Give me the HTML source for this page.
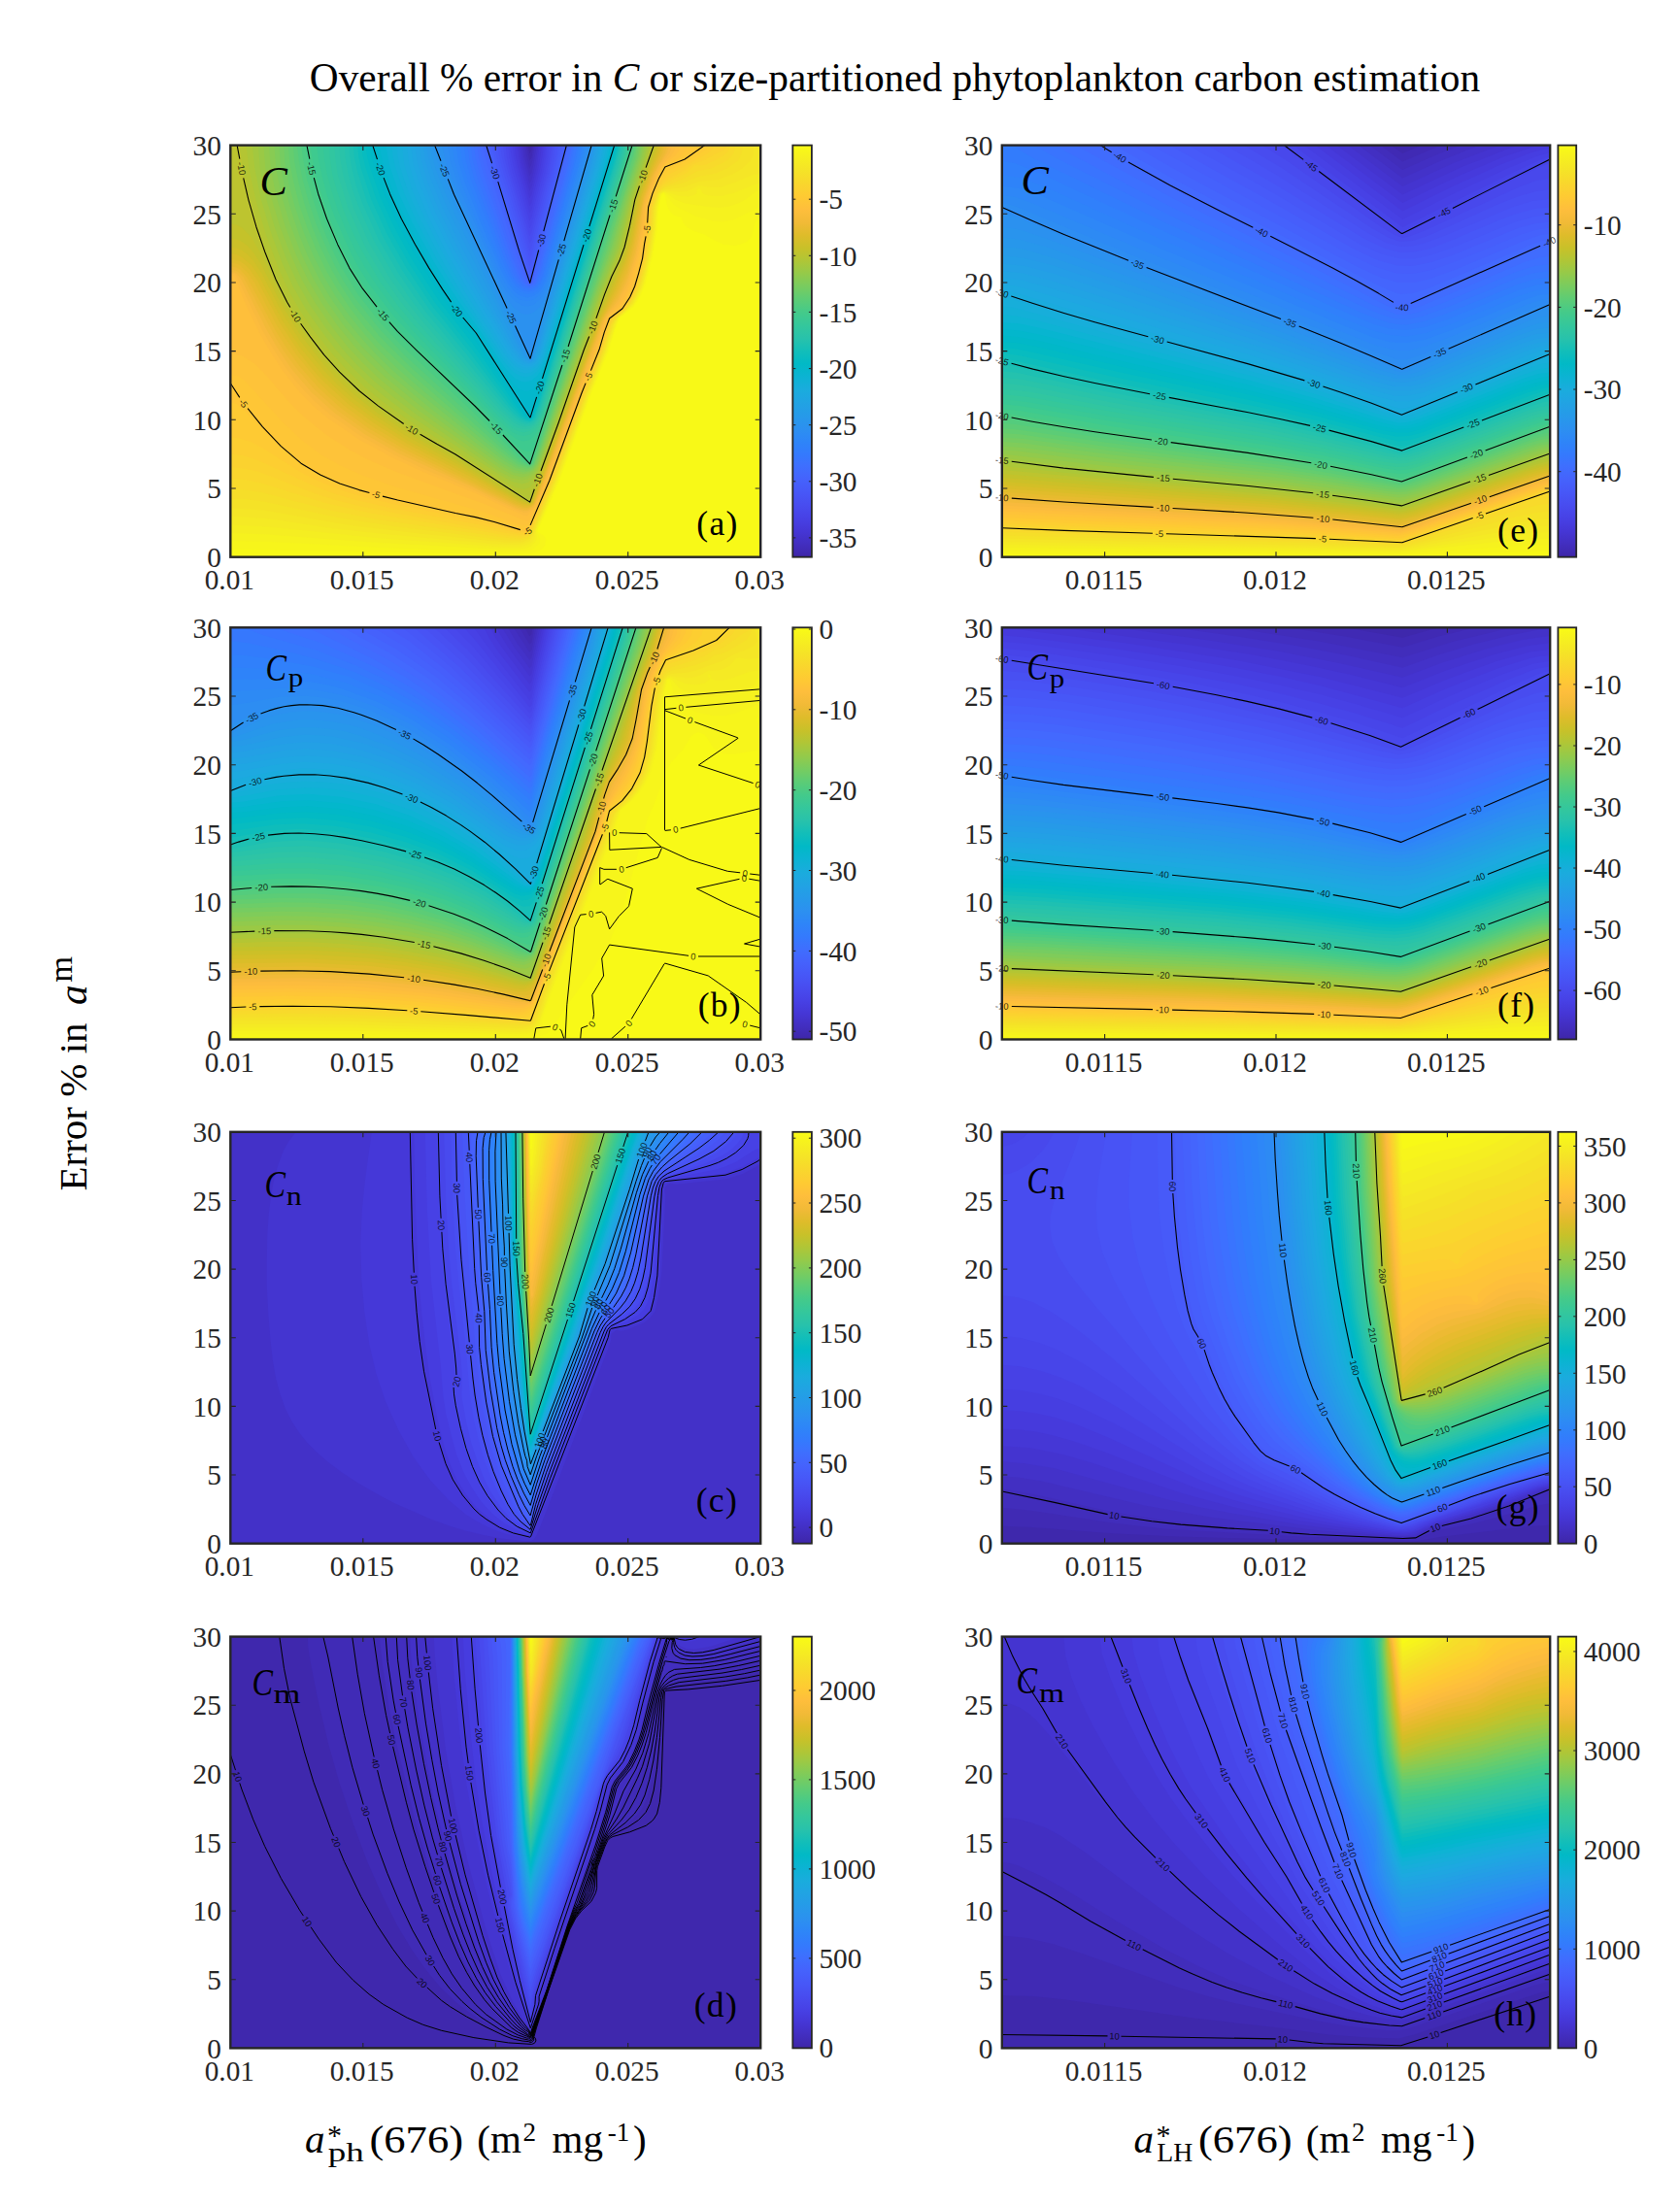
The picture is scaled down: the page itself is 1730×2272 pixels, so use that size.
<!DOCTYPE html>
<html><head><meta charset="utf-8"><title>Overall % error in C</title><style>html,body{margin:0;padding:0;background:#fff}svg{display:block}</style></head><body><svg width="1730" height="2272" viewBox="0 0 1730 2272"><defs><linearGradient id="pg" x1="0" y1="0" x2="0" y2="1"><stop offset="0%" stop-color="#f9fb15"/><stop offset="3.1%" stop-color="#f6ef20"/><stop offset="6.2%" stop-color="#f5e327"/><stop offset="9.4%" stop-color="#f9d62d"/><stop offset="12.5%" stop-color="#feca33"/><stop offset="15.6%" stop-color="#febe3c"/><stop offset="18.8%" stop-color="#f1ba37"/><stop offset="21.9%" stop-color="#debc2a"/><stop offset="25%" stop-color="#c8c129"/><stop offset="28.1%" stop-color="#afc637"/><stop offset="31.2%" stop-color="#94ca4a"/><stop offset="34.4%" stop-color="#77cc60"/><stop offset="37.5%" stop-color="#5ccc76"/><stop offset="40.6%" stop-color="#44ca8a"/><stop offset="43.8%" stop-color="#34c79c"/><stop offset="46.9%" stop-color="#28c2ab"/><stop offset="50%" stop-color="#12beb9"/><stop offset="53.1%" stop-color="#01b9c6"/><stop offset="56.2%" stop-color="#0cb3d3"/><stop offset="59.4%" stop-color="#1aacdd"/><stop offset="62.5%" stop-color="#21a3e3"/><stop offset="65.6%" stop-color="#269ae9"/><stop offset="68.8%" stop-color="#2c90f0"/><stop offset="71.9%" stop-color="#2e85f8"/><stop offset="75%" stop-color="#347afd"/><stop offset="78.1%" stop-color="#3f6efe"/><stop offset="81.2%" stop-color="#4562fc"/><stop offset="84.4%" stop-color="#4757f7"/><stop offset="87.5%" stop-color="#484cef"/><stop offset="90.6%" stop-color="#4741e5"/><stop offset="93.8%" stop-color="#4536d5"/><stop offset="96.9%" stop-color="#422ebf"/><stop offset="100%" stop-color="#3e26a8"/></linearGradient></defs>
<g transform="translate(237.3,149.6) scale(0.5)">
<rect width="1092" height="848" fill="#3e28ac"/>
<path fill="#402ab4" d="M1088 848l-1088 0 0 -848 613 0 3 17 4 -7 1 -10 471 0 0 848 -4 0z"/>
<path fill="#412dbb" d="M1088 848l-1088 0 0 -848 609 0 7 32 4 -6 4 -26 468 0 0 848 -4 0z"/>
<path fill="#422fc2" d="M1088 848l-1088 0 0 -848 606 0 3 20 7 28 5 -12 6 -36 465 0 0 848 -4 0z"/>
<path fill="#4332c9" d="M1088 848l-1088 0 0 -848 602 0 3 24 11 39 4 -6 4 -17 7 -40 461 0 0 848 -4 0z"/>
<path fill="#4434d0" d="M1088 848l-1088 0 0 -848 598 0 4 28 14 51 4 -7 8 -32 6 -40 458 0 0 848 -4 0z"/>
<path fill="#4537d6" d="M1088 848l-1088 0 0 -848 594 0 5 36 17 58 4 -6 11 -44 6 -44 455 0 0 848 -4 0z"/>
<path fill="#463adc" d="M1088 848l-1088 0 0 -848 590 0 6 40 20 69 4 -6 14 -55 5 -28 2 -20 451 0 0 848 -4 0z"/>
<path fill="#463ee1" d="M1088 848l-1088 0 0 -848 586 0 1 20 5 24 24 81 4 -6 18 -71 5 -28 2 -20 447 0 0 848 -4 0z"/>
<path fill="#4741e5" d="M1088 848l-1088 0 0 -848 581 0 2 20 5 24 28 96 4 -6 21 -82 5 -28 3 -24 443 0 0 848 -4 0z"/>
<path fill="#4745e9" d="M1088 848l-1088 0 0 -848 576 0 2 20 6 28 32 108 4 -7 25 -97 5 -28 2 -24 440 0 0 848 -4 0z"/>
<path fill="#4848ec" d="M1088 848l-1088 0 0 -848 572 0 2 24 6 28 36 119 4 -6 28 -109 6 -32 2 -24 436 0 0 848 -4 0z"/>
<path fill="#484cef" d="M1088 848l-1088 0 0 -848 567 0 2 24 6 28 41 135 4 -7 32 -124 6 -32 3 -24 431 0 0 848 -4 0z"/>
<path fill="#4850f2" d="M1088 848l-1088 0 0 -848 562 0 2 24 7 28 45 150 4 -6 36 -140 6 -32 3 -24 427 0 0 848 -4 0z"/>
<path fill="#4853f5" d="M1088 848l-1088 0 0 -848 556 0 2 20 8 32 50 166 4 -7 40 -155 7 -32 2 -24 423 0 0 848 -4 0z"/>
<path fill="#4757f7" d="M1088 848l-1088 0 0 -848 551 0 2 20 8 32 55 181 4 -7 44 -170 8 -36 2 -20 418 0 0 848 -4 0z"/>
<path fill="#475af9" d="M1088 848l-1088 0 0 -848 544 0 3 20 8 28 61 201 4 -8 48 -185 11 -56 413 0 0 848 -4 0z"/>
<path fill="#465efb" d="M1088 848l-1088 0 0 -848 538 0 9 40 69 225 4 -9 53 -204 11 -52 408 0 0 848 -4 0z"/>
<path fill="#4561fc" d="M1088 848l-1088 0 0 -848 529 0 87 278 4 -10 70 -268 402 0 0 848 -4 0z"/>
<path fill="#4465fd" d="M1088 848l-1088 0 0 -848 523 0 69 220 24 65 3 -1 2 -4 73 -280 398 0 0 848 -4 0z"/>
<path fill="#4369fe" d="M1088 848l-1088 0 0 -848 519 0 11 44 57 176 18 48 8 16 3 2 6 -2 1 -4 74 -280 395 0 0 848 -4 0z"/>
<path fill="#406cfe" d="M1088 848l-1088 0 0 -848 513 0 4 20 8 32 56 168 22 52 7 12 6 4 4 -1 3 -3 10 -28 58 -216 9 -40 392 0 0 848 -4 0z"/>
<path fill="#3d70ff" d="M1088 848l-1088 0 0 -848 508 0 3 24 10 36 56 164 21 48 8 12 10 6 4 -1 6 -5 10 -28 59 -216 8 -40 389 0 0 848 -4 0z"/>
<path fill="#3974fe" d="M1088 848l-1088 0 0 -848 501 0 4 28 10 36 60 168 20 44 11 12 10 4 8 -3 5 -5 9 -24 59 -216 9 -44 386 0 0 848 -4 0z"/>
<path fill="#3678fd" d="M1088 848l-1088 0 0 -848 495 0 3 28 11 40 62 168 12 28 10 16 11 11 12 4 8 -3 5 -4 5 -8 7 -20 60 -216 8 -44 383 0 0 848 -4 0z"/>
<path fill="#327cfc" d="M1088 848l-1088 0 0 -848 488 0 4 32 11 40 64 168 13 28 10 16 14 12 12 2 8 -2 8 -7 6 -9 6 -16 61 -220 6 -28 2 -16 379 0 0 848 -4 0z"/>
<path fill="#3080fb" d="M1088 848l-1088 0 0 -848 481 0 4 32 12 44 64 164 13 28 13 20 13 11 12 3 12 -2 8 -6 7 -10 7 -16 61 -220 7 -28 3 -20 375 0 0 848 -4 0z"/>
<path fill="#2e83f9" d="M1088 848l-1088 0 0 -848 473 0 4 32 13 44 27 72 42 100 14 28 11 16 12 10 16 5 12 -2 8 -5 9 -12 7 -16 63 -224 7 -28 2 -20 372 0 0 848 -4 0z"/>
<path fill="#2e87f7" d="M1088 848l-1088 0 0 -848 465 0 4 32 15 48 30 76 43 100 14 28 13 16 12 10 16 4 12 -3 12 -9 8 -12 6 -14 65 -228 7 -28 2 -20 368 0 0 848 -4 0z"/>
<path fill="#2d8af4" d="M1088 848l-1088 0 0 -848 456 0 5 32 17 52 32 80 45 100 15 28 14 17 12 9 16 3 12 -3 12 -9 8 -11 8 -17 66 -233 8 -32 2 -16 364 0 0 848 -4 0z"/>
<path fill="#2d8df2" d="M1088 848l-1088 0 0 -848 447 0 7 36 19 56 81 184 16 28 14 16 16 10 12 2 12 -3 12 -10 8 -11 9 -20 69 -240 11 -48 359 0 0 848 -4 0z"/>
<path fill="#2b91ef" d="M1088 848l-1088 0 0 -848 436 0 7 32 25 68 88 191 16 29 12 15 16 12 12 2 12 -4 12 -11 8 -13 9 -21 73 -252 12 -48 354 0 0 848 -4 0z"/>
<path fill="#2994ed" d="M1088 848l-1088 0 0 -848 421 0 39 100 133 284 23 53 4 -7 124 -430 348 0 0 848 -4 0z"/>
<path fill="#2797eb" d="M1088 848l-1088 0 0 -848 416 0 12 39 33 81 132 280 23 41 4 -1 5 -16 121 -424 346 0 0 848 -4 0z"/>
<path fill="#269ae8" d="M1088 848l-1088 0 0 -848 410 0 4 20 10 32 19 48 20 44 127 260 16 28 6 8 4 3 6 -3 9 -28 109 -376 9 -36 343 0 0 848 -4 0z"/>
<path fill="#249de7" d="M1088 848l-1088 0 0 -848 403 0 4 24 13 40 19 48 24 52 124 244 18 28 11 8 4 0 4 -4 10 -28 108 -372 9 -40 341 0 0 848 -4 0z"/>
<path fill="#23a0e5" d="M1088 848l-1088 0 0 -848 396 0 5 32 13 40 19 48 30 64 47 92 73 136 17 24 8 7 8 3 4 0 6 -6 11 -28 108 -372 9 -40 338 0 0 848 -4 0z"/>
<path fill="#21a3e3" d="M1088 848l-1088 0 0 -848 389 0 4 32 13 44 23 56 33 68 44 84 74 132 18 24 10 7 8 2 8 -4 5 -5 9 -24 110 -372 7 -28 2 -16 335 0 0 848 -4 0z"/>
<path fill="#1fa6e2" d="M1088 848l-1088 0 0 -848 380 0 5 36 15 48 25 60 36 72 42 76 74 128 20 24 11 6 8 1 8 -3 5 -4 5 -8 7 -20 110 -372 7 -28 2 -16 332 0 0 848 -4 0z"/>
<path fill="#1da9e0" d="M1088 848l-1088 0 0 -848 372 0 5 40 14 44 23 56 36 72 44 80 77 128 11 16 10 10 10 6 10 3 8 -1 8 -6 6 -8 8 -20 111 -372 8 -28 2 -20 329 0 0 848 -4 0z"/>
<path fill="#1aabdd" d="M1088 848l-1088 0 0 -848 363 0 5 40 15 48 25 60 39 76 44 76 79 128 10 13 12 11 12 6 8 1 12 -3 8 -7 5 -9 7 -16 113 -376 7 -28 3 -20 325 0 0 848 -4 0z"/>
<path fill="#17aeda" d="M1088 848l-1088 0 0 -848 353 0 5 40 16 52 27 60 37 72 46 80 82 128 10 12 12 12 12 6 8 2 12 -2 12 -8 6 -10 7 -16 115 -380 7 -28 3 -20 322 0 0 848 -4 0z"/>
<path fill="#13b0d7" d="M1088 848l-1088 0 0 -848 343 0 1 20 5 24 17 52 27 60 40 76 45 76 86 130 12 15 12 10 8 4 12 3 12 -2 12 -9 8 -11 7 -16 115 -380 9 -32 3 -20 318 0 0 848 -4 0z"/>
<path fill="#0eb3d4" d="M1088 848l-1088 0 0 -848 332 0 2 20 5 24 19 56 27 60 43 80 47 76 42 60 47 71 12 14 12 10 8 4 12 3 12 -3 12 -9 8 -11 8 -18 118 -385 9 -32 3 -20 314 0 0 848 -4 0z"/>
<path fill="#07b5d0" d="M1088 848l-1088 0 0 -848 320 0 7 40 20 60 28 60 46 84 48 76 44 60 51 77 12 14 12 11 12 5 8 1 12 -3 12 -10 8 -12 10 -23 119 -388 14 -52 309 0 0 848 -4 0z"/>
<path fill="#03b7cc" d="M1088 848l-1088 0 0 -848 306 0 10 44 22 60 25 52 51 92 51 80 45 56 62 95 20 21 12 6 8 1 12 -5 8 -10 16 -37 140 -455 304 0 0 848 -4 0z"/>
<path fill="#01b8c8" d="M1088 848l-1088 0 0 -848 291 0 17 52 20 52 24 52 31 56 51 84 30 44 41 48 111 173 4 -1 1 -8 171 -552 300 0 0 848 -4 0z"/>
<path fill="#02bac4" d="M1088 848l-1088 0 0 -848 285 0 11 44 22 60 25 56 38 68 59 92 20 27 40 49 91 136 18 24 7 6 5 -2 173 -560 298 0 0 848 -4 0z"/>
<path fill="#07bcc0" d="M1088 848l-1088 0 0 -848 278 0 3 20 6 24 22 64 28 60 37 68 55 84 71 90 85 122 19 24 12 8 4 -1 3 -3 8 -24 165 -536 296 0 0 848 -4 0z"/>
<path fill="#0ebdbb" d="M1088 848l-1088 0 0 -848 270 0 2 20 7 28 21 62 30 66 38 68 53 80 75 94 83 114 20 24 9 7 8 3 4 -1 4 -5 9 -24 157 -504 8 -32 294 0 0 848 -4 0z"/>
<path fill="#16bfb7" d="M1088 848l-1088 0 0 -848 262 0 2 24 5 24 21 64 31 68 41 72 54 80 76 94 83 110 23 24 10 6 8 2 4 -1 6 -7 9 -24 156 -500 9 -36 292 0 0 848 -4 0z"/>
<path fill="#1ec0b2" d="M1088 848l-1088 0 0 -848 253 0 2 24 6 28 20 64 33 72 41 72 56 80 77 93 81 103 14 16 13 11 12 6 8 1 8 -4 4 -5 9 -25 155 -496 10 -40 290 0 0 848 -4 0z"/>
<path fill="#24c2ae" d="M1088 848l-1088 0 0 -848 244 0 2 24 5 28 8 32 13 36 32 72 42 72 30 44 30 40 159 192 25 24 10 6 12 3 8 -2 8 -6 9 -21 158 -504 9 -40 288 0 0 848 -4 0z"/>
<path fill="#29c3a9" d="M1088 848l-1088 0 0 -848 235 0 2 28 5 28 8 32 13 36 32 72 42 72 30 44 31 40 160 188 26 26 12 7 12 3 8 0 8 -4 7 -8 7 -16 160 -508 6 -24 3 -16 285 0 0 848 -4 0z"/>
<path fill="#2ec4a5" d="M1088 848l-1088 0 0 -848 224 0 2 28 6 32 9 32 12 36 32 72 42 72 31 44 35 44 161 184 30 28 12 6 12 2 12 -2 8 -6 5 -8 7 -16 159 -504 8 -28 3 -16 282 0 0 848 -4 0z"/>
<path fill="#31c6a0" d="M1088 848l-1088 0 0 -848 214 0 2 28 5 32 21 68 33 76 20 36 23 36 31 44 35 44 166 184 30 28 12 7 12 2 12 -1 8 -5 10 -11 7 -16 161 -508 8 -28 2 -16 280 0 0 848 -4 0z"/>
<path fill="#35c79a" d="M1088 848l-1088 0 0 -848 203 0 2 28 5 32 10 36 14 40 16 40 20 40 40 68 33 44 36 44 171 184 30 27 12 6 12 3 12 -3 12 -8 8 -12 7 -17 160 -504 9 -32 3 -16 277 0 0 848 -4 0z"/>
<path fill="#39c895" d="M1088 848l-1088 0 0 -848 191 0 2 28 6 32 10 36 13 40 16 40 19 40 18 32 23 36 35 48 37 44 178 186 32 29 12 6 12 2 12 -3 12 -9 8 -12 8 -19 162 -508 12 -48 274 0 0 848 -4 0z"/>
<path fill="#3eca8f" d="M1088 848l-1088 0 0 -848 178 0 3 28 8 36 9 36 15 44 36 80 15 28 23 36 49 64 56 60 172 174 20 16 8 5 12 3 12 -3 8 -6 8 -11 12 -27 164 -515 14 -48 270 0 0 848 -4 0z"/>
<path fill="#44cb89" d="M1088 848l-1088 0 0 -848 164 0 8 44 8 32 25 76 22 52 20 40 32 52 44 56 44 48 141 137 72 74 20 16 12 4 12 -2 1 -9 3 -3 12 -35 186 -582 266 0 0 848 -4 0zM620 640l-1 0 1 0z"/>
<path fill="#4ccb83" d="M1088 848l-1088 0 0 -848 153 0 8 44 8 32 24 76 24 56 20 40 33 52 40 52 34 38 160 153 93 97 19 17 4 -3 209 -654 263 0 0 848 -4 0z"/>
<path fill="#54cc7d" d="M1088 848l-1088 0 0 -848 146 0 4 32 8 40 12 40 16 48 20 48 20 40 37 60 44 56 45 48 148 138 91 90 14 12 11 7 5 -3 148 -456 62 -200 261 0 0 848 -4 0z"/>
<path fill="#5ccc76" d="M1088 848l-1088 0 0 -848 137 0 4 32 8 40 12 44 15 45 20 47 19 40 18 32 24 36 51 64 54 56 138 125 80 75 19 16 17 8 6 -4 13 -36 138 -420 55 -177 5 -23 259 0 0 848 -4 0z"/>
<path fill="#64cd6f" d="M1088 848l-1088 0 0 -848 129 0 3 36 8 40 12 44 16 48 18 44 22 44 21 36 24 36 56 68 65 64 202 180 22 16 18 6 8 -6 6 -16 141 -424 59 -192 6 -24 256 0 0 848 -4 0z"/>
<path fill="#6dcd68" d="M1088 848l-1088 0 0 -848 119 0 3 36 8 40 12 48 17 48 18 44 21 44 24 40 26 38 28 36 30 34 71 68 191 164 24 17 20 7 8 -2 6 -6 9 -24 144 -428 55 -180 4 -24 254 0 0 848 -4 0z"/>
<path fill="#76cc61" d="M1088 848l-1088 0 0 -848 110 0 2 36 8 44 13 48 18 52 20 48 22 44 24 40 27 38 31 38 32 36 37 36 41 36 183 151 24 15 20 5 8 -3 5 -4 12 -28 113 -336 32 -92 29 -100 26 -80 4 -24 251 0 0 848 -4 0z"/>
<path fill="#7fcc5a" d="M1088 848l-1088 0 0 -848 100 0 3 40 8 44 13 48 17 52 20 48 22 44 24 40 29 41 32 39 32 35 36 35 44 38 180 144 28 17 20 5 8 -1 8 -5 6 -8 7 -20 115 -337 33 -91 29 -104 26 -80 4 -24 248 0 0 848 -4 0z"/>
<path fill="#88cb53" d="M1088 848l-1088 0 0 -848 90 0 4 48 11 56 18 60 23 60 23 48 28 48 34 48 37 44 60 60 81 68 151 115 24 14 20 5 12 -2 8 -5 8 -11 6 -16 116 -340 34 -92 29 -104 26 -80 4 -24 245 0 0 848 -4 0z"/>
<path fill="#91ca4c" d="M1088 848l-1088 0 0 -848 79 0 4 48 11 56 19 64 23 60 24 50 27 46 33 47 37 45 30 32 34 32 84 68 152 112 27 15 20 3 12 -3 8 -5 8 -10 8 -20 117 -340 35 -92 27 -100 27 -84 4 -24 242 0 0 848 -4 0z"/>
<path fill="#9ac945" d="M1088 848l-1088 0 0 -848 68 0 4 48 11 56 19 64 23 60 23 51 26 45 33 48 35 44 30 32 33 32 79 64 169 120 27 15 20 5 12 -2 12 -8 8 -10 9 -20 119 -342 35 -90 27 -104 27 -84 5 -24 238 0 0 848 -4 0z"/>
<path fill="#a3c83f" d="M1088 848l-1088 0 0 -848 57 0 4 48 12 60 19 64 24 64 22 48 25 44 33 48 35 44 29 32 36 34 36 30 47 36 175 120 26 14 20 4 12 -2 12 -9 8 -10 9 -21 121 -344 37 -92 26 -104 28 -84 5 -24 234 0 0 848 -4 0z"/>
<path fill="#acc738" d="M1088 848l-1088 0 0 -848 45 0 5 48 13 64 19 64 25 68 22 48 25 44 31 44 34 44 30 32 35 34 36 30 48 36 188 124 24 13 20 5 12 -3 12 -9 8 -12 10 -22 122 -345 38 -95 25 -100 29 -88 6 -24 230 0 0 848 -4 0z"/>
<path fill="#b4c533" d="M1088 848l-1088 0 0 -848 32 0 7 52 14 64 20 68 27 72 22 48 23 40 28 40 35 44 29 32 37 36 39 32 50 36 197 126 28 15 16 4 12 -4 8 -9 12 -23 8 -21 123 -344 39 -96 24 -100 36 -112 226 0 0 848 -4 0z"/>
<path fill="#bdc42f" d="M1088 848l-1088 0 0 -848 18 0 9 56 20 80 26 84 22 56 24 48 21 34 56 74 32 36 38 36 46 36 63 44 89 52 136 87 16 11 60 -164 52 -150 44 -118 13 -34 16 -32 11 -28 20 -96 39 -112 221 0 0 848 -4 0z"/>
<path fill="#c4c22a" d="M1088 848l-1088 0 0 -686 12 2 12 6 20 21 20 35 44 94 27 44 53 72 32 35 30 29 50 41 68 47 96 55 152 94 4 -5 110 -312 43 -112 15 -37 16 -32 8 -23 12 -48 11 -56 40 -112 217 0 0 848 -4 0z"/>
<path fill="#ccc028" d="M1088 848l-1088 0 0 -656 12 2 12 5 12 9 12 14 16 25 44 87 32 51 52 67 26 28 34 32 48 38 63 42 101 57 131 79 21 10 3 -2 2 -4 115 -320 28 -73 47 -111 12 -44 15 -72 39 -112 215 0 0 848 -4 0z"/>
<path fill="#d3bf27" d="M1088 848l-1088 0 0 -638 12 2 12 5 12 9 12 13 16 25 44 84 36 56 48 60 27 28 29 26 49 38 63 42 104 57 128 75 24 9 4 -2 3 -5 137 -377 52 -119 10 -36 18 -88 16 -47 21 -53 3 -12 212 0 0 848 -4 0z"/>
<path fill="#dabd28" d="M1088 848l-1088 0 0 -625 12 2 12 6 20 17 16 24 46 88 37 56 49 60 52 49 52 39 68 44 124 66 103 58 13 6 12 2 6 -4 5 -12 133 -364 28 -60 25 -60 12 -40 18 -88 17 -50 19 -46 4 -16 209 0 0 848 -4 0z"/>
<path fill="#e1bc2b" d="M1088 848l-1088 0 0 -614 20 5 12 9 8 8 16 24 47 88 37 57 24 31 24 27 53 49 55 41 68 42 136 71 88 48 16 7 12 1 8 -6 5 -12 133 -364 30 -60 23 -56 13 -43 18 -93 17 -48 20 -44 3 -16 206 0 0 848 -4 0z"/>
<path fill="#e7bb2e" d="M1088 848l-1088 0 0 -606 12 2 8 4 16 15 14 21 46 88 40 60 46 56 26 26 28 24 57 42 71 42 224 116 16 6 12 0 8 -6 6 -14 134 -364 30 -56 22 -52 13 -44 20 -100 17 -48 20 -44 4 -16 202 0 0 848 -4 0z"/>
<path fill="#edba33" d="M1088 848l-1088 0 0 -599 12 3 8 4 14 16 60 112 23 36 26 36 39 44 46 42 58 42 68 40 232 116 14 6 12 1 8 -3 4 -4 6 -12 134 -364 8 -16 24 -40 20 -45 15 -51 20 -104 19 -52 20 -40 4 -16 198 0 0 848 -4 0z"/>
<path fill="#f2ba38" d="M1088 848l-1088 0 0 -593 15 5 12 12 59 112 22 37 25 35 41 48 46 42 59 42 73 42 236 114 12 5 12 1 12 -8 6 -10 136 -368 8 -16 24 -36 18 -39 17 -53 8 -44 7 -48 5 -20 18 -48 24 -44 4 -16 193 0 0 848 -4 0z"/>
<path fill="#f8ba3d" d="M1088 848l-1088 0 0 -588 12 4 10 12 54 107 25 41 24 36 41 48 49 44 61 43 73 41 151 69 88 43 16 5 8 0 12 -8 11 -21 135 -364 6 -11 22 -29 19 -40 18 -56 10 -52 5 -44 7 -24 18 -48 8 -16 16 -24 5 -16 188 0 0 848 -4 0z"/>
<path fill="#fcbc3d" d="M1088 848l-1088 0 0 -583 8 0 3 3 54 112 27 46 20 30 21 28 21 24 20 20 30 26 59 42 77 43 56 27 100 42 92 43 16 6 8 0 8 -5 8 -9 10 -23 112 -296 22 -64 4 -8 24 -28 18 -36 19 -60 10 -52 6 -48 6 -24 21 -52 7 -12 18 -24 5 -16 182 0 0 848 -4 0z"/>
<path fill="#febf3b" d="M1088 848l-1088 0 0 -577 4 -4 4 3 18 46 32 68 28 48 24 36 35 44 23 23 32 27 64 44 68 37 60 28 112 46 100 46 8 1 17 -20 21 -48 69 -188 34 -88 21 -60 6 -10 22 -22 12 -20 8 -20 19 -64 9 -48 7 -56 15 -44 15 -32 22 -24 5 -8 3 -12 175 0 0 848 -4 0z"/>
<path fill="#fec339" d="M1088 848l-1088 0 0 -419 24 5 24 15 20 19 55 64 29 28 44 36 50 32 46 24 57 24 171 62 80 33 12 3 4 -2 2 -4 14 -26 23 -54 66 -180 33 -84 23 -68 27 -23 12 -21 11 -24 17 -60 9 -56 5 -48 16 -48 15 -32 28 -24 6 -8 3 -12 166 0 0 848 -4 0z"/>
<path fill="#fec636" d="M1088 848l-1088 0 0 -376 16 4 16 12 73 80 43 41 36 27 42 24 50 22 64 22 176 50 80 28 8 1 8 -1 4 -3 4 -6 36 -83 67 -182 33 -84 23 -68 26 -20 16 -24 11 -24 15 -60 9 -52 3 -48 21 -60 12 -24 28 -16 10 -8 8 -12 2 -8 152 0 0 848 -4 0z"/>
<path fill="#feca33" d="M1088 848l-1088 0 0 -319 12 4 12 9 76 78 43 36 41 24 35 16 47 16 45 12 205 46 92 26 4 0 46 -108 65 -176 37 -91 10 -37 10 -25 28 -23 15 -24 11 -24 15 -56 9 -56 3 -48 10 -32 22 -48 3 -3 40 -15 44 -30 112 0 0 848 -4 0z"/>
<path fill="#fdce31" d="M1088 848l-1088 0 0 -247 20 3 24 8 24 13 84 53 36 17 44 17 44 13 63 15 173 35 88 22 12 1 4 -6 44 -104 65 -176 35 -88 20 -60 4 -8 21 -16 7 -8 12 -17 12 -27 16 -62 8 -50 3 -48 8 -28 14 -28 15 -19 36 -17 32 -19 12 -8 6 -9 106 0 0 848 -4 0z"/>
<path fill="#fbd22f" d="M1088 848l-1088 0 0 -212 24 3 28 8 120 55 40 15 40 12 84 20 172 32 80 17 16 2 8 -1 6 -7 42 -100 66 -180 36 -88 20 -60 5 -8 21 -17 9 -11 8 -12 12 -28 16 -60 8 -52 4 -48 8 -28 7 -13 12 -16 12 -11 74 -40 11 -8 7 -12 96 0 0 848 -4 0z"/>
<path fill="#fad62d" d="M1088 848l-1088 0 0 -185 28 3 28 6 128 49 40 12 45 11 80 16 231 41 20 2 12 -2 7 -9 43 -100 66 -180 36 -88 18 -56 7 -12 20 -16 9 -12 8 -12 11 -24 18 -64 8 -52 3 -48 8 -24 6 -13 8 -10 12 -10 36 -20 16 -12 24 -8 28 -16 12 -4 5 -7 -1 -4 72 0 0 848 -4 0z"/>
<path fill="#f8da2b" d="M1088 848l-1088 0 0 -161 28 2 32 6 136 42 92 21 288 47 24 1 12 -2 8 -9 43 -103 67 -180 35 -88 19 -56 7 -12 19 -16 10 -12 8 -12 11 -24 17 -64 9 -52 3 -48 6 -20 6 -13 8 -10 8 -6 45 -23 15 -15 12 1 12 -2 32 -16 12 -10 5 -14 63 0 0 848 -4 0z"/>
<path fill="#f6de29" d="M1088 848l-1088 0 0 -140 32 2 32 5 144 38 100 19 264 37 24 1 16 -3 9 -11 45 -108 66 -176 35 -88 18 -56 8 -12 18 -16 10 -12 10 -16 10 -20 16 -60 9 -56 4 -48 10 -30 12 -12 44 -18 24 -14 29 -6 27 -12 11 -8 7 -8 4 -8 2 -12 52 0 0 848 -4 0z"/>
<path fill="#f5e227" d="M1088 848l-1088 0 0 -120 32 1 36 5 152 33 109 17 243 30 24 0 16 -4 9 -10 47 -112 65 -176 35 -88 19 -56 7 -12 18 -16 11 -12 10 -16 9 -20 17 -60 9 -56 4 -48 9 -28 7 -9 8 -4 36 -9 32 -13 36 -7 24 -11 22 -15 7 -16 3 -16 36 0 0 848 -4 0z"/>
<path fill="#f5e626" d="M1088 848l-1088 0 0 -101 68 5 172 30 140 17 196 20 24 -1 16 -7 6 -7 48 -116 63 -172 37 -92 19 -56 7 -12 22 -20 9 -12 10 -16 8 -20 16 -56 9 -60 3 -44 9 -28 6 -6 8 -3 36 -4 32 -12 40 -4 28 -10 22 -13 17 -16 6 -12 0 -20 15 0 0 848 -4 0z"/>
<path fill="#f5ea24" d="M1088 848l-1088 0 0 -84 76 5 140 21 80 9 252 23 44 1 12 -2 12 -5 8 -10 5 -18 42 -100 67 -180 34 -84 18 -56 7 -12 29 -28 10 -16 11 -24 16 -60 9 -56 3 -44 9 -28 8 -6 32 2 16 -1 24 -12 28 4 20 -1 24 -8 40 -17 16 -3 0 790 -4 0z"/>
<path fill="#f5ee21" d="M1088 848l-1088 0 0 -66 76 4 224 23 248 18 44 1 12 -2 12 -4 7 -6 4 -8 2 -16 44 -104 67 -180 33 -84 19 -56 6 -12 23 -20 7 -8 10 -16 11 -24 16 -60 9 -56 3 -44 8 -28 7 -4 4 0 28 9 20 1 9 -2 7 -4 1 -8 3 -3 4 1 4 9 8 4 16 2 16 0 24 -6 40 -17 16 -4 0 770 -4 0z"/>
<path fill="#f6f21e" d="M1088 848l-1088 0 0 -49 76 3 228 17 248 13 44 0 12 -1 12 -5 9 -10 2 -8 -2 -12 1 -4 45 -104 66 -180 34 -84 19 -56 5 -12 29 -26 12 -18 10 -24 16 -60 9 -56 3 -44 9 -28 5 -3 4 1 20 14 20 8 48 7 24 2 20 -3 20 -7 16 -9 17 -14 11 -3 0 755 -4 0z"/>
<path fill="#f7f51b" d="M1088 848l-1088 0 0 -33 80 2 228 12 256 9 44 -2 12 -3 9 -5 7 -8 2 -8 -7 -16 1 -4 45 -104 66 -180 34 -84 18 -56 6 -12 28 -24 13 -20 10 -24 17 -64 8 -52 3 -44 6 -24 2 -4 4 -2 3 2 17 22 12 8 36 17 36 10 20 1 20 -4 44 -22 12 -3 0 719 -4 0z"/>
<path fill="#f8f917" d="M1088 848l-1088 0 0 -16 576 11 44 -2 12 -4 9 -5 7 -8 2 -12 -5 -8 -13 -8 47 -108 65 -178 35 -86 13 -44 10 -24 29 -24 13 -20 10 -24 16 -60 2 -17 7 -35 3 -48 6 -24 4 -5 3 5 4 20 5 11 8 9 16 5 4 11 8 9 12 7 24 8 24 14 16 7 24 2 12 -3 12 -5 10 -11 6 -28 4 -5 8 -4 0 697 -4 0z"/>
</g>
<clipPath id="cla"><rect x="237.3" y="149.6" width="545.9" height="424.1"/></clipPath>
<g clip-path="url(#cla)"><path d="M237 394.3 246.8 409.4M255.1 420.7 270.2 439.4 289.4 459.7 310 477.2 329.8 489 349.8 498 369.8 504.6 380.4 507.5M394 511.1 409.5 515 469 528.5 489.6 532.6 509 537.5 535.8 545.6M546.1 540.9 565.8 495 599 404.8 603.1 394.6M608.4 381.6 617 360.3 622.3 342.1 627.6 328 641 317.7 648.7 306 653.6 295 657.6 281.6 661.6 266.1 663.6 251.2 665.1 243.3M666.7 229.5 667.6 213.5 672 199.1 678.6 183.4 684.8 172 705.2 164 726.5 149M244 149 246.8 163.7M250.7 183.4 255.9 205.8 263.9 233.7 272.7 259.2 284.1 288 295.7 311.3 298.8 316.5M309.6 333.3 319.6 347.1 333.6 365.3 349.6 383.2 369.9 402.5 389.5 418.1 415.7 436.5M432.6 447.2 449.8 457.3 469.1 468 545.7 517.1 550.3 503.8M557 485 575.2 435.2 601.2 360.5 606.7 346.5M613.9 327.9 622.5 303.4 629.9 284.8 637.9 268.6 643.1 254.5 648.5 232.2 653.8 205.7 658.5 191.5M665.1 172.6 673.5 149M315.8 149 318.8 163.7M323.3 183.2 327.7 199.7 336.5 225.2 347.8 251.9 359.9 276.1 373.3 297.2 388.1 316.2M400.8 331.6 409.4 341.4 429.3 361.2 489.4 418.5 504.1 433.5M517.9 448 545.7 477.8 578.9 376M585.1 357 628.1 221.5M634.2 202.4 651.2 149M383.6 149 388.5 164.2M395.1 183.1 401.6 199.9 413.3 225.3 427.5 251.7 441.6 275.9 455.6 297.9 464.6 311.1M476.7 327 490.3 343 545.7 429.8 546.1 429.9 552.6 408.9M558.5 389.8 601 252.2M606.9 233.1 632.9 149M447.4 149 454 165.8M461.3 184.4 467.5 200.3 522.1 317.4M530.5 335.6 546 369.3 575.3 267.4M580.8 248.2 609.3 149M500.5 149 506.6 168.1M512.8 187.2 534.8 259.1 545.7 291.4 554.7 257.5M559.8 238.1 583.5 149" fill="none" stroke="#000" stroke-width="1.1" stroke-linejoin="round"/><g font-family="Liberation Sans, Arial, sans-serif" font-size="9.5" text-anchor="middle" fill="#000" fill-opacity="0.82"><text transform="translate(250.7,415.2) rotate(53)" y="3.4">-5</text><text transform="translate(387.2,509.3) rotate(15)" y="3.4">-5</text><text transform="translate(666.3,236.4) rotate(-83.7)" y="3.4">-5</text><text transform="translate(605.7,388.1) rotate(-68)" y="3.4">-5</text><text transform="translate(543.2,547.3) rotate(-32.8)" y="3.4">-5</text><text transform="translate(248.7,173.6) rotate(79.2)" y="3.4">-10</text><text transform="translate(304,325) rotate(58.6)" y="3.4">-10</text><text transform="translate(424,442.1) rotate(31.5)" y="3.4">-10</text><text transform="translate(661.7,182) rotate(-70.9)" y="3.4">-10</text><text transform="translate(610.3,337.2) rotate(-68.6)" y="3.4">-10</text><text transform="translate(553.6,494.4) rotate(-70.3)" y="3.4">-10</text><text transform="translate(320.7,173.5) rotate(77.1)" y="3.4">-15</text><text transform="translate(394.3,324) rotate(51.2)" y="3.4">-15</text><text transform="translate(511.1,440.7) rotate(46.4)" y="3.4">-15</text><text transform="translate(631.2,212) rotate(-72.4)" y="3.4">-15</text><text transform="translate(582,366.5) rotate(-72)" y="3.4">-15</text><text transform="translate(391.6,173.8) rotate(70.7)" y="3.4">-20</text><text transform="translate(470.2,319.4) rotate(52.8)" y="3.4">-20</text><text transform="translate(604,242.6) rotate(-72.8)" y="3.4">-20</text><text transform="translate(555.6,399.3) rotate(-72.8)" y="3.4">-20</text><text transform="translate(457.6,175.1) rotate(68.6)" y="3.4">-25</text><text transform="translate(526.3,326.5) rotate(65.3)" y="3.4">-25</text><text transform="translate(578.1,257.8) rotate(-74)" y="3.4">-25</text><text transform="translate(509.7,177.6) rotate(72.2)" y="3.4">-30</text><text transform="translate(557.3,247.8) rotate(-75.1)" y="3.4">-30</text></g></g>
<path d="M373.8 573.7v-5.5 M373.8 149.6v5.5 M510.3 573.7v-5.5 M510.3 149.6v5.5 M646.7 573.7v-5.5 M646.7 149.6v5.5 M237.3 503h5.5 M783.2 503h-5.5 M237.3 432.3h5.5 M783.2 432.3h-5.5 M237.3 361.6h5.5 M783.2 361.6h-5.5 M237.3 291h5.5 M783.2 291h-5.5 M237.3 220.3h5.5 M783.2 220.3h-5.5" stroke="#262626" stroke-width="1.1" fill="none"/>
<rect x="237.3" y="149.6" width="545.9" height="424.1" fill="none" stroke="#262626" stroke-width="2.4"/>
<g font-family="Liberation Serif, Times New Roman, serif" font-size="29.3" fill="#262626"><text x="236.3" y="606.9" text-anchor="middle">0.01</text><text x="372.8" y="606.9" text-anchor="middle">0.015</text><text x="509.3" y="606.9" text-anchor="middle">0.02</text><text x="645.7" y="606.9" text-anchor="middle">0.025</text><text x="782.2" y="606.9" text-anchor="middle">0.03</text><text x="227.8" y="583.9" text-anchor="end">0</text><text x="227.8" y="513.2" text-anchor="end">5</text><text x="227.8" y="442.5" text-anchor="end">10</text><text x="227.8" y="371.8" text-anchor="end">15</text><text x="227.8" y="301.2" text-anchor="end">20</text><text x="227.8" y="230.5" text-anchor="end">25</text><text x="227.8" y="159.8" text-anchor="end">30</text></g>
<rect x="816.3" y="149.6" width="19.6" height="424.1" fill="url(#pg)" stroke="#262626" stroke-width="1.8"/>
<path d="M816.3 205.2h3 M835.9 205.2h-3 M816.3 263.3h3 M835.9 263.3h-3 M816.3 321.4h3 M835.9 321.4h-3 M816.3 379.6h3 M835.9 379.6h-3 M816.3 437.7h3 M835.9 437.7h-3 M816.3 495.8h3 M835.9 495.8h-3 M816.3 553.9h3 M835.9 553.9h-3" stroke="#262626" stroke-width="1" fill="none"/>
<g font-family="Liberation Serif, Times New Roman, serif" font-size="29.3" fill="#262626"><text x="843.4" y="215.4">-5</text><text x="843.4" y="273.5">-10</text><text x="843.4" y="331.6">-15</text><text x="843.4" y="389.8">-20</text><text x="843.4" y="447.9">-25</text><text x="843.4" y="506">-30</text><text x="843.4" y="564.1">-35</text></g>
<g transform="translate(237.3,646.3) scale(0.5)">
<rect width="1092" height="848" fill="#3e28ac"/>
<path fill="#402ab4" d="M1088 848l-1088 0 0 -848 606 0 10 18 4 -4 2 -14 470 0 0 848 -4 0z"/>
<path fill="#412dbb" d="M1088 848l-1088 0 0 -848 595 0 21 35 4 -4 6 -31 466 0 0 848 -4 0z"/>
<path fill="#422fc2" d="M1088 848l-1088 0 0 -848 583 0 33 51 4 -4 10 -47 462 0 0 848 -4 0z"/>
<path fill="#4332c9" d="M1088 848l-1088 0 0 -848 571 0 19 32 26 35 4 -4 14 -63 458 0 0 848 -4 0z"/>
<path fill="#4434d0" d="M1088 848l-1088 0 0 -848 559 0 25 40 32 44 4 -4 18 -80 454 0 0 848 -4 0z"/>
<path fill="#4537d6" d="M1088 848l-1088 0 0 -848 547 0 24 40 45 60 4 -4 22 -96 450 0 0 848 -4 0z"/>
<path fill="#463adc" d="M1088 848l-1088 0 0 -848 535 0 10 20 16 24 55 73 4 -5 26 -112 446 0 0 848 -4 0z"/>
<path fill="#463ee1" d="M1088 848l-1088 0 0 -848 522 0 10 20 15 24 69 89 4 -5 30 -128 442 0 0 848 -4 0z"/>
<path fill="#4741e5" d="M1088 848l-1088 0 0 -848 501 0 44 60 71 90 4 -5 34 -145 438 0 0 848 -4 0z"/>
<path fill="#4745e9" d="M1088 848l-1088 0 0 -848 481 0 23 26 112 138 4 -3 38 -161 434 0 0 848 -4 0z"/>
<path fill="#4848ec" d="M1088 848l-1088 0 0 -848 460 0 36 36 120 140 4 -3 2 -9 40 -164 430 0 0 848 -4 0z"/>
<path fill="#484cef" d="M1088 848l-1088 0 0 -848 440 0 48 46 128 142 4 -3 6 -21 40 -164 426 0 0 848 -4 0z"/>
<path fill="#4850f2" d="M1088 848l-1088 0 0 -848 419 0 61 56 136 144 4 -3 8 -29 43 -168 421 0 0 848 -4 0z"/>
<path fill="#4853f5" d="M1088 848l-1088 0 0 -848 399 0 77 69 140 143 4 -4 10 -36 45 -172 417 0 0 848 -4 0z"/>
<path fill="#4757f7" d="M1088 848l-1088 0 0 -848 378 0 94 82 144 142 4 -4 14 -48 45 -172 413 0 0 848 -4 0z"/>
<path fill="#475af9" d="M1088 848l-1088 0 0 -848 354 0 62 49 44 38 156 149 4 -4 16 -56 47 -176 409 0 0 848 -4 0z"/>
<path fill="#465efb" d="M1088 848l-1088 0 0 -848 323 0 45 28 76 60 52 47 120 113 4 -4 19 -64 48 -180 405 0 0 848 -4 0z"/>
<path fill="#4561fc" d="M1088 848l-1088 0 0 -848 293 0 63 37 72 53 64 55 124 115 4 -4 21 -72 50 -184 401 0 0 848 -4 0z"/>
<path fill="#4465fd" d="M1088 848l-1088 0 0 -848 262 0 82 46 76 53 68 57 128 116 4 -4 22 -76 53 -192 397 0 0 848 -4 0z"/>
<path fill="#4369fe" d="M1088 848l-1088 0 0 -848 231 0 101 55 76 50 80 64 128 115 4 -4 25 -84 54 -196 393 0 0 848 -4 0z"/>
<path fill="#406cfe" d="M1088 848l-1088 0 0 -848 200 0 128 68 76 49 84 65 128 114 4 -4 26 -88 57 -204 389 0 0 848 -4 0z"/>
<path fill="#3d70ff" d="M1088 848l-1088 0 0 -848 153 0 27 10 108 52 72 40 72 49 76 61 108 96 4 -4 27 -92 60 -212 385 0 0 848 -4 0z"/>
<path fill="#3974fe" d="M1088 848l-1088 0 0 -848 90 0 94 31 76 33 52 25 68 40 68 47 76 62 92 81 4 -3 91 -316 381 0 0 848 -4 0z"/>
<path fill="#3678fd" d="M1088 848l-1088 0 0 -848 26 0 42 16 112 32 80 31 68 33 64 38 64 45 76 62 84 74 4 -3 95 -328 377 0 0 848 -4 0z"/>
<path fill="#327cfc" d="M1088 848l-1088 0 0 -821 40 6 92 20 48 13 76 26 68 31 64 37 68 48 80 64 80 71 4 -3 99 -340 373 0 0 848 -4 0z"/>
<path fill="#3080fb" d="M1088 848l-1088 0 0 -792 32 2 48 6 92 17 72 21 68 29 68 37 72 49 84 67 80 71 4 -3 103 -352 369 0 0 848 -4 0z"/>
<path fill="#2e83f9" d="M1088 848l-1088 0 0 -766 92 4 76 10 72 19 68 27 72 39 72 48 84 66 80 72 4 -4 107 -363 365 0 0 848 -4 0z"/>
<path fill="#2e87f7" d="M1088 848l-1088 0 0 -741 100 -1 64 6 36 6 32 9 68 25 36 17 40 22 76 50 88 69 76 69 4 -4 111 -375 361 0 0 848 -4 0z"/>
<path fill="#2d8af4" d="M1088 848l-1088 0 0 -716 104 -7 60 2 32 5 32 7 32 10 36 13 36 17 40 21 76 49 88 69 48 42 32 31 4 -4 115 -387 357 0 0 848 -4 0z"/>
<path fill="#2d8df2" d="M1088 848l-1088 0 0 -688 24 -3 76 -14 56 -2 32 3 32 6 32 9 36 12 40 18 40 21 40 24 40 27 48 35 52 43 48 43 20 22 4 -5 119 -399 353 0 0 848 -4 0z"/>
<path fill="#2b91ef" d="M1088 848l-1088 0 0 -649 76 -32 24 -6 28 -4 32 -2 36 3 40 8 32 10 40 16 40 19 44 24 39 25 45 32 48 38 56 49 36 34 5 -9 122 -404 349 0 0 848 -4 0z"/>
<path fill="#2994ed" d="M1088 848l-1088 0 0 -630 72 -31 28 -8 28 -5 32 -2 36 3 32 5 36 10 36 13 40 18 40 21 40 24 64 45 114 93 15 12 7 2 126 -418 346 0 0 848 -4 0z"/>
<path fill="#2797eb" d="M1088 848l-1088 0 0 -622 16 -3 72 -25 52 -8 32 0 32 3 32 6 32 8 68 27 72 38 76 51 109 85 19 11 8 1 3 -4 11 -32 105 -348 9 -36 344 0 0 848 -4 0z"/>
<path fill="#269ae8" d="M1088 848l-1088 0 0 -613 24 -3 72 -20 48 -6 28 0 32 3 32 5 32 9 64 23 64 32 76 48 112 85 20 10 8 2 8 -1 6 -6 11 -32 105 -348 9 -36 341 0 0 848 -4 0z"/>
<path fill="#249de7" d="M1088 848l-1088 0 0 -602 28 -3 76 -17 48 -5 28 1 32 3 60 13 60 22 64 31 72 45 108 79 24 11 16 1 8 -4 4 -4 9 -23 109 -360 8 -36 338 0 0 848 -4 0z"/>
<path fill="#23a0e5" d="M1088 848l-1088 0 0 -591 28 -2 80 -15 44 -4 28 1 32 3 60 13 56 19 60 27 72 43 112 80 24 10 12 1 8 -2 8 -3 7 -8 10 -24 108 -360 9 -36 334 0 0 848 -4 0z"/>
<path fill="#21a3e3" d="M1088 848l-1088 0 0 -578 32 -3 80 -14 44 -3 56 4 60 12 56 19 60 27 72 41 108 76 24 10 20 0 8 -3 9 -8 7 -10 5 -14 111 -364 9 -40 331 0 0 848 -4 0z"/>
<path fill="#1fa6e2" d="M1088 848l-1088 0 0 -565 28 -2 80 -14 48 -3 60 4 60 12 56 19 60 27 72 41 100 70 24 11 20 0 12 -5 8 -6 8 -11 8 -18 111 -368 10 -40 327 0 0 848 -4 0z"/>
<path fill="#1da9e0" d="M1088 848l-1088 0 0 -550 24 -3 80 -14 48 -4 60 4 64 12 60 20 60 26 68 39 104 73 20 8 12 1 8 -1 12 -6 8 -7 10 -14 8 -20 113 -372 10 -40 323 0 0 848 -4 0z"/>
<path fill="#1aabdd" d="M1088 848l-1088 0 0 -534 92 -18 56 -6 64 3 68 14 64 21 60 26 36 20 36 23 96 69 24 10 16 -1 8 -4 9 -11 7 -12 11 -28 126 -420 319 0 0 848 -4 0z"/>
<path fill="#17aeda" d="M1088 848l-1088 0 0 -512 32 -12 32 -10 44 -8 36 -3 32 0 44 4 36 6 48 13 43 14 33 14 44 22 36 21 46 31 38 30 40 36 32 32 4 -3 158 -523 314 0 0 848 -4 0z"/>
<path fill="#13b0d7" d="M1088 848l-1088 0 0 -505 84 -20 32 -4 36 -2 36 1 40 4 40 8 40 10 40 14 36 15 36 17 36 20 60 41 36 28 61 53 7 2 161 -530 311 0 0 848 -4 0z"/>
<path fill="#0eb3d4" d="M1088 848l-1088 0 0 -496 96 -18 60 -4 36 1 36 4 36 7 40 10 72 26 72 35 68 44 85 67 11 7 8 0 3 -3 8 -24 152 -504 309 0 0 848 -4 0z"/>
<path fill="#07b5d0" d="M1088 848l-1088 0 0 -487 24 -2 76 -13 60 -3 68 6 72 15 68 23 68 31 68 41 92 68 12 6 12 0 5 -5 8 -24 145 -476 7 -28 307 0 0 848 -4 0z"/>
<path fill="#03b7cc" d="M1088 848l-1088 0 0 -477 24 -1 80 -12 56 -2 68 6 68 14 68 21 64 28 36 19 36 22 88 63 17 7 7 1 8 -1 7 -8 9 -24 144 -472 8 -32 304 0 0 848 -4 0z"/>
<path fill="#01b8c8" d="M1088 848l-1088 0 0 -466 28 -2 80 -10 52 -2 68 6 68 14 68 21 64 27 68 37 88 60 16 7 16 1 11 -9 7 -16 149 -484 8 -32 301 0 0 848 -4 0z"/>
<path fill="#02bac4" d="M1088 848l-1088 0 0 -454 104 -12 52 -2 64 5 72 14 68 20 64 25 36 18 36 20 88 58 16 6 16 -1 12 -9 9 -20 149 -484 8 -32 298 0 0 848 -4 0z"/>
<path fill="#07bcc0" d="M1088 848l-1088 0 0 -442 100 -12 52 -2 64 5 72 13 72 21 64 24 36 17 36 19 88 57 16 5 16 -2 12 -10 11 -25 150 -484 8 -32 295 0 0 848 -4 0z"/>
<path fill="#0ebdbb" d="M1088 848l-1088 0 0 -429 92 -13 56 -2 68 5 72 13 76 21 68 25 68 34 84 54 16 6 12 -1 8 -5 8 -8 11 -24 153 -492 9 -32 291 0 0 848 -4 0z"/>
<path fill="#16bfb7" d="M1088 848l-1088 0 0 -415 80 -14 60 -4 68 4 80 15 80 21 72 26 68 34 84 55 12 5 12 -1 9 -10 15 -35 165 -529 287 0 0 848 -4 0z"/>
<path fill="#1ec0b2" d="M1088 848l-1088 0 0 -399 32 -9 32 -8 32 -4 48 -2 44 3 36 4 48 9 60 14 80 24 32 12 43 20 35 20 30 20 36 27 27 25 3 0 191 -604 283 0 0 848 -4 0z"/>
<path fill="#24c2ae" d="M1088 848l-1088 0 0 -392 80 -14 68 -4 40 3 40 4 92 18 80 23 72 29 56 31 84 58 8 2 191 -606 281 0 0 848 -4 0z"/>
<path fill="#29c3a9" d="M1088 848l-1088 0 0 -384 92 -12 64 -2 76 7 84 16 76 21 68 26 64 33 76 49 12 5 8 0 3 -3 4 -12 186 -592 279 0 0 848 -4 0z"/>
<path fill="#2ec4a5" d="M1088 848l-1088 0 0 -375 96 -10 60 -1 72 6 84 15 72 19 64 23 64 30 82 49 14 6 12 -1 5 -5 4 -12 179 -564 7 -28 277 0 0 848 -4 0z"/>
<path fill="#31c6a0" d="M1088 848l-1088 0 0 -366 100 -8 56 -1 72 6 76 13 68 17 60 19 68 30 89 50 19 6 12 -2 7 -8 4 -12 178 -560 9 -32 274 0 0 848 -4 0z"/>
<path fill="#35c79a" d="M1088 848l-1088 0 0 -356 104 -7 56 0 68 5 72 11 76 19 68 23 56 24 75 41 17 8 16 2 12 -3 8 -9 5 -14 179 -560 8 -32 272 0 0 848 -4 0z"/>
<path fill="#39c895" d="M1088 848l-1088 0 0 -346 104 -6 56 0 68 5 72 11 64 14 56 17 72 29 92 47 16 5 16 -3 12 -11 7 -18 180 -560 8 -32 269 0 0 848 -4 0z"/>
<path fill="#3eca8f" d="M1088 848l-1088 0 0 -336 100 -5 60 0 68 4 72 11 72 16 68 22 56 23 92 45 16 2 12 -3 12 -12 8 -19 182 -564 8 -32 266 0 0 848 -4 0z"/>
<path fill="#44cb89" d="M1088 848l-1088 0 0 -325 100 -6 64 0 72 6 72 11 60 13 60 18 68 27 88 42 16 5 12 -1 12 -10 12 -24 185 -572 8 -32 263 0 0 848 -4 0z"/>
<path fill="#4ccb83" d="M1088 848l-1088 0 0 -314 96 -6 72 0 80 6 72 12 72 17 64 21 60 25 80 40 20 5 4 3 -1 -5 5 -7 16 -47 193 -598 259 0 0 848 -4 0z"/>
<path fill="#54cc7d" d="M1088 848l-1088 0 0 -304 96 -6 76 0 80 7 80 13 72 17 68 23 64 28 78 42 6 1 217 -669 255 0 0 848 -4 0z"/>
<path fill="#5ccc76" d="M1088 848l-1088 0 0 -296 96 -4 76 0 76 6 76 11 68 16 64 20 64 25 87 42 9 3 4 -1 219 -670 253 0 0 848 -4 0z"/>
<path fill="#64cd6f" d="M1088 848l-1088 0 0 -287 100 -4 72 1 72 5 72 10 64 14 64 18 68 25 84 38 16 4 8 0 3 -4 7 -20 201 -612 10 -36 251 0 0 848 -4 0z"/>
<path fill="#6dcd68" d="M1088 848l-1088 0 0 -278 104 -4 68 1 72 5 68 10 60 12 56 14 72 25 92 39 16 3 12 -2 5 -5 7 -20 202 -612 10 -36 248 0 0 848 -4 0z"/>
<path fill="#76cc61" d="M1088 848l-1088 0 0 -270 104 -2 64 0 68 5 68 8 72 14 68 19 56 19 92 36 16 2 12 -3 6 -8 8 -20 203 -612 10 -36 245 0 0 848 -4 0z"/>
<path fill="#7fcc5a" d="M1088 848l-1088 0 0 -261 104 -2 64 1 68 4 68 8 68 13 68 17 56 19 92 34 16 3 12 -3 10 -9 7 -16 208 -620 9 -36 242 0 0 848 -4 0z"/>
<path fill="#88cb53" d="M1088 848l-1088 0 0 -251 100 -3 64 1 68 4 68 8 68 12 68 16 60 19 92 33 16 2 12 -4 10 -9 7 -16 211 -624 9 -36 239 0 0 848 -4 0z"/>
<path fill="#91ca4c" d="M1088 848l-1088 0 0 -242 96 -3 64 1 68 4 68 7 72 12 68 16 60 18 92 32 16 2 12 -4 12 -14 7 -17 212 -624 10 -36 235 0 0 848 -4 0z"/>
<path fill="#9ac945" d="M1088 848l-1088 0 0 -233 96 -2 68 0 72 4 68 8 72 12 68 16 60 18 88 30 16 2 8 -3 12 -17 9 -23 224 -660 231 0 0 848 -4 0z"/>
<path fill="#a3c83f" d="M1088 848l-1088 0 0 -223 84 -3 76 0 76 4 80 9 64 11 68 16 76 22 86 32 10 -2 246 -714 226 0 0 848 -4 0z"/>
<path fill="#acc738" d="M1088 848l-1088 0 0 -215 96 -3 76 1 80 5 72 9 72 12 64 15 76 23 80 29 4 -2 249 -722 223 0 0 848 -4 0z"/>
<path fill="#b4c533" d="M1088 848l-1088 0 0 -207 96 -2 72 1 76 4 72 8 68 11 64 13 68 19 84 27 16 4 4 -1 104 -297 35 -104 36 -96 76 -228 221 0 0 848 -4 0z"/>
<path fill="#bdc42f" d="M1088 848l-1088 0 0 -198 96 -3 68 1 72 4 72 7 60 9 60 11 72 18 96 29 16 2 8 -1 7 -15 100 -284 36 -108 34 -88 34 -108 30 -84 12 -40 219 0 0 848 -4 0z"/>
<path fill="#c4c22a" d="M1088 848l-1088 0 0 -190 164 -1 68 3 68 6 72 10 68 13 60 15 92 25 16 2 12 -3 4 -4 5 -12 100 -280 36 -112 36 -88 32 -108 30 -84 12 -40 217 0 0 848 -4 0z"/>
<path fill="#ccc028" d="M1088 848l-1088 0 0 -182 160 -1 68 3 64 5 72 10 68 12 60 13 100 26 16 1 12 -4 6 -7 5 -12 101 -280 36 -112 37 -88 31 -108 29 -80 12 -44 215 0 0 848 -4 0z"/>
<path fill="#d3bf27" d="M1088 848l-1088 0 0 -173 156 -2 128 8 72 8 72 12 64 14 96 23 20 1 12 -5 5 -6 6 -12 104 -284 35 -112 28 -60 11 -28 29 -108 28 -76 14 -48 212 0 0 848 -4 0z"/>
<path fill="#dabd28" d="M1088 848l-1088 0 0 -165 156 -1 128 7 72 8 72 11 64 13 96 23 16 1 12 -4 8 -7 9 -18 108 -292 30 -100 31 -64 10 -24 8 -28 19 -80 29 -76 14 -52 210 0 0 848 -4 0z"/>
<path fill="#e1bc2b" d="M1088 848l-1088 0 0 -156 152 -2 132 7 72 8 72 11 164 34 16 0 8 -3 8 -9 8 -15 109 -291 25 -88 8 -24 32 -60 12 -28 23 -104 13 -36 15 -36 16 -56 207 0 0 848 -4 0z"/>
<path fill="#e7bb2e" d="M1088 848l-1088 0 0 -147 152 -3 68 3 72 5 124 15 76 13 100 22 16 2 8 -2 7 -8 9 -20 115 -304 21 -79 7 -21 36 -64 11 -28 22 -104 13 -36 15 -36 17 -56 203 0 0 848 -4 0z"/>
<path fill="#edba33" d="M1088 848l-1088 0 0 -139 80 -3 80 1 80 3 76 6 68 7 80 13 84 16 68 16 4 -4 4 -10 128 -335 17 -71 11 -30 33 -54 14 -36 19 -100 13 -36 16 -36 18 -56 199 0 0 848 -4 0z"/>
<path fill="#f2ba38" d="M1088 848l-1088 0 0 -131 156 -3 68 2 76 6 140 16 68 12 100 20 12 -1 132 -345 25 -88 9 -20 31 -52 11 -28 5 -20 16 -88 13 -36 15 -32 20 -60 195 0 0 848 -4 0z"/>
<path fill="#f8ba3d" d="M1088 848l-1088 0 0 -124 148 -2 136 6 72 6 76 9 164 28 12 1 12 -1 134 -347 22 -75 11 -25 25 -41 13 -27 10 -32 17 -96 12 -36 32 -72 6 -20 190 0 0 848 -4 0z"/>
<path fill="#fcbc3d" d="M1088 848l-1088 0 0 -117 144 -2 128 5 148 14 168 26 20 1 12 -3 6 -12 128 -332 18 -61 19 -39 25 -43 11 -25 11 -36 14 -84 5 -20 13 -36 32 -64 5 -20 185 0 0 848 -4 0z"/>
<path fill="#febf3b" d="M1088 848l-1088 0 0 -110 140 -1 116 3 152 14 180 25 20 -1 12 -4 8 -14 127 -332 17 -56 44 -78 14 -30 10 -36 15 -88 7 -28 19 -44 26 -44 4 -12 2 -12 179 0 0 848 -4 0z"/>
<path fill="#fec339" d="M1088 848l-1088 0 0 -102 132 -2 108 3 156 12 188 24 20 0 16 -7 6 -8 3 -8 128 -332 15 -52 42 -68 17 -36 12 -40 15 -92 8 -32 19 -44 29 -40 5 -12 2 -12 171 0 0 848 -4 0z"/>
<path fill="#fec636" d="M1088 848l-1088 0 0 -95 128 -2 112 3 156 12 184 21 20 1 16 -6 8 -8 7 -14 128 -332 15 -52 40 -60 20 -40 12 -44 17 -104 10 -32 15 -32 31 -36 7 -12 3 -16 163 0 0 848 -4 0z"/>
<path fill="#feca33" d="M1088 848l-1088 0 0 -87 124 -2 104 2 156 10 200 22 20 -1 12 -6 8 -8 8 -18 128 -332 16 -52 37 -48 14 -24 8 -20 13 -48 18 -108 10 -32 12 -28 8 -10 22 -18 11 -12 8 -16 3 -12 152 0 0 848 -4 0z"/>
<path fill="#fdce31" d="M1088 848l-1088 0 0 -80 124 -2 116 3 152 10 188 18 20 1 12 -4 12 -12 10 -22 131 -340 13 -44 23 -24 15 -20 21 -40 9 -28 6 -28 16 -108 10 -32 13 -28 5 -6 27 -18 15 -12 11 -16 4 -16 139 0 0 848 -4 0z"/>
<path fill="#fbd22f" d="M1088 848l-1088 0 0 -72 116 -2 116 2 136 7 220 20 20 0 8 -3 8 -12 7 -16 131 -340 17 -56 25 -20 24 -32 12 -24 11 -40 20 -132 12 -40 10 -20 3 -3 42 -21 18 -12 14 -16 5 -16 117 0 0 848 -4 0z"/>
<path fill="#fad62d" d="M1088 848l-1088 0 0 -64 112 -3 128 2 172 10 204 18 4 -2 32 -89 117 -300 11 -40 3 -4 25 -20 19 -24 17 -32 12 -48 17 -120 6 -24 17 -40 60 -20 44 -19 32 -29 60 0 0 848 -4 0z"/>
<path fill="#f8da2b" d="M1088 848l-1088 0 0 -58 120 -2 124 2 164 9 184 13 24 2 4 -2 32 -88 119 -304 13 -40 26 -24 18 -21 18 -35 11 -40 19 -128 4 -20 9 -20 7 -10 8 -7 56 -19 51 -24 21 -17 6 -7 4 -8 50 0 0 848 -4 0z"/>
<path fill="#f6de29" d="M1088 848l-1088 0 0 -51 120 -2 112 2 140 6 216 13 20 1 12 -2 6 -11 32 -88 114 -292 13 -40 6 -8 21 -20 17 -20 20 -36 11 -40 18 -128 5 -20 6 -12 7 -10 12 -8 52 -16 20 -9 16 -11 12 -2 12 -6 36 -26 12 -6 1 -6 23 0 0 848 -4 0z"/>
<path fill="#f5e227" d="M1088 848l-1088 0 0 -44 116 -2 104 1 144 5 224 12 20 0 12 -2 5 -6 4 -8 32 -88 114 -292 14 -40 8 -12 18 -16 17 -20 19 -36 11 -36 17 -120 5 -24 6 -16 6 -8 12 -7 52 -12 24 -10 12 -10 16 -3 12 -5 28 -16 12 -9 8 -11 3 -13 17 0 0 848 -4 0zM996 55l0 -3 0 3z"/>
<path fill="#f5e626" d="M1088 848l-1088 0 0 -38 132 -1 120 2 340 14 20 -2 12 -5 6 -10 34 -92 112 -288 15 -44 9 -12 17 -16 17 -20 12 -20 9 -20 12 -48 15 -108 10 -34 8 -8 8 -3 32 -2 20 -5 52 -19 28 -15 32 -13 8 -5 5 -8 -4 -20 1 -8 10 0 0 848 -4 0z"/>
<path fill="#f5ea24" d="M1092 11l-5 -3 5 -6 0 9zM1088 848l-1088 0 0 -31 252 1 336 11 24 -2 12 -4 8 -11 33 -92 114 -292 15 -44 8 -12 22 -20 13 -16 10 -16 11 -24 10 -36 16 -112 10 -40 6 -7 4 -1 36 4 12 -1 12 -3 20 -11 20 -1 12 -3 12 -6 13 -15 7 -2 16 3 28 -2 0 785 -4 0z"/>
<path fill="#f5ee21" d="M1088 848l-1088 0 0 -24 252 0 336 9 24 -1 12 -4 4 -4 6 -8 32 -92 114 -292 17 -48 7 -12 19 -16 16 -20 10 -16 12 -24 12 -48 13 -100 10 -40 4 -4 8 -1 28 13 24 2 16 -3 10 -7 2 -4 8 5 20 0 16 -4 36 -14 24 -4 0 761 -4 0zM988 104l-4 -1 0 -7 4 1 1 3 -1 4z"/>
<path fill="#f6f21e" d="M1088 848l-1088 0 0 -17 252 0 336 6 24 -1 16 -5 9 -11 1 -12 28 -76 117 -300 19 -56 23 -20 14 -16 13 -20 11 -24 13 -48 13 -100 9 -40 6 -3 5 3 15 17 20 11 20 6 28 1 32 -3 32 -10 20 -10 4 -4 3 -8 5 -4 4 1 0 743 -4 0z"/>
<path fill="#f7f51b" d="M1088 848l-1088 0 0 -10 252 0 340 3 28 -1 18 -8 5 -8 0 -8 -2 -4 3 -12 28 -76 114 -292 18 -56 25 -20 13 -16 9 -12 16 -32 12 -48 9 -76 7 -44 5 -19 4 -2 3 5 5 24 8 14 8 5 8 1 8 11 20 9 32 6 24 0 20 -5 36 -15 16 -3 0 689 -4 0z"/>
<path fill="#f8f917" d="M1092 202l-7 -6 -1 -8 2 -4 6 -4 0 22zM1088 848l-1088 0 0 -4 596 2 36 -2 21 -8 12 -12 19 -32 63 -88 35 -60 14 -32 12 -32 51 -184 21 -50 15 -46 13 -22 24 -26 17 -28 7 -5 8 -3 12 5 6 7 12 20 10 7 8 4 12 2 16 0 52 -10 0 597 -4 0zM816 373l1 -1 -1 1z"/>
</g>
<clipPath id="clb"><rect x="237.3" y="646.3" width="545.9" height="424.2"/></clipPath>
<g clip-path="url(#clb)"><path d="M237.3 752.8 250.6 744M268.5 735 276.9 731.9 284.6 729.6 292.4 727.8 300.3 726.6 308.3 725.9 316.3 725.7 332.2 726.6 348 729.3 364.4 733.7 372 736.2 387.9 742.3 407.9 751.5M425.5 760.9 435.9 767 451 776.7 475.5 794 491.3 806.3 506.7 819.1 537.4 846.2M548.7 846.9 586.5 721.4M592.3 702.3 609.3 645.8M237.3 814.5 253.1 808.2M272.4 802.7 284.2 800.4 292.1 799.2 308 797.9 324.1 797.8 340 799 356.9 801.4 379.4 806.4 395.7 811.2 414.5 818M432.9 826 443.6 831.3 459.4 840.1 474.6 849.6 483.7 855.9 499 867.2 514.4 880 530.8 894.8 546.4 910.3 547 908.4M552.8 889.2 595.9 746.4M601.7 727.3 626.3 645.8M237.3 870 245.8 867.1 256.4 864M276 860.1 292.9 858.4 307.9 858 323.9 858.7 339.8 860.2 355.7 862.6 372.4 865.7 395.8 871 418.1 876.9M437.1 882.9 451.2 888.1 467.8 895.1 483 902.7 498.7 911.6 510.4 919.3 522.6 928 535 938.1 546.2 948.1 552.3 929.3M558.3 910.2 602.4 769.9M608.4 750.8 641.4 645.8M237.3 916.5 259.2 914.5M279.2 913.3 300.2 912.9 316.3 913.1 333.3 913.8 356.2 915.7 372.1 917.6 387.9 920.1 403.7 923.1 422.2 927.4M441.5 932.7 467.1 941.3 483 947.5 498.5 954.4 522.7 966.6 546 980.2 546.6 980 556.1 950.5M562.3 931.5 607.5 792.4M613.7 773.4 655.1 645.8M237.3 960.3 262.3 959.1M282.3 958.6 317.4 958.8 340.4 959.8 356.4 960.9 372.3 962.4 395.2 965.2 426.8 970.5M446.4 974.7 474.5 981.9 498.4 989.2 522 997.5 546.2 1007.2 559 970.6M565.6 951.6 613.5 812.5M620 793.5 670.8 645.8M237.3 1001.3 248.3 1000.8M268.3 1000.1 301.3 999.7 340.3 1000.6 380.3 1003.1 416.1 1006.7M436 1009.2 466.6 1013.9 491.2 1018.3 517.7 1023.9 545.9 1030.6 546.6 1030.2 558.7 998.5M565.9 979.8 613 856.4 616.8 841.9M621.6 822.5 622.7 818.6 627.4 805.4 635.6 792.9 644.6 777.3 651.2 760.5 655.1 740.9 660.5 710.3 666.9 692.4 669.4 687M676.9 668.5 683.9 645.5M237.3 1037.7 253.3 1037M267.3 1036.6 301.3 1036.2 340.4 1036.8 379.4 1038.4 419.3 1040.7M433.3 1041.7 482.2 1045.6 546 1051.3 546.6 1050.7 560.5 1013.2M565.5 1000.1 620.4 859.3M624.8 846 627.5 835.3 640.7 824.6 650.7 812.1 659 796.1 663.7 779.8 666.3 764 670.9 727.2 674.4 708.5M678.5 695.1 680.2 690.5 685.5 679.8 713.9 670.1 737.7 659.5 752 645.5" fill="none" stroke="#000" stroke-width="1.1" stroke-linejoin="round"/><g font-family="Liberation Sans, Arial, sans-serif" font-size="9.5" text-anchor="middle" fill="#000" fill-opacity="0.82"><text transform="translate(259.4,739.2) rotate(-27.1)" y="3.4">-35</text><text transform="translate(416.7,756.1) rotate(27.9)" y="3.4">-35</text><text transform="translate(544.8,852.9) rotate(33.5)" y="3.4">-35</text><text transform="translate(589.4,711.9) rotate(-73.2)" y="3.4">-35</text><text transform="translate(262.7,805.2) rotate(-15.9)" y="3.4">-30</text><text transform="translate(423.8,821.8) rotate(23.5)" y="3.4">-30</text><text transform="translate(549.9,898.8) rotate(-73.2)" y="3.4">-30</text><text transform="translate(598.8,736.9) rotate(-73.2)" y="3.4">-30</text><text transform="translate(266.1,861.8) rotate(-11.6)" y="3.4">-25</text><text transform="translate(427.6,879.8) rotate(17.4)" y="3.4">-25</text><text transform="translate(555.3,919.8) rotate(-72.6)" y="3.4">-25</text><text transform="translate(605.4,760.3) rotate(-72.6)" y="3.4">-25</text><text transform="translate(269.2,913.8) rotate(-3.3)" y="3.4">-20</text><text transform="translate(431.9,929.9) rotate(15.4)" y="3.4">-20</text><text transform="translate(559.2,941) rotate(-72)" y="3.4">-20</text><text transform="translate(610.6,782.9) rotate(-72)" y="3.4">-20</text><text transform="translate(272.3,958.8) rotate(-1.5)" y="3.4">-15</text><text transform="translate(436.6,972.5) rotate(12)" y="3.4">-15</text><text transform="translate(562.3,961.1) rotate(-71)" y="3.4">-15</text><text transform="translate(616.7,803) rotate(-71)" y="3.4">-15</text><text transform="translate(258.3,1000.4) rotate(-2.1)" y="3.4">-10</text><text transform="translate(426,1007.9) rotate(7.2)" y="3.4">-10</text><text transform="translate(562.3,989.1) rotate(-69.1)" y="3.4">-10</text><text transform="translate(619.2,832.2) rotate(-76.1)" y="3.4">-10</text><text transform="translate(673.6,677.9) rotate(-65.3)" y="3.4">-10</text><text transform="translate(260.3,1036.8) rotate(-1.7)" y="3.4">-5</text><text transform="translate(426.3,1041.2) rotate(4)" y="3.4">-5</text><text transform="translate(563,1006.6) rotate(-69.1)" y="3.4">-5</text><text transform="translate(622.7,852.7) rotate(-72.6)" y="3.4">-5</text><text transform="translate(676,701.7) rotate(-73.1)" y="3.4">-5</text></g><path d="M783.2 709.8 684.5 717.8 684.5 854.8 684.9 855.4 690.9 854.8M700.7 853.1 783.2 832.5M684.5 730.7 696.4 729.3M706.4 728.3 783.2 721.4M684.5 731.7 706 740M715.4 743.6 759.7 759.8 760 760.3 719.4 788 775.6 806.6M637.7 857.7 665.8 858.6 681.1 872.4 627.8 875.3 627.6 857.4M681.5 872.4 709.8 885.4 749.3 897.3 762.2 898.8M772.2 900 783.2 901.3M681.5 873.4 677.2 883.4 644.7 893.7M634.9 895.3 621.9 895.3 617.7 893.6 617.7 910.7 618 911 625.2 905.6 626.1 905.4 651.3 915.2 647.7 932.6 647.3 933.5 637.4 943.5 627.6 956.9 623.7 943.4 623.1 942.6 619.5 939.2 613.6 940.3M603.7 941.6 597.7 942.2 591.8 954.9 583.8 1034.8 582.1 1069.8M783.2 907.3 771.3 905.2M761.5 905.3 717.4 915.2 749.8 931.4 783.2 945.2M783.2 967.1 766.5 972 783.2 975.1M783.2 985 719 985M709.1 984.3 627.6 973.1 619.7 987 621.6 1005 609.8 1024.7 611.6 1044.7 610.7 1049.6M605.3 1056.4 598.7 1058.8 597.7 1069.8M629.6 1069.8 643.9 1057.1M650.2 1049.5 684.1 992.6 684.8 992.1 729.2 1004.9 768.7 1032.5 783.2 1044.9M772.2 1056.1 783.2 1058.8M549.8 1069.8 551.8 1058.9 566.9 1057.2M576.3 1060.1 577.9 1061.2 580.8 1069.8" fill="none" stroke="#000" stroke-width="1" stroke-linejoin="round"/><g font-family="Liberation Sans, Arial, sans-serif" font-size="9.5" text-anchor="middle" fill="#000" fill-opacity="0.82"><text transform="translate(695.8,854.3) rotate(-10.2)" y="3.4">0</text><text transform="translate(701.4,728.8) rotate(-5.9)" y="3.4">0</text><text transform="translate(710.7,741.8) rotate(20.6)" y="3.4">0</text><text transform="translate(780.3,808.2) rotate(18.3)" y="3.4">0</text><text transform="translate(632.7,857.5) rotate(1.5)" y="3.4">0</text><text transform="translate(767.2,899.4) rotate(6.7)" y="3.4">0</text><text transform="translate(639.9,895.2) rotate(-9.8)" y="3.4">0</text><text transform="translate(608.7,941.2) rotate(-7.7)" y="3.4">0</text><text transform="translate(766.4,904.3) rotate(-0.8)" y="3.4">0</text><text transform="translate(714,985) rotate(4.4)" y="3.4">0</text><text transform="translate(609.7,1054.5) rotate(-53.3)" y="3.4">0</text><text transform="translate(647.6,1053.8) rotate(-50.6)" y="3.4">0</text><text transform="translate(767.2,1054.9) rotate(14)" y="3.4">0</text><text transform="translate(571.7,1057.8) rotate(22.1)" y="3.4">0</text></g></g>
<path d="M373.8 1070.5v-5.5 M373.8 646.3v5.5 M510.3 1070.5v-5.5 M510.3 646.3v5.5 M646.7 1070.5v-5.5 M646.7 646.3v5.5 M237.3 999.8h5.5 M783.2 999.8h-5.5 M237.3 929.1h5.5 M783.2 929.1h-5.5 M237.3 858.4h5.5 M783.2 858.4h-5.5 M237.3 787.7h5.5 M783.2 787.7h-5.5 M237.3 717h5.5 M783.2 717h-5.5" stroke="#262626" stroke-width="1.1" fill="none"/>
<rect x="237.3" y="646.3" width="545.9" height="424.2" fill="none" stroke="#262626" stroke-width="2.4"/>
<g font-family="Liberation Serif, Times New Roman, serif" font-size="29.3" fill="#262626"><text x="236.3" y="1103.7" text-anchor="middle">0.01</text><text x="372.8" y="1103.7" text-anchor="middle">0.015</text><text x="509.3" y="1103.7" text-anchor="middle">0.02</text><text x="645.7" y="1103.7" text-anchor="middle">0.025</text><text x="782.2" y="1103.7" text-anchor="middle">0.03</text><text x="227.8" y="1080.7" text-anchor="end">0</text><text x="227.8" y="1010" text-anchor="end">5</text><text x="227.8" y="939.3" text-anchor="end">10</text><text x="227.8" y="868.6" text-anchor="end">15</text><text x="227.8" y="797.9" text-anchor="end">20</text><text x="227.8" y="727.2" text-anchor="end">25</text><text x="227.8" y="656.5" text-anchor="end">30</text></g>
<rect x="816.3" y="646.3" width="19.6" height="424.2" fill="url(#pg)" stroke="#262626" stroke-width="1.8"/>
<path d="M816.3 648h3 M835.9 648h-3 M816.3 730.8h3 M835.9 730.8h-3 M816.3 813.7h3 M835.9 813.7h-3 M816.3 896.5h3 M835.9 896.5h-3 M816.3 979.4h3 M835.9 979.4h-3 M816.3 1062.2h3 M835.9 1062.2h-3" stroke="#262626" stroke-width="1" fill="none"/>
<g font-family="Liberation Serif, Times New Roman, serif" font-size="29.3" fill="#262626"><text x="843.4" y="658.2">0</text><text x="843.4" y="741">-10</text><text x="843.4" y="823.9">-20</text><text x="843.4" y="906.7">-30</text><text x="843.4" y="989.6">-40</text><text x="843.4" y="1072.4">-50</text></g>
<g transform="translate(237.3,1165.8) scale(0.5)">
<rect width="1092" height="848" fill="#3f28ad"/>
<path fill="#402bb6" d="M1089 848l-1089 0 0 -848 1092 0 0 848 -3 0z"/>
<path fill="#422ebf" d="M1089 848l-1089 0 0 -848 1092 0 0 848 -3 0z"/>
<path fill="#4331c8" d="M1089 848l-1089 0 0 -848 1092 0 0 848 -3 0zM1080 81l0 1 0 -1zM1048 96l-1 0 1 0zM1039 99l-1 0 1 0zM1016 105l-2 0 2 0zM989 108l-6 0 6 0zM958 111l-5 0 5 0zM928 114l-2 0 2 0zM900 198l0 -8 0 8zM897 258l0 -9 0 9zM891 324l0 -1 0 2 0 -1zM844 404l-1 0 1 0z"/>
<path fill="#4435d0" d="M621 842l-3 1 -12 0 -51 -6 -36 -7 -33 -8 -34 -10 -41 -15 -75 -33 -39 -21 -36 -21 -32 -21 -28 -21 -24 -21 -18 -18 -17 -21 -14 -21 -14 -27 -11 -30 -9 -33 -7 -39 -5 -45 -4 -51 -3 -56 0 -57 1 -48 3 -45 5 -39 6 -33 9 -30 10 -27 12 -21 14 -18 957 0 0 67 -36 19 -33 11 -105 11 -12 -2 -5 2 -6 6 -1 3 2 15 -8 159 -6 45 -8 35 -10 12 -12 10 -36 15 -12 2 -9 -2 -10 8 -1 3 0 9 -4 12 -125 330 -24 60 -6 9 -4 3z"/>
<path fill="#4538d8" d="M618 838l-48 -9 -23 -8 -21 -9 -22 -12 -19 -12 -36 -30 -36 -39 -18 -24 -19 -27 -30 -54 -27 -60 -19 -57 -14 -60 -10 -66 -6 -68 -2 -72 3 -69 6 -60 14 -102 801 0 0 63 -36 17 -36 12 -114 11 -8 2 -4 3 -3 9 -8 180 -8 48 -6 23 -5 8 -15 13 -30 12 -27 5 -6 2 -2 2 -7 24 -104 270 -31 78 -10 24 -2 3 0 3 -3 3 -1 6 -5 9 -1 6 -2 2z"/>
<path fill="#463cdf" d="M618 833l-33 -8 -29 -13 -26 -18 -23 -20 -20 -25 -21 -33 -13 -30 -13 -39 -12 -48 -17 -90 -8 -57 -9 -78 -7 -77 -3 -72 -4 -105 -2 -120 714 0 0 51 -36 20 -36 14 -126 16 -3 4 -4 12 -10 180 -7 45 -8 26 -13 14 -6 3 -27 12 -33 7 -2 3 -5 18 -158 408z"/>
<path fill="#4741e5" d="M618 831l-30 -12 -24 -13 -26 -21 -22 -24 -18 -27 -18 -33 -14 -36 -11 -39 -11 -45 -6 -39 -5 -60 -20 -179 -8 -144 -4 -159 685 0 6 5 0 28 -12 4 -39 25 -21 9 -18 6 -90 18 -18 4 -4 3 -4 12 -2 18 -12 162 -6 33 -7 24 -7 14 -12 12 -24 14 -33 12 -4 4 -6 18 -106 273 -49 133z"/>
<path fill="#4745e9" d="M618 827l-3 -2 -15 -6 -12 -6 -21 -16 -21 -21 -20 -27 -16 -27 -15 -33 -13 -36 -11 -42 -10 -45 -4 -27 0 -15 4 -9 1 -6 -2 -36 -20 -155 -6 -66 -6 -102 -4 -150 646 0 -2 15 -7 12 -16 15 -19 13 -33 14 -87 24 -12 4 -6 5 -4 12 -3 18 -14 159 -5 27 -7 24 -9 17 -12 14 -21 13 -30 14 -6 7 -118 306 -41 114z"/>
<path fill="#484aee" d="M618 824l-26 -15 -18 -15 -17 -21 -20 -30 -15 -30 -13 -33 -13 -39 -10 -42 -10 -54 1 -39 -2 -33 -19 -158 -6 -66 -6 -105 -4 -144 618 0 -5 12 -9 12 -12 12 -18 12 -36 17 -78 27 -9 5 -5 5 -5 12 -3 21 -16 153 -6 27 -6 21 -9 17 -13 15 -15 12 -30 18 -8 9 -113 291 -44 126z"/>
<path fill="#484ef1" d="M618 821l-22 -15 -15 -15 -13 -18 -17 -30 -15 -33 -13 -33 -12 -42 -10 -42 -8 -51 -8 -93 -14 -128 -7 -72 -7 -111 -3 -138 592 0 -8 12 -9 10 -25 20 -32 17 -72 30 -9 5 -7 8 -5 12 -4 21 -18 147 -5 26 -7 22 -8 18 -11 14 -17 15 -29 20 -8 10 -113 294 -23 64 -18 56z"/>
<path fill="#4853f4" d="M618 818l-21 -18 -12 -15 -13 -21 -15 -33 -14 -36 -13 -39 -9 -33 -8 -42 -13 -87 -20 -212 -9 -141 -4 -141 566 0 -16 19 -22 17 -31 18 -64 31 -12 8 -7 9 -5 12 -4 21 -19 144 -5 24 -7 21 -10 21 -11 14 -15 15 -25 20 -7 7 -4 9 -112 289 -23 65 -16 54z"/>
<path fill="#4757f7" d="M618 815l-17 -18 -13 -18 -12 -24 -19 -45 -11 -30 -12 -39 -15 -75 -14 -105 -6 -90 -7 -77 -10 -174 -5 -120 544 0 -15 15 -19 15 -27 18 -63 35 -12 10 -6 9 -5 12 -4 18 -20 132 -6 30 -7 24 -8 18 -11 17 -13 15 -28 25 -6 8 -5 9 -112 291 -22 63 -14 51z"/>
<path fill="#475bfa" d="M618 812l-16 -21 -10 -18 -33 -78 -17 -57 -16 -75 -15 -117 -1 -81 -8 -68 -14 -297 520 0 -20 18 -19 15 -75 48 -10 9 -8 12 -5 12 -4 18 -21 131 -6 28 -8 24 -7 18 -11 18 -13 14 -27 28 -6 8 -6 12 -111 289 -22 65 -11 45z"/>
<path fill="#4660fb" d="M618 805l-13 -20 -10 -18 -34 -81 -18 -63 -14 -78 -12 -102 -2 -72 -7 -74 -9 -180 -3 -69 0 -48 499 0 -39 33 -62 43 -12 12 -9 14 -5 12 -4 18 -22 126 -6 27 -7 24 -8 18 -10 18 -11 14 -29 34 -12 20 -108 282 -22 66 -11 44z"/>
<path fill="#4464fd" d="M618 797l-12 -19 -10 -20 -20 -45 -11 -30 -18 -63 -14 -78 -11 -93 -2 -81 -7 -68 -3 -48 -8 -198 0 -33 2 -21 477 0 -29 27 -61 47 -12 13 -9 15 -9 30 -23 123 -6 27 -8 24 -7 18 -10 18 -10 14 -27 33 -13 24 -106 276 -21 62 -12 46z"/>
<path fill="#4269fe" d="M618 788l-12 -20 -12 -24 -16 -37 -11 -33 -17 -66 -14 -81 -9 -81 -3 -78 -6 -68 -3 -54 -8 -192 1 -33 3 -21 458 0 -25 24 -56 48 -12 14 -9 16 -9 30 -24 121 -14 50 -7 18 -10 18 -37 50 -12 24 -104 270 -19 57 -13 48z"/>
<path fill="#3f6efe" d="M618 780l-14 -25 -14 -30 -12 -30 -10 -30 -16 -69 -13 -84 -8 -72 -2 -69 -7 -86 -8 -171 -1 -78 1 -21 3 -15 441 0 -20 21 -50 45 -14 18 -9 15 -11 33 -24 120 -14 48 -16 36 -35 50 -14 27 -102 267 -18 54 -13 46z"/>
<path fill="#3b73fe" d="M618 771l-14 -25 -14 -30 -10 -27 -9 -30 -16 -72 -13 -90 -6 -54 -3 -78 -6 -77 -8 -186 -1 -69 2 -21 4 -12 424 0 -63 64 -13 17 -10 18 -11 33 -25 117 -14 48 -16 36 -34 53 -12 24 -102 267 -17 48 -13 46z"/>
<path fill="#3678fe" d="M618 763l-14 -26 -12 -27 -18 -57 -16 -72 -12 -90 -5 -51 -9 -155 -8 -186 -1 -66 2 -18 4 -15 410 0 -57 61 -14 20 -9 18 -11 33 -26 114 -14 48 -16 36 -32 53 -12 24 -102 267 -15 45 -13 44z"/>
<path fill="#327cfc" d="M618 755l-12 -24 -11 -24 -18 -60 -15 -72 -12 -90 -4 -48 -9 -152 -8 -186 -1 -63 2 -21 4 -15 396 0 -51 58 -12 18 -10 20 -12 36 -28 114 -13 45 -16 36 -29 52 -13 28 -101 264 -27 84z"/>
<path fill="#2f81fa" d="M618 746l-12 -24 -9 -21 -17 -60 -14 -72 -12 -90 -4 -48 -8 -146 -8 -186 0 -63 1 -21 3 -15 384 0 -31 35 -15 20 -12 19 -11 22 -10 33 -29 114 -14 45 -15 36 -29 54 -11 23 -102 267 -25 78z"/>
<path fill="#2e85f8" d="M618 738l-18 -40 -17 -63 -14 -72 -11 -87 -4 -48 -7 -143 -8 -183 0 -63 3 -39 372 0 -38 47 -14 22 -11 24 -12 36 -29 112 -14 44 -13 33 -27 52 -12 27 -103 271 -23 70z"/>
<path fill="#2d8af5" d="M618 730l-15 -35 -17 -69 -13 -69 -11 -87 -3 -51 -8 -134 -7 -183 0 -63 2 -39 360 0 -33 43 -13 23 -11 24 -12 36 -32 117 -13 40 -13 32 -26 54 -10 23 -105 276 -20 62z"/>
<path fill="#2c8ef2" d="M618 721l-12 -29 -19 -78 -11 -72 -10 -81 -10 -179 -7 -180 0 -60 1 -42 348 0 -16 21 -12 18 -12 22 -10 23 -13 39 -34 118 -13 41 -12 30 -33 71 -19 54 -89 231 -17 53z"/>
<path fill="#2b92ee" d="M618 713l-8 -21 -20 -90 -11 -66 -9 -81 -9 -173 -7 -180 0 -102 337 0 -12 15 -10 15 -13 24 -10 24 -11 33 -51 168 -40 94 -21 60 -90 235 -15 45z"/>
<path fill="#2896ec" d="M618 705l-6 -16 -1 -12 -3 -9 -4 -15 -10 -51 -10 -66 -9 -84 -6 -99 -4 -116 -3 -42 -3 -99 -1 -96 326 0 -9 9 -8 13 -20 44 -12 36 -54 174 -36 83 -22 67 -93 242 -12 37z"/>
<path fill="#269ae9" d="M618 696l-3 -10 0 -12 -4 -6 -3 -15 -13 -72 -9 -69 -7 -60 -9 -173 0 -36 -3 -48 0 -42 -3 -54 -2 -99 312 0 -10 15 -17 39 -71 222 -32 77 -22 69 -97 252 -7 22z"/>
<path fill="#249de6" d="M618 688l-19 -107 -10 -72 -6 -60 -9 -170 -8 -279 298 0 -3 5 -15 40 -22 72 -51 156 -33 78 -20 69 -102 268z"/>
<path fill="#22a1e4" d="M618 680l-17 -99 -15 -129 -9 -170 -9 -282 291 0 -17 45 -22 72 -51 156 -32 78 -20 70 -99 259z"/>
<path fill="#20a5e2" d="M618 676l-10 -56 -9 -60 -8 -78 -6 -72 -7 -131 -8 -279 286 0 -17 45 -22 72 -50 153 -32 81 -21 68 -96 257z"/>
<path fill="#1da8e0" d="M618 672l-9 -52 -8 -60 -9 -78 -6 -72 -7 -131 -7 -279 280 0 -16 45 -22 72 -50 150 -32 84 -22 71 -92 250z"/>
<path fill="#1aacdd" d="M618 667l-8 -47 -11 -84 -8 -84 -7 -99 -4 -77 -7 -276 276 0 -16 45 -71 219 -32 87 -22 71 -90 245z"/>
<path fill="#16afd9" d="M618 662l-7 -42 -10 -84 -8 -84 -8 -101 -4 -81 -6 -270 271 0 -17 45 -69 216 -33 90 -22 71 -74 207 -13 33z"/>
<path fill="#10b2d5" d="M618 657l-6 -34 -14 -132 -16 -206 -6 -285 266 0 -16 45 -69 216 -31 87 -24 74 -72 204 -12 31z"/>
<path fill="#08b4d0" d="M618 652l-5 -29 -9 -87 -21 -254 -5 -282 261 0 -15 42 -69 216 -32 90 -24 74 -71 204 -10 26z"/>
<path fill="#03b7cb" d="M618 647l-4 -24 -9 -87 -21 -257 -4 -279 256 0 -140 422 -68 201 -10 24z"/>
<path fill="#01b9c6" d="M618 643l-3 -20 -1 -15 -7 -72 -22 -257 -4 -279 251 0 -138 422 -68 201 -8 20z"/>
<path fill="#05bbc1" d="M618 638l-3 -15 0 -21 -3 -24 -26 -302 -3 -276 246 0 -139 425 -66 198 -6 15z"/>
<path fill="#0cbdbc" d="M618 633l-31 -360 -3 -273 242 0 -203 623 -5 10z"/>
<path fill="#17bfb6" d="M618 628l-15 -201 -15 -160 -2 -267 236 0 -198 611 -3 12 -3 5z"/>
<path fill="#20c1b1" d="M618 623l-15 -209 -14 -147 -2 -267 232 0 -201 623z"/>
<path fill="#28c2ab" d="M621 609l-3 2 -12 -174 -15 -164 -2 -273 226 0 -194 609z"/>
<path fill="#2dc4a5" d="M618 602l-12 -171 -14 -164 -2 -267 221 0 -190 600 -3 2z"/>
<path fill="#32c69f" d="M618 593l-8 -123 -17 -203 -2 -267 216 0 -186 590 -3 3z"/>
<path fill="#36c898" d="M618 584l-7 -111 -17 -209 -2 -264 211 0 -182 580 -3 4z"/>
<path fill="#3cc991" d="M618 575l-6 -102 -16 -209 -3 -264 207 0 -179 571 -3 4z"/>
<path fill="#44ca8a" d="M618 565l-5 -92 -12 -143 -4 -66 -3 -264 202 0 -175 561 -3 4z"/>
<path fill="#4dcb82" d="M618 555l-4 -82 -11 -140 -5 -72 -3 -261 197 0 -171 552 -3 3z"/>
<path fill="#57cc7a" d="M618 546l-3 -46 0 -27 -11 -137 -4 -75 -4 -261 192 0 -167 542 -3 4z"/>
<path fill="#61cd72" d="M618 536l-3 -70 -10 -130 -4 -75 -4 -261 187 0 -162 530 -4 6z"/>
<path fill="#6bcd69" d="M618 527l-3 -71 -9 -120 -4 -78 -3 -258 181 0 -150 488 -9 33 -3 6z"/>
<path fill="#77cc60" d="M618 517l-3 -71 -8 -113 -3 -75 -3 -120 -1 -138 177 0 -151 491 -5 22 -3 4z"/>
<path fill="#83cc57" d="M618 508l-3 -72 -7 -106 -3 -72 -3 -120 -1 -138 172 0 -149 488 -3 15 -3 5z"/>
<path fill="#8ecb4f" d="M618 492l-11 -210 -4 -144 -1 -138 166 0 -145 485 -2 6 -3 1z"/>
<path fill="#99c946" d="M621 485l-3 -5 -10 -186 -4 -156 -2 -138 159 0 -130 443 -10 42z"/>
<path fill="#a4c83e" d="M621 473l-3 -3 -8 -152 -5 -180 -2 -138 152 0 -125 437 -9 36z"/>
<path fill="#afc637" d="M621 459l-3 -1 -7 -143 -6 -177 -1 -138 144 0 -127 459z"/>
<path fill="#bac430" d="M621 445l-3 1 -7 -134 -5 -174 -2 -138 138 0 -121 445z"/>
<path fill="#c4c22b" d="M621 432l-3 2 -8 -170 -5 -264 131 0 -115 432z"/>
<path fill="#cdc028" d="M621 420l-3 2 -7 -155 -6 -267 124 0 -108 420z"/>
<path fill="#d6be28" d="M621 405l-3 2 -6 -140 -6 -267 117 0 -83 333 -19 72z"/>
<path fill="#debc2a" d="M618 392l-6 -134 -5 -258 109 0 -80 336 -15 53 -3 3z"/>
<path fill="#e6bb2d" d="M618 377l-5 -119 -6 -258 103 0 -78 336 -11 37 -3 4z"/>
<path fill="#eeba34" d="M618 361l-8 -229 -2 -132 95 0 -64 282 -11 54 -7 22 -3 3z"/>
<path fill="#f4ba3a" d="M621 344l-3 -3 -1 -2 -7 -231 -1 -108 88 0 -65 297 -7 39 -4 8zM618 346l0 -4 3 3 -3 1z"/>
<path fill="#fabb3d" d="M621 339l-2 -3 -1 -10 -2 -59 -7 -267 81 0 -68 324 1 12 -2 3z"/>
<path fill="#febe3c" d="M621 306l-3 2 -7 -221 -1 -87 75 0 -64 306z"/>
<path fill="#fec338" d="M618 290l-6 -212 -1 -78 69 0 -56 273 -3 13 -3 4z"/>
<path fill="#fec835" d="M618 271l-7 -271 64 0 -54 267 -3 4z"/>
<path fill="#fdcc32" d="M618 246l-6 -246 57 0 -13 72 -20 93 -15 76 -3 5z"/>
<path fill="#fbd12f" d="M618 219l-6 -219 52 0 -15 84 -17 75 -11 56 -3 4z"/>
<path fill="#f9d62d" d="M618 193l-5 -193 46 0 -15 84 -16 69 -7 36 -3 4z"/>
<path fill="#f7dc2a" d="M618 166l-4 -166 40 0 -14 84 -19 79 -3 3z"/>
<path fill="#f6e128" d="M618 143l-4 -143 34 0 -5 42 -7 39 -15 60 -3 2z"/>
<path fill="#f5e626" d="M621 123l-3 2 -3 -125 28 0 -9 66 -13 57z"/>
<path fill="#f5ea23" d="M621 105l-3 2 -2 -107 22 0 -8 63 -9 42z"/>
<path fill="#f6ef20" d="M621 87l-3 3 -2 -90 17 0 -4 45 -8 42z"/>
<path fill="#f7f41c" d="M621 69l-3 3 -1 -72 11 0 -1 18 -6 51z"/>
<path fill="#f8f917" d="M618 37l-1 -37 6 0 0 9 -2 25 -3 3z"/>
</g>
<clipPath id="clc"><rect x="237.3" y="1165.8" width="545.9" height="423.9"/></clipPath>
<g clip-path="url(#clc)"><path d="M783.2 1193.7 780 1196.1 764.1 1204.5 747 1210.2 684.3 1216.7 683.2 1218.3 681.4 1225 676.9 1313.9 673.5 1336.7 670.4 1349.3 670.1 1350.2 661.6 1358.7 645.8 1365 629.2 1368.4 628 1369.8 626.2 1377.6 546.5 1582.7 545.9 1583.2 528.4 1578.9 514.5 1573.2 500.9 1564.8 493.7 1559.4 487.9 1553.9 476.4 1540 466.3 1523.9 459 1507.5 452.1 1485.5M448.7 1472 436.5 1412.2 432.1 1381.5 429.1 1351.7 427 1324.7M426.3 1310.7 424.6 1276.8 422.3 1165.8M771 1165.8 770.7 1169.8 769.9 1172.7 765.8 1179.5 757.7 1187 748.5 1192.9 739.5 1197.3 731 1200.4 687.8 1212.9 683.2 1214.9 681.2 1217 679 1222.6 677.5 1231.5 670.1 1311.2 667.2 1325.9 664 1336.5 659.5 1345.4 654.2 1351.3 643.5 1358.7 629.1 1365.7 625.7 1369.4 566.6 1522.4 546.3 1578.9 532.3 1572.1 521.1 1563.7 512.8 1555 502 1540.6 493.9 1526.8 486.5 1510.4 479.9 1491.5 474.4 1471.3 469.3 1447.8 467.5 1435.9 467.1 1428.9M470 1416 469.7 1409 468.3 1394.1 459.1 1322.6 455.8 1285.8 454.9 1268.8M454.1 1254.8 452.9 1231.8 451.3 1165.8M756 1165.8 747.5 1175.7 734.9 1185.5 720 1193.7 687.3 1208.8 681.5 1212.7 678.4 1216.6 675.8 1223.1 673.8 1232.9 664.4 1305.3 661.9 1317.1 658.8 1327.6 654.2 1337.6 648.4 1345.8 640.5 1353.4 627 1363.7 624.3 1366.7 622 1371.1 565.7 1516.6 554.4 1548.7 546.1 1575.3 536.1 1567.1 529.4 1559.6 523 1549.4 516 1535.1 508 1515.6 502.4 1498.5 496.9 1478.3 492.9 1459.7 489.1 1437 487 1420.1 484.6 1396.2M483.3 1382.3 475 1297.7 470.7 1230.8M470.4 1216.8 469.3 1165.8M740 1165.8 730.3 1174.5 720 1182.4 684 1206 678.2 1211.5 675 1216.6 672.4 1223.1 670.3 1231.8 659.9 1296 657 1309.7 653.5 1321.2 649.7 1330.4 644.2 1339.9 638.6 1347 624 1362.1 621.2 1366.2 618.1 1372.5 562.7 1516.3 551.6 1549.5 546.4 1570.8 546 1571.2 538.1 1559.6 533.9 1551.7 516.2 1509.2 507.5 1479.4 500.7 1444.1 495.4 1405.4 493.6 1387.5 493.3 1364.5M493 1350.5 489.8 1321.7 488.7 1306.7 483.8 1198.8M483.2 1184.8 482.3 1165.8M723 1165.8 710.9 1177.8 689.1 1195.4 681.7 1202 675.2 1209.6 671.2 1216.6 666.5 1231.9 654.9 1291.8 651.7 1305.4 648.1 1316.9 644.4 1326.2 639.7 1335 631.8 1346.5M623.1 1357.6 618.2 1365.1 614.8 1372.3 562.4 1508.6 552.2 1539 546.1 1560.9 539.9 1550.6 534.6 1539.8 526 1519.6 520.3 1503.6 515.8 1488.2 511.7 1470.7 505 1431.2 500.2 1390.5 498.8 1350.5 495.7 1315.6 492.9 1257.7M492.3 1243.7 490.2 1190.7 490.5 1174.7 492 1165.8M710 1165.8 703.3 1173.3 680 1196.6 672.7 1206.2 668 1215 662.5 1232.1 649.6 1289.8 642.6 1313.8 634.5 1332.1 627.6 1343.1M620.1 1355 618 1358.4 611.9 1371 561 1503.7 552.6 1528.3 546.2 1550.4 539.5 1538.1 532.9 1523.5 528 1510.4 522.9 1493.1 518.6 1475.6 515.1 1457.9 508.6 1413.3 506.1 1387.5 504.4 1348.5 502.5 1322.5M501.5 1308.5 497.3 1214.5 497.1 1182.5 498.2 1171.6 500 1165.8M699 1165.8 679.5 1188.6M671.4 1200 669.3 1203.4 664.5 1213.3 658.9 1230.4 644.3 1288.7 637.5 1310.6 630.5 1327.2 623.8 1339.5M617.1 1351.9 609.5 1368.2 558.8 1500.9 546.2 1539.8 540.3 1528.2 535.3 1516.2 527 1487.4 520 1452 514 1407.4 511.9 1383.5 507.7 1308.6 506.6 1282.6M506 1268.6 503.7 1215.6 503.6 1184.6 504.4 1173.6 506 1165.8M689 1165.8 679.6 1177.5 675 1184.1M667.9 1196.1 661.6 1209.7 655.3 1228.7 639.2 1286.5 632.8 1306.6 626.1 1323.3 619.6 1336.8M613.5 1349.4 608.8 1360.5 563.4 1480.2M558.4 1493.3 555.9 1499.8 546.2 1529.3 539.2 1512.8 530.5 1477.8 524.5 1443.3 519.1 1399.6 517.2 1373.7 515.8 1346.7M515 1332.7 510.1 1216.8 509.9 1185.8 511 1165.8M679.9 1165.8 675.2 1171 669.5 1180.4M663.5 1193.1 660.5 1200.5 655 1216.6 628 1303.6 615.2 1334.1M609.7 1347 598.8 1379.2 560.8 1478.3M555.8 1491.4 552.6 1499.8 546.2 1518.8 543.1 1510.3 542.6 1504.3 540.8 1499.6 539 1491.8 533.9 1466.3 528.9 1433.7 524.3 1391.9 521.4 1342.9 519.7 1306.9M519.4 1292.9 519.3 1283.9 518 1262.9 517.6 1240.9 516.3 1213.9 516 1165.8M668 1165.8 664.4 1175.2M657.6 1194 648.4 1224.6 623.1 1301.6 612.1 1328.5M605.1 1347.2 596.7 1376 559.2 1474.1M552.1 1492.8 546.4 1507.8 540 1474.1 536.4 1450.4 532.6 1420.6 529.2 1384.7 525.1 1303.8 524.1 1269.8M523.5 1249.8 520.9 1165.8M646.7 1165.8 641.8 1181M635.7 1200.1 590.6 1340M584.5 1359 546.2 1477.2 538.8 1373.5 533.6 1321.7 531.9 1295.8M531.7 1275.8 531 1165.8M622.5 1165.8 616.1 1186.9M610.3 1206 568.2 1344.9M562.4 1364.1 546.2 1416.9 544.7 1380.9 541.7 1329.9M540.7 1309.9 538.7 1234.9 537.9 1165.8" fill="none" stroke="#000" stroke-width="1" stroke-linejoin="round"/><g font-family="Liberation Sans, Arial, sans-serif" font-size="9.5" text-anchor="middle" fill="#000" fill-opacity="0.82"><text transform="translate(426.6,1317.7) rotate(87.2)" y="3.4">10</text><text transform="translate(450.4,1478.8) rotate(75.8)" y="3.4">10</text><text transform="translate(454.5,1261.8) rotate(86.9)" y="3.4">20</text><text transform="translate(470.3,1423) rotate(-76)" y="3.4">20</text><text transform="translate(470.5,1223.8) rotate(88.8)" y="3.4">30</text><text transform="translate(484,1389.3) rotate(84.4)" y="3.4">30</text><text transform="translate(483.5,1191.8) rotate(87.4)" y="3.4">40</text><text transform="translate(493.2,1357.5) rotate(89.2)" y="3.4">40</text><text transform="translate(627.4,1352) rotate(-52.1)" y="3.4">50</text><text transform="translate(492.6,1250.7) rotate(87.6)" y="3.4">50</text><text transform="translate(623.8,1349) rotate(-57.8)" y="3.4">60</text><text transform="translate(502,1315.5) rotate(85.9)" y="3.4">60</text><text transform="translate(675.2,1194.1) rotate(-54.9)" y="3.4">70</text><text transform="translate(620.5,1345.7) rotate(-61.5)" y="3.4">70</text><text transform="translate(506.3,1275.6) rotate(87.6)" y="3.4">70</text><text transform="translate(671.3,1190) rotate(-60.4)" y="3.4">80</text><text transform="translate(616.5,1343.1) rotate(-64.3)" y="3.4">80</text><text transform="translate(515.4,1339.7) rotate(87)" y="3.4">80</text><text transform="translate(560.9,1486.7) rotate(-69.2)" y="3.4">80</text><text transform="translate(666.4,1186.7) rotate(-63.6)" y="3.4">90</text><text transform="translate(612.5,1340.5) rotate(-67.2)" y="3.4">90</text><text transform="translate(519.5,1299.9) rotate(89.2)" y="3.4">90</text><text transform="translate(558.3,1484.9) rotate(-69.1)" y="3.4">90</text><text transform="translate(660.9,1184.5) rotate(-69.3)" y="3.4">100</text><text transform="translate(608.3,1337.7) rotate(-67.7)" y="3.4">100</text><text transform="translate(523.8,1259.8) rotate(88.3)" y="3.4">100</text><text transform="translate(555.7,1483.5) rotate(-69.1)" y="3.4">100</text><text transform="translate(638.8,1190.5) rotate(-72.1)" y="3.4">150</text><text transform="translate(587.5,1349.5) rotate(-72.1)" y="3.4">150</text><text transform="translate(531.8,1285.8) rotate(89.6)" y="3.4">150</text><text transform="translate(613.2,1196.5) rotate(-73.1)" y="3.4">200</text><text transform="translate(565.3,1354.5) rotate(-73.1)" y="3.4">200</text><text transform="translate(541.1,1319.9) rotate(87.1)" y="3.4">200</text></g></g>
<path d="M373.8 1589.7v-5.5 M373.8 1165.8v5.5 M510.3 1589.7v-5.5 M510.3 1165.8v5.5 M646.7 1589.7v-5.5 M646.7 1165.8v5.5 M237.3 1519h5.5 M783.2 1519h-5.5 M237.3 1448.4h5.5 M783.2 1448.4h-5.5 M237.3 1377.8h5.5 M783.2 1377.8h-5.5 M237.3 1307.1h5.5 M783.2 1307.1h-5.5 M237.3 1236.5h5.5 M783.2 1236.5h-5.5" stroke="#262626" stroke-width="1.1" fill="none"/>
<rect x="237.3" y="1165.8" width="545.9" height="423.9" fill="none" stroke="#262626" stroke-width="2.4"/>
<g font-family="Liberation Serif, Times New Roman, serif" font-size="29.3" fill="#262626"><text x="236.3" y="1622.9" text-anchor="middle">0.01</text><text x="372.8" y="1622.9" text-anchor="middle">0.015</text><text x="509.3" y="1622.9" text-anchor="middle">0.02</text><text x="645.7" y="1622.9" text-anchor="middle">0.025</text><text x="782.2" y="1622.9" text-anchor="middle">0.03</text><text x="227.8" y="1599.9" text-anchor="end">0</text><text x="227.8" y="1529.2" text-anchor="end">5</text><text x="227.8" y="1458.6" text-anchor="end">10</text><text x="227.8" y="1388" text-anchor="end">15</text><text x="227.8" y="1317.3" text-anchor="end">20</text><text x="227.8" y="1246.7" text-anchor="end">25</text><text x="227.8" y="1176" text-anchor="end">30</text></g>
<rect x="816.3" y="1165.8" width="19.6" height="423.9" fill="url(#pg)" stroke="#262626" stroke-width="1.8"/>
<path d="M816.3 1573.1h3 M835.9 1573.1h-3 M816.3 1506.3h3 M835.9 1506.3h-3 M816.3 1439.5h3 M835.9 1439.5h-3 M816.3 1372.7h3 M835.9 1372.7h-3 M816.3 1305.9h3 M835.9 1305.9h-3 M816.3 1239h3 M835.9 1239h-3 M816.3 1172.2h3 M835.9 1172.2h-3" stroke="#262626" stroke-width="1" fill="none"/>
<g font-family="Liberation Serif, Times New Roman, serif" font-size="29.3" fill="#262626"><text x="843.4" y="1583.3">0</text><text x="843.4" y="1516.5">50</text><text x="843.4" y="1449.7">100</text><text x="843.4" y="1382.9">150</text><text x="843.4" y="1316.1">200</text><text x="843.4" y="1249.2">250</text><text x="843.4" y="1182.4">300</text></g>
<g transform="translate(237.3,1685.6) scale(0.5)">
<rect width="1092" height="848" fill="#3f28ad"/>
<path fill="#402bb6" d="M621 834l-3 0 -3 -2 -12 -1 -18 -5 -24 -10 -49 -28 -26 -18 -23 -18 -31 -30 -32 -39 -27 -39 -29 -48 -30 -60 -32 -72 -29 -78 -28 -83 -23 -81 -22 -93 -16 -81 -4 -27 -1 -21 933 0 0 73 -72 13 -99 12 -21 6 -6 3 -3 4 -3 18 -7 78 -7 54 -8 44 -9 30 -10 21 -13 15 -17 15 -34 22 -6 6 -5 8 -18 48 -2 12 -4 33 -3 12 -9 18 -18 21 -7 10 -12 23 -54 156 -21 66 -1 9 -2 4z"/>
<path fill="#422ebf" d="M618 826l-3 -3 -21 -10 -14 -10 -38 -39 -17 -21 -18 -27 -20 -36 -18 -39 -16 -39 -26 -72 -24 -75 -21 -69 -16 -66 -25 -104 -14 -69 -14 -90 -6 -57 785 0 0 45 -48 11 -42 8 -84 9 -15 7 -9 10 -6 8 -7 19 -18 90 -14 48 -10 24 -20 38 -19 42 -26 47 -6 13 -14 39 -4 9 -17 60 -12 27 -10 14 -14 31 -76 224 -3 3zM912 3l-3 0 3 0z"/>
<path fill="#4331c8" d="M618 822l-3 -4 0 -5 -5 -1 -13 -12 -24 -30 -20 -30 -17 -30 -16 -36 -15 -39 -36 -111 -20 -69 -17 -66 -15 -63 -13 -68 -15 -81 -10 -72 -7 -60 -2 -45 722 0 0 16 -87 23 -24 5 -21 2 -24 -2 -15 -6 -6 -5 -4 -9 0 -12 2 -9 -5 0 -6 6 -13 42 -35 135 -9 30 -9 24 -12 24 -8 11 -18 22 -7 14 -15 57 -27 87 -5 9 -1 9 -28 78 -7 13 -13 32 -47 144 -30 82zM901 3l-1 -1 -1 1 1 3 1 -3z"/>
<path fill="#4435d0" d="M618 814l-5 -8 0 -3 -11 -15 -19 -33 -14 -30 -13 -30 -30 -93 -37 -138 -25 -114 -20 -113 -17 -135 -6 -63 -2 -39 632 0 -61 20 -21 4 -15 2 -15 -1 -12 -5 -6 -5 -7 -12 -2 -1 -9 2 -3 -3 -3 2 -6 15 -9 28 -25 92 -13 54 -6 21 -10 24 -11 24 -28 35 -6 13 -14 53 -18 60 -44 126 -56 179 -33 87z"/>
<path fill="#4538d8" d="M618 809l-2 -9 -29 -75 -23 -75 -35 -132 -24 -111 -19 -104 -13 -96 -13 -132 -4 -75 444 0 -6 5 -3 0 -1 -2 -3 0 0 6 -11 33 -24 90 -13 57 -12 36 -16 33 -25 31 -9 18 -13 52 -12 39 -77 228 -38 120 1 3 -2 9 -18 51zM954 9l-12 2 -9 -1 -9 -2 -12 -7 -9 1 -3 -2 83 0 -29 9z"/>
<path fill="#463cdf" d="M618 801l-26 -88 -17 -66 -35 -153 -20 -102 -14 -89 -10 -90 -13 -138 -4 -75 420 0 -5 3 -6 -1 -3 3 -4 -2 1 3 -14 48 -34 135 -9 27 -18 39 -31 39 -6 14 -9 42 -9 30 -70 207 -50 156 -1 15 -10 37 -3 6zM939 0l-15 2 -15 -2 -6 2 -2 -2 38 0z"/>
<path fill="#4741e5" d="M618 795l-22 -85 -15 -66 -45 -234 -12 -87 -12 -110 -12 -141 -4 -72 402 0 -4 2 -6 -1 -3 3 -3 -2 -4 1 1 3 -15 47 -33 130 -9 29 -9 22 -11 21 -25 31 -9 18 -14 55 -12 39 -61 180 -52 162 -2 18 -9 37zM906 0l-4 0 4 0z"/>
<path fill="#4745e9" d="M618 780l-23 -94 -19 -84 -34 -192 -11 -87 -9 -80 -18 -243 384 0 -3 3 -3 -2 -4 2 -8 21 -28 99 -17 63 -11 33 -15 33 -25 35 -9 21 -11 42 -12 39 -71 210 -45 138 -3 21 -5 22zM894 1l-2 -1 5 0 -3 1z"/>
<path fill="#484aee" d="M618 763l-22 -89 -21 -90 -5 -30 -1 -24 -21 -120 -20 -170 -16 -240 370 0 -8 6 -6 18 -48 162 -10 30 -14 33 -22 35 -9 21 -25 84 -106 312 -11 36 -5 26zM885 2l-3 -2 5 0 -2 2z"/>
<path fill="#484ef1" d="M618 747l-29 -118 -13 -57 -3 -24 0 -9 3 -6 -17 -81 -6 -42 -19 -176 -13 -234 359 0 -7 6 -4 9 -53 168 -12 36 -12 27 -21 41 -7 18 -26 82 -107 311 -13 49zM885 1l-2 -1 3 0 -1 1z"/>
<path fill="#4853f4" d="M618 730l-29 -113 -10 -45 -3 -21 0 -9 3 -9 -3 -24 -12 -63 -5 -30 -18 -182 -8 -183 -4 -51 350 0 -6 3 -4 6 -66 198 -15 39 -24 57 -30 89 -106 303 -10 35zM885 1l-1 -1 2 0 -1 1z"/>
<path fill="#4757f7" d="M618 714l-28 -106 -11 -51 0 -12 2 -12 -2 -22 -3 -28 -11 -64 -17 -176 -3 -57 -4 -138 -4 -48 340 0 -9 3 -250 711z"/>
<path fill="#475bfa" d="M618 699l-27 -99 -9 -46 0 -21 -3 -48 -3 -28 -4 -17 -3 -27 -15 -176 -4 -192 -4 -45 330 0 -6 0 -3 3 -9 21 -77 216 -22 68 -2 3 -19 51 -120 337z"/>
<path fill="#4660fb" d="M618 686l-25 -90 -8 -42 -1 -24 -24 -299 -1 -189 -2 -24 -3 -18 314 0 -4 3 -5 9 -8 21 -73 204 -21 63 -139 386z"/>
<path fill="#4464fd" d="M618 672l-23 -79 -8 -42 -10 -138 -1 -51 -1 -3 1 -3 -1 -3 1 -3 -3 -18 -7 -107 2 -186 -1 -24 -4 -15 302 0 -9 9 -9 21 -229 642z"/>
<path fill="#4269fe" d="M618 659l-18 -60 -9 -39 -11 -120 -4 -158 -1 -3 1 -3 -2 -3 2 -3 -3 -18 -1 -33 1 -45 -1 -9 2 -18 -1 -9 2 -18 -1 -3 1 -3 -2 -3 2 -3 -1 -3 2 -3 0 -9 -1 -3 1 -3 -2 -3 2 -3 -2 -3 2 -3 0 -15 -2 -3 2 -3 -1 -3 1 -3 0 -15 -1 -3 1 -3 -1 -3 1 -3 0 -15 -5 -6 289 0 -8 9 -8 18 -226 632z"/>
<path fill="#3f6efe" d="M618 645l-15 -45 -10 -40 -11 -120 -6 -221 1 -219 278 0 -3 2 -4 1 -230 642z"/>
<path fill="#3b73fe" d="M618 634l-13 -38 -10 -39 -12 -123 -5 -215 0 -219 271 0 -4 3 -6 15 -221 616z"/>
<path fill="#3678fe" d="M618 626l-12 -37 -8 -35 -9 -66 -5 -54 -5 -188 0 -246 266 0 -5 6 -10 27 -212 593z"/>
<path fill="#327cfc" d="M618 617l-12 -36 -7 -30 -8 -66 -6 -57 -5 -182 0 -246 262 0 -6 9 -10 24 -208 584z"/>
<path fill="#2f81fa" d="M618 608l-10 -33 -7 -30 -9 -63 -5 -57 -6 -179 -1 -246 257 0 -6 12 -10 24 -203 572z"/>
<path fill="#2e85f8" d="M618 599l-10 -33 -6 -27 -9 -63 -5 -57 -6 -173 -1 -246 252 0 -6 12 -9 24 -200 563z"/>
<path fill="#2d8af5" d="M618 590l-10 -36 -7 -33 -7 -54 -5 -54 -6 -167 -2 -246 248 0 -15 36 -196 554z"/>
<path fill="#2c8ef2" d="M618 581l-9 -33 -8 -39 -7 -51 -4 -48 -6 -164 -2 -246 242 0 -14 36 -192 545z"/>
<path fill="#2b92ee" d="M618 572l-9 -33 -8 -42 -7 -51 -3 -45 -6 -155 -2 -246 237 0 -202 572z"/>
<path fill="#2896ec" d="M618 563l-8 -30 -9 -48 -6 -48 -4 -48 -5 -143 -3 -246 233 0 -198 563z"/>
<path fill="#269ae9" d="M618 555l-8 -31 -9 -48 -5 -45 -4 -48 -5 -137 -3 -246 227 0 -193 555z"/>
<path fill="#249de6" d="M618 547l-9 -35 -7 -45 -6 -42 -3 -48 -6 -131 -2 -246 220 0 -187 547z"/>
<path fill="#22a1e4" d="M618 539l-9 -39 -7 -42 -5 -42 -4 -54 -5 -119 -3 -243 215 0 -182 539z"/>
<path fill="#20a5e2" d="M618 531l-9 -40 -7 -42 -8 -93 -5 -116 -3 -240 209 0 -177 531z"/>
<path fill="#1da8e0" d="M618 523l-8 -38 -7 -42 -9 -96 -4 -107 -3 -240 202 0 -171 523z"/>
<path fill="#1aacdd" d="M618 515l-8 -36 -7 -42 -8 -99 -4 -107 -4 -231 197 0 -166 515z"/>
<path fill="#16afd9" d="M618 507l-8 -37 -6 -42 -9 -99 -4 -101 -3 -228 190 0 -160 507z"/>
<path fill="#10b2d5" d="M618 500l-7 -36 -6 -39 -9 -99 -4 -98 -3 -228 184 0 -155 500z"/>
<path fill="#08b4d0" d="M618 492l-7 -37 -6 -39 -8 -96 -4 -92 -4 -228 179 0 -150 492z"/>
<path fill="#03b7cb" d="M618 484l-7 -35 -5 -39 -9 -96 -3 -89 -4 -225 173 0 -145 484z"/>
<path fill="#01b9c6" d="M618 476l-12 -72 -8 -96 -3 -83 -5 -225 168 0 -140 476z"/>
<path fill="#05bbc1" d="M618 469l-11 -71 -8 -93 -3 -80 -5 -225 162 0 -135 469z"/>
<path fill="#0cbdbc" d="M618 461l-11 -69 -7 -89 -4 -81 -4 -222 156 0 -130 461z"/>
<path fill="#17bfb6" d="M618 454l-10 -68 -8 -86 -3 -78 -5 -222 151 0 -125 454z"/>
<path fill="#20c1b1" d="M618 446l-10 -66 -7 -86 -3 -72 -5 -222 146 0 -121 446z"/>
<path fill="#28c2ab" d="M618 438l-9 -64 -7 -83 -3 -72 -5 -219 142 0 -118 438z"/>
<path fill="#2dc4a5" d="M618 429l-9 -64 -7 -80 -6 -180 -2 -105 138 0 -114 429z"/>
<path fill="#32c69f" d="M618 421l-9 -65 -6 -77 -8 -279 133 0 -110 421z"/>
<path fill="#36c898" d="M618 413l-9 -69 -5 -71 -8 -273 129 0 -107 413z"/>
<path fill="#3cc991" d="M618 405l-9 -70 -5 -68 -8 -267 125 0 -103 405z"/>
<path fill="#44ca8a" d="M618 397l-8 -68 -5 -65 -8 -264 121 0 -100 397z"/>
<path fill="#4dcb82" d="M618 390l-8 -70 -4 -62 -8 -258 116 0 -96 390z"/>
<path fill="#57cc7a" d="M618 381l-8 -67 -4 -59 -8 -255 113 0 -93 381z"/>
<path fill="#61cd72" d="M618 372l-7 -61 -4 -56 -6 -171 -2 -84 108 0 -89 372z"/>
<path fill="#6bcd69" d="M618 364l-6 -56 -4 -56 -7 -171 -2 -81 105 0 -86 364z"/>
<path fill="#77cc60" d="M618 355l-5 -47 -4 -59 -7 -168 -2 -81 101 0 -73 314 -10 41z"/>
<path fill="#83cc57" d="M618 347l-4 -39 -4 -59 -7 -168 -2 -81 96 0 -70 311 -9 36z"/>
<path fill="#8ecb4f" d="M618 338l-8 -92 -7 -165 -2 -81 93 0 -69 311 -7 27z"/>
<path fill="#99c946" d="M618 329l-7 -86 -7 -165 -2 -78 89 0 -67 308 -6 21z"/>
<path fill="#a4c83e" d="M618 321l-6 -81 -7 -162 -2 -78 84 0 -65 308 -4 13z"/>
<path fill="#afc637" d="M618 312l-6 -81 -7 -153 -2 -78 81 0 -66 312z"/>
<path fill="#bac430" d="M618 302l-4 -50 -7 -156 -3 -96 77 0 -63 302z"/>
<path fill="#c4c22b" d="M618 291l-11 -201 -2 -90 73 0 -60 291z"/>
<path fill="#cdc028" d="M618 279l-10 -195 -3 -84 70 0 -57 279z"/>
<path fill="#d6be28" d="M618 267l-10 -186 -2 -81 66 0 -29 141 -22 116 -3 10z"/>
<path fill="#debc2a" d="M618 256l-9 -178 -2 -78 62 0 -29 141 -22 115z"/>
<path fill="#e6bb2d" d="M618 240l-9 -165 -2 -75 60 0 -30 141 -19 99z"/>
<path fill="#eeba34" d="M618 224l-8 -149 -2 -75 56 0 -30 141 -13 72 -3 11z"/>
<path fill="#f4ba3a" d="M618 207l-7 -132 -2 -75 52 0 -30 141 -10 56 -3 10z"/>
<path fill="#fabb3d" d="M618 191l-7 -119 -2 -72 49 0 -30 141 -7 40 -3 10z"/>
<path fill="#febe3c" d="M618 175l-6 -103 -2 -72 45 0 -30 141 -4 24 -3 10z"/>
<path fill="#fec338" d="M618 159l-6 -87 -2 -72 42 0 -34 159z"/>
<path fill="#fec835" d="M618 148l-5 -76 -2 -72 38 0 -31 148z"/>
<path fill="#fdcc32" d="M618 138l-4 -69 -2 -69 35 0 -29 138z"/>
<path fill="#fbd12f" d="M618 127l-4 -58 -2 -69 32 0 -14 75 -12 52z"/>
<path fill="#f9d62d" d="M618 116l-3 -47 -2 -69 28 0 -14 75 -9 41z"/>
<path fill="#f7dc2a" d="M618 106l-4 -106 24 0 -12 72 -8 34z"/>
<path fill="#f6e128" d="M618 95l-4 -95 21 0 -11 72 -6 23z"/>
<path fill="#f5e626" d="M618 84l-3 -84 17 0 -10 69 -4 15z"/>
<path fill="#f5ea23" d="M618 74l-2 -74 14 0 -9 63 -3 11z"/>
<path fill="#f6ef20" d="M618 58l-2 -58 11 0 -6 45 -3 13z"/>
<path fill="#f7f41c" d="M618 38l-1 -38 7 0 -3 27 -3 11z"/>
<path fill="#f8f917" d="M618 19l-1 -19 4 0 0 7 -3 12z"/>
</g>
<clipPath id="cld"><rect x="237.3" y="1685.6" width="545.9" height="423.8"/></clipPath>
<g clip-path="url(#cld)"><path d="M783.2 1730.4 743.6 1736.3 708.8 1739.9 687.9 1741 685.9 1741.3 684.3 1742.4 680.8 1841.3 679.3 1856.3 676.6 1868 673.5 1873.1 671.6 1875.4 665.3 1880.2 648.5 1886.8 631.1 1891.5 628.5 1892.8 625.7 1895.7 622.8 1902 615.3 1922.7 614.7 1926.7 614.6 1944.7 613.4 1949.5 608.8 1958.4 598.7 1968.1 592.6 1976 586.7 1987.6 564.2 2051.7 552.3 2088.9 550 2097.5 551.6 2100 551.9 2102 550.3 2104.4 547.5 2105.4 523.6 2103.9 487.9 2098.6 454.7 2091.3 435.7 2085.3 419.2 2078.1 394.8 2064.4 380.1 2053.9 363.6 2039.4 346.4 2021.2 328.4 1997.2 320.1 1984.7M312.4 1973.1 308.5 1967.2 289.3 1934.4 272.6 1901.4 260.7 1873.9 249 1843 246.8 1836.4M242.5 1823.1 237.3 1806.9M783.2 1725.1 769.5 1727.9 747.7 1731.3 696 1737.1 687.2 1739.1 684.4 1740 683.7 1740.6 682.1 1750.4 679.5 1789.4 676.4 1822.3 673.2 1844 669.5 1857.6 665 1866.5 657.6 1874.5 646.7 1881.7 630.6 1889.6 625.9 1893.4 623.8 1896.8 614.7 1921.1 613.5 1927 612.5 1943 611.2 1948.8 606.7 1957.8 597.2 1968.1 593.1 1973.8 586.6 1986.2 582.1 1998.4 552.3 2086.5 549.2 2097.1 549.7 2100.9 548.6 2102.6 547.9 2103.2 546 2103.4 544.2 2102.6 538.2 2102.1 528.4 2100 519 2096.5 501 2087.9 480.6 2077.1 463.5 2066.7 454.6 2060.3 439.8 2046.9M429.5 2037.4 417.8 2025 404.6 2007.5 388 1982.4 371.8 1953.6 354.6 1917.5 348.9 1903.7M343.5 1890.7 340.4 1883.3 322.9 1835.4 313.3 1803.8 298.6 1748.7 292.5 1718.3 287.8 1685.6M783.2 1720.1 766.6 1723.7 746.8 1727 699.2 1732.7 688.7 1736 684.3 1738.4 682.9 1739.9 681.7 1742.6 680.7 1748.5 676.4 1789.3 672.9 1813 668.8 1832.6 664 1848.9 659.5 1858.9 653.3 1868 644.1 1877.2 627.5 1890 623 1896.6 613.9 1921 610.7 1942.7 608.8 1949.5 604.2 1958.4 596 1968.4 592.6 1973.4 586.7 1984.9 556.7 2071.9 549.1 2095.7 548.6 2099.7 547.8 2101.5 546 2102 544.3 2101 537.5 2099.7 527.9 2096.7 514.5 2090 496 2078 484.2 2068.8 476 2061.5 463.5 2048.5 452.5 2034.3 446.6 2025M439.1 2013.2 424.8 1987.9 411.2 1959 398.9 1929.4 384.1 1889.1 378.6 1871.9M374.2 1858.6 362.9 1820.3 354.6 1787.3 348.2 1759 337.7 1706 332.8 1685.6M783.2 1715.2 763.7 1719.5 744 1723 699.3 1728.5 693.6 1730.3 689.1 1732.5 684.3 1736 681.8 1739.2 680.2 1742.8 679 1748.7 673.9 1785.3 670.6 1803 666.3 1820.5 661 1836.7 654.8 1851.4 648 1863.7 640.2 1874.1 626 1889.5 622.5 1895.6 613.6 1919 609.1 1941.5 606.9 1949.2 602.5 1958.2 592.7 1972 586.1 1985.5 551.4 2086.7 547.9 2099.3 546.6 2100.7 545.9 2100.5 544.7 2098.9 542.8 2099.2 533.4 2095.9 521.8 2089.9 500.7 2074.8 489.7 2064.5 475.5 2047.7 465.3 2032.9 456 2016.4 446 1995.6 440.3 1981.8M435 1968.8 431.2 1959.5 418.3 1923.8 405.3 1883.9 393.7 1843.5 388.6 1823.1M385.2 1809.5 375.3 1764.6 368.2 1724.2 362.7 1685.6M783.2 1710.3 760.8 1715.4 741.1 1719.1 697.4 1724.2 692.7 1726 688.5 1728.6 684.1 1732.7 681.2 1736.7 679.1 1741.3 677.7 1747.1 668.7 1795.3 661.5 1819.3 656.5 1831.2 641.7 1861.9 635.2 1873.1 625.7 1887.2 621.6 1895.2 615 1914.1 612.5 1919.6 607.7 1940 605.1 1948.6 599.2 1961.3 594.4 1967.7 591.4 1972.9 586 1984.7 550.6 2087.9 547.8 2097.5 546.6 2099 545.9 2099 544.4 2097.7 539.7 2096.1 533.4 2093 526.8 2088.4 506.8 2068.8 499 2059.7 488.6 2045 480.5 2031.3 472.3 2015.2 463.3 1994 451.4 1962.2M446.8 1948.9 437.8 1922.4 425.9 1884.2 418.4 1856.2 404.6 1798.8M401.6 1785.1 397.6 1766.6 390.3 1725.2 384.6 1685.6M693.2 1687.1 693.2 1687.1M783.2 1705.3 755.9 1711.8 735.3 1715.7 721.4 1717.5 694.5 1719.4 688.2 1722.5 685.4 1725.4 682.6 1729.5 679.9 1734.9 677.2 1742.4 667.9 1785.4 661.8 1805.5 654.8 1822.1 642 1844.8 632.8 1868 621.2 1893.5 614.1 1914.4 611.8 1918.8 610.9 1923.7 606.3 1939.1 601.1 1954.2 597.6 1962.5 594.3 1966.3 591.4 1971.5 583.6 1989.9 561.9 2055.5 550 2088.4 547.8 2096.1 546.1 2098.3 544.7 2096.9 533.5 2090.2 528.1 2085.7 510.5 2066.6 499.6 2052.3 490.7 2037.8 482 2020.9 473.6 2001.7 465 1979.2 452.6 1943.3M448.5 1929.9 440.4 1904.1 431.5 1872.3 423.1 1838.3 410.1 1777.7M407.5 1763.9 405.1 1751.1 399.2 1711.5 397.2 1685.6M687.3 1687.1 687.3 1687.1M693.4 1687.1 692.3 1687.1 691.7 1687.5 692.7 1687.6 693.4 1687.1M783.2 1700.4 746.3 1709.4 723.6 1713.2 705.6 1713.7 684.8 1710.8 684.2 1711.2 684 1714.2 682.6 1716.8 682.2 1719.8 681 1722.5 675.2 1743.8 665.3 1784.6 660.9 1797.9 656.7 1808.1 650.3 1820.5 637.8 1836.1 634.7 1842.4 627.9 1869.6 613.9 1912.4 611.1 1917.6 609.7 1924.5 597.2 1960.4 591.9 1968.8 584.9 1985.4 561.6 2055.7 549.5 2088.6 548 2094.4 546.1 2097.7 543.4 2094.8 533 2086.9 526.1 2079.6 511.6 2061.8 501.7 2046.8 492.7 2030 484.5 2011.8 476.8 1992.2 467.6 1965.8 454.4 1923.8M450.5 1910.3 445.2 1892.1 436.8 1859.1 428.7 1823 419.9 1778.8 416.8 1760.1M414.5 1746.3 409.6 1709.6 408.3 1685.6M687.5 1687.1 687.1 1687.6 687.5 1687.1M692 1688.6 693.1 1688.2 693.6 1687.3 691.5 1687.1 691.7 1689.2 692 1688.6M686 1706.6 685.7 1707 686 1706.6M783.2 1695.5 752.2 1703.6 735.7 1707.4 721.8 1709.4 709.8 1709.7 700.9 1708.1 694.9 1704.7 693.1 1702.3 691.8 1697.5 692.2 1691.5 693.6 1687.7 693.5 1687.1 691.5 1687.1 689 1690.1 682.2 1711 665.2 1777.9 660.6 1793.2 655.8 1805.3 650.1 1816.9 645.7 1823.6 637.3 1833.6 634.6 1837.8 633.4 1840.5 625.9 1869.6 612.6 1912.6 609.8 1917.9 609 1922.8 595.8 1960.5 591.2 1968.3 584.6 1985 561.5 2055.4 546.4 2096.7 544.7 2094.8 544.7 2092.8 541.3 2091.2 536.8 2087.2 523.7 2072.1 513.4 2057.4 504.3 2041.8 496.6 2025.5 488.7 2006.1 480 1981.6 470.5 1952.1 458 1908.8M454.3 1895.3 451 1882.7 443.7 1851.6 436.4 1816.3 429.1 1776 423.9 1742.3M422.2 1728.4 419.8 1707.6 418.7 1685.6M687.8 1687.1 687 1686.9 687 1687.7 687.4 1688 687.8 1687.1M783.2 1690.5 734.9 1703.5 723 1705.5 713 1706 705.1 1705 698.8 1702 696 1699.2 694.6 1696.5 693.6 1691.6 694 1687.6 693.6 1687 691.6 1686.7 689.2 1688.5 688.6 1688.6 687.7 1686.8 686.9 1686.7 686.5 1687.5 686.6 1691.5 680.5 1711.6 662.4 1782.4 659.4 1792 654.3 1805 648 1817.6 645.2 1821.7 635.2 1834.2 631.6 1841.3 624.6 1868.5 611.8 1909.6 608.5 1917.9 594.3 1959.6 590.9 1966.9 584.6 1983.7 561.4 2055.1 546.4 2095.5 545.9 2095.4 545.4 2094.6 545.3 2092.7 544.8 2091.8 541.7 2089.4 536.9 2084.3 524.3 2067.4 515.4 2052.9 508 2038.7 500.6 2021.2 492.8 1999.6 474.3 1940.3 463 1897.7M459.6 1884.1 451.1 1846 444.8 1812.6 438.5 1775.1 432.4 1729.5M430.8 1715.5 429.8 1706.6 428.6 1685.6M783.2 1685.6 735.1 1699.4 723.3 1701.8 714.4 1702.5 705.4 1701.4 699.2 1698.3 697.1 1696.1 695.6 1693.5 694.3 1687.6 693.8 1687 691.8 1686.6 689.3 1688 688.5 1687.9 687.3 1686.3 686.5 1686.9 678.2 1714.6 667.9 1753.3 661.1 1781.5 657.9 1792 653.1 1804.1 647.4 1815.8 644.1 1820.8 633.4 1834.1 630.3 1840.3 623.7 1866.5 613 1900.9 584 1984 562.9 2049.7 547.6 2090 546.3 2094.8 545.6 2092.4 544.6 2090.6 534.8 2078 526.2 2064.5 518.9 2051.4 512.1 2036.9 504.5 2016.2 497 1993.4 479 1930.9 469.1 1890.1M464.6 1870.6 454.6 1818.6 445.6 1759.2 441.3 1722.4M439.4 1702.5 437.8 1685.6M687 1685.6 684.6 1687.5 683.8 1687.6 681 1686.9 680.6 1687.7 673.1 1711.6 661.8 1754.1 655.3 1781.3 649.8 1797.4 641.6 1814.5 628.6 1831.1 625.1 1838.2 618.1 1865.4 612.6 1883.5 571 2006.7 555.1 2056.2 555.1 2061.2 554.6 2064.1 546.3 2088.8 530.9 2041.6 517.6 1992.4M512.8 1973 502.6 1931.2 493.1 1885.2 484.9 1835.9M482.2 1816 480 1799.2 474.2 1739.5 470.3 1685.6M720 1685.6 712.5 1688.3 705.5 1689.2 699.6 1688.5 693 1686.1 689.1 1686.6 687.5 1685.6M686.1 1685.6 684.4 1686.5 682.5 1685.8 681.6 1685.8 680.1 1687.1 679.3 1687.2 678.5 1686.7 676.7 1687 676.4 1688.9 669.2 1711.8 658.7 1751.4 652.7 1776.7 648.3 1791 643.8 1802.2 638.3 1812.8 625.7 1828.4 622.7 1833.6 621.3 1837.3 614.2 1865.4 608.4 1884.6 576.2 1979.2 551.5 2055.4 550.9 2064.3 546.3 2082.8 535.3 2039.7 528 2007.5 519.3 1963.3M515.4 1943.7 505.6 1890.6 499.6 1847 494.3 1797.3M492.5 1777.3 489.1 1739.5 485.3 1685.6M690.4 1685.6 688.4 1685.6" fill="none" stroke="#000" stroke-width="1" stroke-linejoin="round"/><g font-family="Liberation Sans, Arial, sans-serif" font-size="9.5" text-anchor="middle" fill="#000" fill-opacity="0.82"><text transform="translate(244.7,1829.7) rotate(72.1)" y="3.4">10</text><text transform="translate(316.2,1978.9) rotate(56.5)" y="3.4">10</text><text transform="translate(346.2,1897.2) rotate(67.5)" y="3.4">20</text><text transform="translate(434.6,2042.2) rotate(42.2)" y="3.4">20</text><text transform="translate(376.4,1865.3) rotate(72)" y="3.4">30</text><text transform="translate(442.9,2019.1) rotate(57.6)" y="3.4">30</text><text transform="translate(386.9,1816.3) rotate(76.1)" y="3.4">40</text><text transform="translate(437.7,1975.3) rotate(67.8)" y="3.4">40</text><text transform="translate(403.1,1792) rotate(77.7)" y="3.4">50</text><text transform="translate(449,1955.6) rotate(71.3)" y="3.4">50</text><text transform="translate(408.8,1770.8) rotate(79.3)" y="3.4">60</text><text transform="translate(450.6,1936.6) rotate(72.6)" y="3.4">60</text><text transform="translate(415.6,1753.2) rotate(80.5)" y="3.4">70</text><text transform="translate(452.4,1917.1) rotate(73.9)" y="3.4">70</text><text transform="translate(423,1735.4) rotate(83.4)" y="3.4">80</text><text transform="translate(456.2,1902.1) rotate(75.1)" y="3.4">80</text><text transform="translate(431.6,1722.5) rotate(83.7)" y="3.4">90</text><text transform="translate(461.3,1890.9) rotate(76.2)" y="3.4">90</text><text transform="translate(440.3,1712.5) rotate(84.6)" y="3.4">100</text><text transform="translate(466.8,1880.4) rotate(76.4)" y="3.4">100</text><text transform="translate(483.5,1825.9) rotate(82.4)" y="3.4">150</text><text transform="translate(515.2,1982.7) rotate(76.2)" y="3.4">150</text><text transform="translate(493.4,1787.3) rotate(84.9)" y="3.4">200</text><text transform="translate(517.4,1953.5) rotate(78.8)" y="3.4">200</text></g></g>
<path d="M373.8 2109.4v-5.5 M373.8 1685.6v5.5 M510.3 2109.4v-5.5 M510.3 1685.6v5.5 M646.7 2109.4v-5.5 M646.7 1685.6v5.5 M237.3 2038.8h5.5 M783.2 2038.8h-5.5 M237.3 1968.1h5.5 M783.2 1968.1h-5.5 M237.3 1897.5h5.5 M783.2 1897.5h-5.5 M237.3 1826.9h5.5 M783.2 1826.9h-5.5 M237.3 1756.2h5.5 M783.2 1756.2h-5.5" stroke="#262626" stroke-width="1.1" fill="none"/>
<rect x="237.3" y="1685.6" width="545.9" height="423.8" fill="none" stroke="#262626" stroke-width="2.4"/>
<g font-family="Liberation Serif, Times New Roman, serif" font-size="29.3" fill="#262626"><text x="236.3" y="2142.6" text-anchor="middle">0.01</text><text x="372.8" y="2142.6" text-anchor="middle">0.015</text><text x="509.3" y="2142.6" text-anchor="middle">0.02</text><text x="645.7" y="2142.6" text-anchor="middle">0.025</text><text x="782.2" y="2142.6" text-anchor="middle">0.03</text><text x="227.8" y="2119.6" text-anchor="end">0</text><text x="227.8" y="2049" text-anchor="end">5</text><text x="227.8" y="1978.3" text-anchor="end">10</text><text x="227.8" y="1907.7" text-anchor="end">15</text><text x="227.8" y="1837.1" text-anchor="end">20</text><text x="227.8" y="1766.4" text-anchor="end">25</text><text x="227.8" y="1695.8" text-anchor="end">30</text></g>
<rect x="816.3" y="1685.6" width="19.6" height="423.8" fill="url(#pg)" stroke="#262626" stroke-width="1.8"/>
<path d="M816.3 2016.9h3 M835.9 2016.9h-3 M816.3 1924.9h3 M835.9 1924.9h-3 M816.3 1832.9h3 M835.9 1832.9h-3 M816.3 1741h3 M835.9 1741h-3" stroke="#262626" stroke-width="1" fill="none"/>
<g font-family="Liberation Serif, Times New Roman, serif" font-size="29.3" fill="#262626"><text x="843.4" y="2119">0</text><text x="843.4" y="2027.1">500</text><text x="843.4" y="1935.1">1000</text><text x="843.4" y="1843.1">1500</text><text x="843.4" y="1751.2">2000</text></g>
<g transform="translate(1031.8,149.6) scale(0.5)">
<rect width="1129" height="848" fill="#3e28ac"/>
<path fill="#402ab4" d="M1125 848l-1125 0 0 -848 801 0 24 17 39 -17 265 0 0 848 -4 0z"/>
<path fill="#412dbb" d="M1125 848l-1125 0 0 -848 779 0 46 34 79 -34 225 0 0 848 -4 0z"/>
<path fill="#422fc2" d="M1125 848l-1125 0 0 -848 757 0 68 51 60 -27 59 -24 185 0 0 848 -4 0z"/>
<path fill="#4332c9" d="M1125 848l-1125 0 0 -848 734 0 91 68 84 -38 75 -30 145 0 0 848 -4 0z"/>
<path fill="#4434d0" d="M1125 848l-1125 0 0 -848 712 0 113 85 107 -49 93 -36 104 0 0 848 -4 0z"/>
<path fill="#4537d6" d="M1125 848l-1125 0 0 -848 689 0 136 102 124 -58 100 -39 16 -5 64 0 0 848 -4 0z"/>
<path fill="#463adc" d="M1125 848l-1125 0 0 -848 667 0 158 119 112 -54 96 -41 72 -24 24 0 0 848 -4 0z"/>
<path fill="#463ee1" d="M1125 848l-1125 0 0 -848 645 0 180 136 105 -52 95 -43 63 -25 41 -11 0 843 -4 0z"/>
<path fill="#4741e5" d="M1125 848l-1125 0 0 -848 622 0 203 153 113 -57 103 -48 60 -25 28 -8 0 833 -4 0z"/>
<path fill="#4745e9" d="M1125 848l-1125 0 0 -848 600 0 225 169 228 -113 56 -26 20 -7 0 825 -4 0z"/>
<path fill="#4848ec" d="M1125 848l-1125 0 0 -848 574 0 247 183 4 1 256 -127 48 -21 0 812 -4 0z"/>
<path fill="#484cef" d="M1125 848l-1125 0 0 -848 536 0 52 33 192 135 29 17 16 6 16 -4 32 -12 192 -89 36 -13 28 -4 0 779 -4 0z"/>
<path fill="#4850f2" d="M1125 848l-1125 0 0 -848 498 0 78 47 187 125 34 19 24 8 24 -2 32 -10 144 -65 44 -17 36 -10 28 -4 0 757 -4 0z"/>
<path fill="#4853f5" d="M1125 848l-1125 0 0 -848 460 0 100 58 193 123 40 21 28 7 24 -1 28 -7 40 -15 140 -59 40 -12 36 -4 0 737 -4 0z"/>
<path fill="#4757f7" d="M1125 848l-1125 0 0 -848 422 0 126 72 197 120 44 21 32 8 28 -1 32 -7 40 -15 96 -41 40 -15 40 -11 32 -3 0 720 -4 0z"/>
<path fill="#475af9" d="M1125 848l-1125 0 0 -848 383 0 153 85 201 119 44 20 36 9 32 1 36 -8 40 -14 132 -54 40 -11 32 -4 0 705 -4 0z"/>
<path fill="#465efb" d="M1125 848l-1125 0 0 -848 345 0 191 106 193 110 48 22 36 10 32 1 40 -8 44 -15 136 -56 36 -9 28 -3 0 690 -4 0z"/>
<path fill="#4561fc" d="M1125 848l-1125 0 0 -848 307 0 418 230 48 22 40 12 32 1 40 -8 48 -17 136 -56 32 -10 28 -4 0 678 -4 0z"/>
<path fill="#4465fd" d="M1125 848l-1125 0 0 -848 269 0 107 61 353 188 52 24 36 10 32 0 36 -9 52 -19 140 -59 32 -11 20 -3 0 666 -4 0z"/>
<path fill="#4369fe" d="M1125 848l-1125 0 0 -848 231 0 134 76 388 202 44 21 24 8 24 -2 36 -11 208 -89 40 -13 0 656 -4 0z"/>
<path fill="#406cfe" d="M1125 848l-1125 0 0 -848 192 0 152 86 328 166 153 84 252 -111 52 -20 0 643 -4 0z"/>
<path fill="#3d70ff" d="M1125 848l-1125 0 0 -848 150 0 207 112 275 136 161 83 28 11 16 -2 32 -11 204 -87 32 -10 24 -4 0 620 -4 0z"/>
<path fill="#3974fe" d="M1125 848l-1125 0 0 -848 108 0 148 80 102 52 258 124 154 76 43 17 20 1 28 -7 40 -15 160 -68 36 -11 32 -4 0 603 -4 0z"/>
<path fill="#3678fd" d="M1125 848l-1125 0 0 -848 65 0 65 36 214 108 406 192 31 13 24 8 28 2 32 -6 44 -16 152 -63 36 -11 32 -4 0 589 -4 0z"/>
<path fill="#327cfc" d="M1125 848l-1125 0 0 -848 23 0 16 12 28 16 249 122 421 194 36 14 24 8 20 3 16 1 36 -7 44 -15 148 -61 36 -11 32 -3 0 575 -4 0z"/>
<path fill="#3080fb" d="M1125 848l-1125 0 0 -816 28 6 48 19 254 119 385 172 49 20 33 10 36 3 40 -7 44 -15 148 -61 36 -10 28 -3 0 563 -4 0z"/>
<path fill="#2e83f9" d="M1125 848l-1125 0 0 -787 36 6 48 17 239 108 394 171 48 19 32 9 36 3 40 -7 48 -17 148 -61 32 -10 28 -3 0 552 -4 0z"/>
<path fill="#2e87f7" d="M1125 848l-1125 0 0 -764 36 5 44 15 227 100 410 173 48 19 32 9 20 2 16 0 40 -7 52 -19 148 -61 32 -11 24 -3 0 542 -4 0z"/>
<path fill="#2d8af4" d="M1125 848l-1125 0 0 -745 28 4 36 13 226 96 439 180 44 17 32 8 16 2 16 0 36 -9 52 -20 156 -66 28 -9 20 -4 0 533 -4 0z"/>
<path fill="#2d8df2" d="M1125 848l-1125 0 0 -729 16 3 20 7 236 99 300 118 197 80 44 15 20 1 36 -12 221 -94 39 -13 0 525 -4 0z"/>
<path fill="#2b91ef" d="M1125 848l-1125 0 0 -709 28 8 224 91 368 141 194 81 11 3 264 -114 40 -16 0 515 -4 0z"/>
<path fill="#2994ed" d="M1125 848l-1125 0 0 -680 36 6 52 17 500 187 206 82 27 8 12 -1 29 -11 219 -93 28 -9 20 -3 0 497 -4 0z"/>
<path fill="#2797eb" d="M1125 848l-1125 0 0 -658 20 2 24 4 60 18 468 170 210 80 35 10 16 0 24 -7 212 -88 36 -12 24 -3 0 484 -4 0z"/>
<path fill="#269ae8" d="M1125 848l-1125 0 0 -638 24 1 24 4 64 19 448 157 213 79 40 11 20 0 28 -7 204 -83 36 -12 28 -4 0 473 -4 0z"/>
<path fill="#249de7" d="M1125 848l-1125 0 0 -621 48 6 64 17 444 151 213 77 40 10 24 1 32 -7 40 -15 164 -68 32 -10 28 -3 0 462 -4 0z"/>
<path fill="#23a0e5" d="M1125 848l-1125 0 0 -604 48 5 64 17 440 145 213 75 44 11 28 0 32 -7 200 -81 32 -10 28 -4 0 453 -4 0z"/>
<path fill="#21a3e3" d="M1125 848l-1125 0 0 -589 44 5 60 16 448 142 213 74 44 10 28 0 32 -7 44 -16 160 -66 32 -10 24 -3 0 444 -4 0z"/>
<path fill="#1fa6e2" d="M1125 848l-1125 0 0 -575 40 5 56 15 436 134 104 34 129 44 44 12 28 -1 32 -7 44 -17 164 -67 32 -10 20 -3 0 436 -4 0z"/>
<path fill="#1da9e0" d="M1125 848l-1125 0 0 -562 24 3 36 9 191 58 253 74 128 40 145 49 36 9 24 0 32 -9 214 -87 30 -10 16 -3 0 429 -4 0z"/>
<path fill="#1aabdd" d="M1125 848l-1125 0 0 -551 28 7 172 52 368 104 116 37 109 38 28 8 16 -3 28 -9 222 -91 42 -15 0 423 -4 0z"/>
<path fill="#17aeda" d="M1125 848l-1125 0 0 -537 196 58 372 102 128 40 125 45 4 1 12 -5 292 -119 0 415 -4 0z"/>
<path fill="#13b0d7" d="M1125 848l-1125 0 0 -516 20 2 32 8 182 50 314 83 120 36 129 43 24 7 12 -2 24 -8 228 -92 28 -9 16 -2 0 400 -4 0z"/>
<path fill="#0eb3d4" d="M1125 848l-1125 0 0 -499 28 3 40 8 176 47 268 68 124 35 153 49 28 7 16 -1 20 -5 220 -87 32 -11 24 -4 0 390 -4 0z"/>
<path fill="#07b5d0" d="M1125 848l-1125 0 0 -483 32 2 44 9 424 106 140 38 149 46 28 6 16 -1 24 -6 216 -84 32 -10 24 -3 0 380 -4 0z"/>
<path fill="#03b7cc" d="M1125 848l-1125 0 0 -469 36 3 40 8 420 101 140 37 148 44 29 6 20 0 28 -7 212 -82 32 -9 24 -4 0 372 -4 0z"/>
<path fill="#01b8c8" d="M1125 848l-1125 0 0 -456 32 3 40 7 180 44 248 57 136 34 145 42 32 6 24 -1 28 -7 208 -80 32 -9 24 -4 0 364 -4 0z"/>
<path fill="#02bac4" d="M1125 848l-1125 0 0 -443 28 2 40 7 177 42 263 58 132 33 141 40 32 5 24 0 28 -8 212 -80 32 -10 20 -2 0 356 -4 0z"/>
<path fill="#07bcc0" d="M1125 848l-1125 0 0 -431 24 2 32 6 184 42 288 62 120 29 137 37 28 5 24 -1 28 -7 216 -82 28 -8 20 -4 0 350 -4 0z"/>
<path fill="#0ebdbb" d="M1125 848l-1125 0 0 -420 40 6 185 42 331 69 108 26 125 33 28 6 20 -2 28 -8 220 -83 28 -10 16 -3 0 344 -4 0z"/>
<path fill="#16bfb7" d="M1125 848l-1125 0 0 -410 196 44 380 76 116 28 109 30 20 4 12 -1 28 -10 228 -86 40 -13 0 338 -4 0z"/>
<path fill="#1ec0b2" d="M1125 848l-1125 0 0 -398 192 43 400 78 104 24 129 35 304 -114 0 332 -4 0z"/>
<path fill="#24c2ae" d="M1125 848l-1125 0 0 -383 32 4 180 38 360 68 116 26 133 34 12 -2 20 -7 236 -88 24 -8 16 -3 0 321 -4 0z"/>
<path fill="#29c3a9" d="M1125 848l-1125 0 0 -370 44 5 184 37 328 59 100 22 141 34 24 4 16 -2 24 -7 224 -84 24 -7 20 -3 0 312 -4 0z"/>
<path fill="#2ec4a5" d="M1125 848l-1125 0 0 -358 52 6 180 35 316 55 120 25 125 30 24 3 16 -1 24 -6 224 -83 28 -8 20 -3 0 305 -4 0z"/>
<path fill="#31c6a0" d="M1125 848l-1125 0 0 -346 56 6 176 33 308 52 120 24 129 29 28 4 20 -1 24 -7 220 -81 28 -9 20 -2 0 298 -4 0z"/>
<path fill="#35c79a" d="M1125 848l-1125 0 0 -335 56 6 176 31 308 51 116 22 129 29 28 4 20 -1 28 -7 220 -81 28 -8 20 -3 0 292 -4 0z"/>
<path fill="#39c895" d="M1125 848l-1125 0 0 -325 52 6 176 31 316 50 112 21 129 28 28 4 20 -1 28 -7 220 -81 28 -9 20 -3 0 286 -4 0z"/>
<path fill="#3eca8f" d="M1125 848l-1125 0 0 -315 44 5 176 30 332 51 112 21 125 26 28 4 20 -2 24 -7 224 -82 28 -9 16 -3 0 281 -4 0z"/>
<path fill="#44cb89" d="M1125 848l-1125 0 0 -305 36 4 188 32 348 52 116 21 105 22 24 3 16 -1 28 -8 228 -85 40 -11 0 276 -4 0z"/>
<path fill="#4ccb83" d="M1125 848l-1125 0 0 -297 192 33 384 55 116 21 129 26 8 -1 24 -7 276 -102 0 272 -4 0z"/>
<path fill="#54cc7d" d="M1125 848l-1125 0 0 -287 188 32 388 53 116 20 133 28 304 -112 0 266 -4 0z"/>
<path fill="#5ccc76" d="M1125 848l-1125 0 0 -275 28 2 188 30 356 47 120 20 129 26 12 -2 20 -7 240 -89 36 -9 0 257 -4 0z"/>
<path fill="#64cd6f" d="M1125 848l-1125 0 0 -265 32 3 179 26 357 46 104 17 125 23 24 3 12 -1 24 -8 236 -86 20 -6 16 -2 0 250 -4 0z"/>
<path fill="#6dcd68" d="M1125 848l-1125 0 0 -255 40 3 176 25 344 43 104 16 153 26 16 -2 20 -5 232 -85 28 -8 16 -2 0 244 -4 0z"/>
<path fill="#76cc61" d="M1125 848l-1125 0 0 -246 44 3 176 24 336 41 120 17 117 21 24 2 16 -1 20 -5 232 -84 24 -7 20 -3 0 238 -4 0z"/>
<path fill="#7fcc5a" d="M1125 848l-1125 0 0 -237 44 3 176 23 336 39 116 17 121 20 24 2 16 -1 24 -7 228 -82 24 -7 20 -3 0 233 -4 0z"/>
<path fill="#88cb53" d="M1125 848l-1125 0 0 -228 40 3 176 22 344 39 116 15 117 19 24 2 16 -1 24 -7 232 -82 24 -8 16 -2 0 228 -4 0z"/>
<path fill="#91ca4c" d="M1125 848l-1125 0 0 -220 32 2 180 23 356 38 249 35 16 -2 24 -7 232 -82 24 -8 16 -2 0 223 -4 0z"/>
<path fill="#9ac945" d="M1125 848l-1125 0 0 -212 216 25 356 37 249 34 36 -9 236 -84 36 -10 0 219 -4 0z"/>
<path fill="#a3c83f" d="M1125 848l-1125 0 0 -204 212 25 360 35 128 16 125 18 304 -106 0 216 -4 0z"/>
<path fill="#acc738" d="M1125 848l-1125 0 0 -196 180 21 424 41 96 12 125 18 304 -107 0 211 -4 0z"/>
<path fill="#b4c533" d="M1125 848l-1125 0 0 -187 208 22 360 32 128 15 125 17 28 -7 248 -87 32 -9 0 204 -4 0z"/>
<path fill="#bdc42f" d="M1125 848l-1125 0 0 -179 568 52 253 30 32 -8 244 -85 32 -8 0 198 -4 0z"/>
<path fill="#c4c22a" d="M1125 848l-1125 0 0 -171 560 48 261 30 12 -2 24 -7 240 -84 32 -7 0 193 -4 0z"/>
<path fill="#ccc028" d="M1125 848l-1125 0 0 -163 556 45 261 29 16 -2 16 -4 240 -84 24 -7 16 -2 0 188 -4 0z"/>
<path fill="#d3bf27" d="M1125 848l-1125 0 0 -155 548 42 269 28 16 -2 20 -5 236 -82 24 -7 16 -3 0 184 -4 0z"/>
<path fill="#dabd28" d="M1125 848l-1125 0 0 -148 548 40 269 28 16 -2 20 -6 240 -83 36 -9 0 180 -4 0z"/>
<path fill="#e1bc2b" d="M1125 848l-1125 0 0 -141 548 39 273 26 36 -8 236 -82 36 -10 0 176 -4 0z"/>
<path fill="#e7bb2e" d="M1125 848l-1125 0 0 -134 552 38 269 26 36 -10 240 -83 32 -9 0 172 -4 0z"/>
<path fill="#edba33" d="M1125 848l-1125 0 0 -127 552 36 144 12 129 15 304 -105 0 169 -4 0z"/>
<path fill="#f2ba38" d="M1125 848l-1125 0 0 -120 128 9 432 26 136 11 129 14 304 -105 0 165 -4 0z"/>
<path fill="#f8ba3d" d="M1125 848l-1125 0 0 -113 552 32 140 10 133 13 272 -94 32 -9 0 161 -4 0z"/>
<path fill="#fcbc3d" d="M1125 848l-1125 0 0 -106 552 29 269 22 28 -7 252 -88 28 -7 0 157 -4 0z"/>
<path fill="#febf3b" d="M1125 848l-1125 0 0 -100 552 28 269 20 28 -7 252 -88 28 -6 0 153 -4 0z"/>
<path fill="#fec339" d="M1125 848l-1125 0 0 -94 548 26 273 19 28 -7 252 -87 28 -7 0 150 -4 0z"/>
<path fill="#fec636" d="M1125 848l-1125 0 0 -88 552 25 265 17 28 -6 252 -87 32 -8 0 147 -4 0z"/>
<path fill="#feca33" d="M1125 848l-1125 0 0 -81 560 23 257 15 28 -6 256 -88 28 -7 0 144 -4 0z"/>
<path fill="#fdce31" d="M1125 848l-1125 0 0 -75 564 22 257 14 28 -8 252 -87 28 -8 0 142 -4 0z"/>
<path fill="#fbd22f" d="M1125 848l-1125 0 0 -69 572 21 249 12 20 -5 260 -90 28 -8 0 139 -4 0z"/>
<path fill="#fad62d" d="M1125 848l-1125 0 0 -63 592 20 233 11 304 -105 0 137 -4 0z"/>
<path fill="#f8da2b" d="M1125 848l-1125 0 0 -57 604 19 221 10 304 -104 0 132 -4 0z"/>
<path fill="#f6de29" d="M1125 848l-1125 0 0 -51 596 17 229 8 240 -71 40 -10 24 -3 0 110 -4 0z"/>
<path fill="#f5e227" d="M1125 848l-1125 0 0 -44 588 14 233 8 24 -5 216 -56 40 -8 28 -2 0 93 -4 0z"/>
<path fill="#f5e626" d="M1125 848l-1125 0 0 -38 821 19 27 -5 209 -45 40 -7 32 -2 0 78 -4 0z"/>
<path fill="#f5ea24" d="M1125 848l-1125 0 0 -31 821 15 27 -4 209 -37 40 -6 32 -1 0 64 -4 0z"/>
<path fill="#f5ee21" d="M1125 848l-1125 0 0 -25 817 12 32 -3 208 -30 72 -5 0 51 -4 0z"/>
<path fill="#f6f21e" d="M1125 848l-1125 0 0 -19 817 9 236 -24 76 -4 0 38 -4 0z"/>
<path fill="#f7f51b" d="M1125 848l-1125 0 0 -12 817 6 236 -16 76 -3 0 25 -4 0z"/>
<path fill="#f8f917" d="M1125 848l-1125 0 0 -6 809 3 320 -9 0 12 -4 0z"/>
</g>
<clipPath id="cle"><rect x="1031.8" y="149.6" width="564.4" height="424.1"/></clipPath>
<g clip-path="url(#cle)"><path d="M1322.9 150 1342.2 164.4M1358.2 176.5 1443.1 240.4 1444 240.5 1478 223.4M1495.9 214.4 1596.2 163.9M1132.7 149.4 1144.7 156.7M1161.9 166.9 1204.7 190.7 1251.8 215 1290.3 234.3M1308.2 243.2 1372.3 275.9 1396 288.8 1419.5 302.1 1435 311.4M1452.7 312.5 1586.1 253.2M1031.8 213.5 1063.8 227.8 1095.1 241.2 1162 268.3M1180.6 275.5 1319 328.6M1337.7 336 1380.4 353.2 1411.8 366.4 1443 380.1 1443.9 380.2 1473.3 367.4M1491.6 359.3 1596.2 313.5M1041.3 304.9 1063.1 312.2 1095.6 322.4 1127.3 331.7 1182.3 346.8M1201.7 352 1284.8 374.6 1343.4 391.9M1362.4 398 1380.5 403.9 1411.7 414.9 1443.4 427.2 1500.8 403.7M1519.4 396 1596.2 364.4M1041.5 374.3 1063.7 380.1 1095.9 387.7 1127.2 394.5 1184.1 405.7M1203.8 409.4 1285.4 424.8 1316.8 431.3 1349.1 438.4M1368.5 443.1 1412.1 454.6 1443.7 464.1 1507.3 440M1526 432.9 1596.2 406.3M1041.6 430 1063.2 434.2 1095.8 439.8 1127.4 444.8 1185.9 453M1205.7 455.6 1285 466.4 1350.3 476.7M1370 480.3 1412.2 488.7 1443.3 496 1510.9 471M1529.6 464 1596.2 439.2M1041.7 475.3 1095.3 482.1 1187.9 491.4M1207.8 493.2 1285.6 500.5 1352.2 507.7M1372.1 510.3 1411.7 515.8 1443.3 520.9 1514.1 496.1M1533 489.4 1596.2 467.1M1041.8 513.1 1095.7 517 1187.6 522.4M1207.6 523.5 1285.5 528.2 1352.4 533.2M1372.3 535 1443.9 542.8 1514.9 518.2M1533.8 511.7 1596.2 490M1031.8 543.7 1095.8 546.4 1186.9 549.3M1200.9 549.7 1354.9 554.6M1368.9 555.2 1443.9 558.7 1516.7 533.5M1530 528.9 1596.2 506" fill="none" stroke="#000" stroke-width="1.1" stroke-linejoin="round"/></g><g font-family="Liberation Sans, Arial, sans-serif" font-size="9.5" text-anchor="middle" fill="#000" fill-opacity="0.82"><text transform="translate(1350.2,170.5) rotate(36.9)" y="3.4">-45</text><text transform="translate(1486.9,218.9) rotate(-26.7)" y="3.4">-45</text><text transform="translate(1153.2,161.8) rotate(31.1)" y="3.4">-40</text><text transform="translate(1299.2,238.7) rotate(26.5)" y="3.4">-40</text><text transform="translate(1443.6,316.5) rotate(3.9)" y="3.4">-40</text><text transform="translate(1595.3,249.1) rotate(-24)" y="3.4">-40</text><text transform="translate(1171.3,271.9) rotate(21.3)" y="3.4">-35</text><text transform="translate(1328.3,332.3) rotate(21.5)" y="3.4">-35</text><text transform="translate(1482.4,363.3) rotate(-23.6)" y="3.4">-35</text><text transform="translate(1031.8,301.7) rotate(18.5)" y="3.4">-30</text><text transform="translate(1192,349.5) rotate(15)" y="3.4">-30</text><text transform="translate(1352.9,394.9) rotate(18.1)" y="3.4">-30</text><text transform="translate(1510.1,399.8) rotate(-22.4)" y="3.4">-30</text><text transform="translate(1031.8,371.7) rotate(14.7)" y="3.4">-25</text><text transform="translate(1194,407.6) rotate(10.6)" y="3.4">-25</text><text transform="translate(1358.8,440.8) rotate(13.7)" y="3.4">-25</text><text transform="translate(1516.7,436.4) rotate(-20.8)" y="3.4">-25</text><text transform="translate(1031.8,428.1) rotate(11)" y="3.4">-20</text><text transform="translate(1195.8,454.3) rotate(7.6)" y="3.4">-20</text><text transform="translate(1360.1,478.5) rotate(10.3)" y="3.4">-20</text><text transform="translate(1520.2,467.5) rotate(-20.4)" y="3.4">-20</text><text transform="translate(1031.8,474) rotate(7.7)" y="3.4">-15</text><text transform="translate(1197.9,492.3) rotate(5.2)" y="3.4">-15</text><text transform="translate(1362.1,509) rotate(7.2)" y="3.4">-15</text><text transform="translate(1523.5,492.8) rotate(-19.4)" y="3.4">-15</text><text transform="translate(1031.8,512.4) rotate(4.4)" y="3.4">-10</text><text transform="translate(1197.6,523) rotate(3.2)" y="3.4">-10</text><text transform="translate(1362.4,534.1) rotate(5.2)" y="3.4">-10</text><text transform="translate(1524.3,514.9) rotate(-19.1)" y="3.4">-10</text><text transform="translate(1193.9,549.5) rotate(1.6)" y="3.4">-5</text><text transform="translate(1361.9,554.9) rotate(2.4)" y="3.4">-5</text><text transform="translate(1523.4,531.2) rotate(-19.1)" y="3.4">-5</text></g>
<path d="M1137.6 573.7v-5.5 M1137.6 149.6v5.5 M1314 573.7v-5.5 M1314 149.6v5.5 M1490.4 573.7v-5.5 M1490.4 149.6v5.5 M1031.8 503h5.5 M1596.2 503h-5.5 M1031.8 432.3h5.5 M1596.2 432.3h-5.5 M1031.8 361.6h5.5 M1596.2 361.6h-5.5 M1031.8 291h5.5 M1596.2 291h-5.5 M1031.8 220.3h5.5 M1596.2 220.3h-5.5" stroke="#262626" stroke-width="1.1" fill="none"/>
<rect x="1031.8" y="149.6" width="564.4" height="424.1" fill="none" stroke="#262626" stroke-width="2.4"/>
<g font-family="Liberation Serif, Times New Roman, serif" font-size="29.3" fill="#262626"><text x="1136.6" y="606.9" text-anchor="middle">0.0115</text><text x="1313" y="606.9" text-anchor="middle">0.012</text><text x="1489.4" y="606.9" text-anchor="middle">0.0125</text><text x="1022.3" y="583.9" text-anchor="end">0</text><text x="1022.3" y="513.2" text-anchor="end">5</text><text x="1022.3" y="442.5" text-anchor="end">10</text><text x="1022.3" y="371.8" text-anchor="end">15</text><text x="1022.3" y="301.2" text-anchor="end">20</text><text x="1022.3" y="230.5" text-anchor="end">25</text><text x="1022.3" y="159.8" text-anchor="end">30</text></g>
<rect x="1604.4" y="149.6" width="18.8" height="424.1" fill="url(#pg)" stroke="#262626" stroke-width="1.8"/>
<path d="M1604.4 231.7h3 M1623.2 231.7h-3 M1604.4 316.4h3 M1623.2 316.4h-3 M1604.4 401h3 M1623.2 401h-3 M1604.4 485.7h3 M1623.2 485.7h-3" stroke="#262626" stroke-width="1" fill="none"/>
<g font-family="Liberation Serif, Times New Roman, serif" font-size="29.3" fill="#262626"><text x="1630.7" y="241.9">-10</text><text x="1630.7" y="326.6">-20</text><text x="1630.7" y="411.2">-30</text><text x="1630.7" y="495.9">-40</text></g>
<g transform="translate(1031.8,646.3) scale(0.5)">
<rect width="1129" height="848" fill="#3e28ac"/>
<path fill="#402ab4" d="M1125 848l-1125 0 0 -848 706 0 119 21 74 -21 230 0 0 848 -4 0z"/>
<path fill="#412dbb" d="M1125 848l-1125 0 0 -848 588 0 121 19 116 22 72 -22 78 -19 154 0 0 848 -4 0z"/>
<path fill="#422fc2" d="M1125 848l-1125 0 0 -848 470 0 186 29 169 33 104 -33 108 -26 14 -3 78 0 0 848 -4 0z"/>
<path fill="#4332c9" d="M1125 848l-1125 0 0 -848 352 0 136 19 120 19 105 20 112 25 75 -27 77 -23 70 -17 82 -16 0 848 -4 0z"/>
<path fill="#4434d0" d="M1125 848l-1125 0 0 -848 235 0 181 25 148 23 128 25 133 30 83 -31 89 -28 76 -19 56 -8 0 831 -4 0z"/>
<path fill="#4537d6" d="M1125 848l-1125 0 0 -848 117 0 283 38 120 19 104 20 93 20 108 27 91 -36 93 -31 72 -19 48 -6 0 816 -4 0z"/>
<path fill="#463adc" d="M1125 848l-1125 0 0 -848 268 34 218 34 170 34 169 43 96 -40 96 -35 68 -19 44 -6 0 803 -4 0z"/>
<path fill="#463ee1" d="M1125 848l-1125 0 0 -832 64 6 168 22 134 20 114 19 92 18 84 19 169 46 94 -42 103 -40 63 -20 24 -5 20 -1 0 790 -4 0z"/>
<path fill="#4741e5" d="M1125 848l-1125 0 0 -819 56 5 172 24 136 21 112 20 92 19 84 19 77 21 96 28 100 -46 107 -44 61 -21 36 -6 0 779 -4 0z"/>
<path fill="#4745e9" d="M1125 848l-1125 0 0 -805 56 5 192 28 128 21 104 19 88 19 84 21 73 20 100 31 98 -47 118 -52 56 -22 32 -6 0 768 -4 0z"/>
<path fill="#4848ec" d="M1125 848l-1125 0 0 -793 56 7 232 35 104 18 100 20 80 18 80 21 65 18 108 36 224 -108 55 -24 25 -8 0 760 -4 0z"/>
<path fill="#484cef" d="M1125 848l-1125 0 0 -781 312 50 192 37 84 20 100 28 73 23 60 22 4 0 304 -150 0 751 -4 0z"/>
<path fill="#4850f2" d="M1125 848l-1125 0 0 -759 56 5 140 20 132 21 120 23 164 37 182 53 27 6 9 -2 31 -12 200 -91 40 -14 28 -4 0 717 -4 0z"/>
<path fill="#4853f5" d="M1125 848l-1125 0 0 -740 56 3 92 12 148 23 124 22 148 31 209 55 40 8 20 -3 28 -9 144 -63 52 -20 36 -11 32 -4 0 696 -4 0z"/>
<path fill="#4757f7" d="M1125 848l-1125 0 0 -722 56 3 80 9 132 19 124 21 144 29 225 55 28 6 24 3 24 -2 32 -9 140 -58 48 -17 40 -11 32 -3 0 677 -4 0z"/>
<path fill="#475af9" d="M1125 848l-1125 0 0 -705 56 3 72 7 240 36 172 33 217 52 52 7 28 -2 36 -9 140 -55 48 -16 36 -8 32 -3 0 660 -4 0z"/>
<path fill="#465efb" d="M1125 848l-1125 0 0 -688 56 3 68 6 228 33 176 33 217 49 56 8 32 -2 32 -6 40 -13 100 -39 44 -15 44 -10 36 -3 0 644 -4 0z"/>
<path fill="#4561fc" d="M1125 848l-1125 0 0 -671 56 2 68 7 220 31 176 31 217 47 60 8 36 -1 36 -7 44 -14 92 -35 44 -15 40 -9 40 -4 0 630 -4 0z"/>
<path fill="#4465fd" d="M1125 848l-1125 0 0 -655 56 2 64 6 216 30 180 31 217 46 36 5 28 2 36 -1 40 -7 44 -14 132 -48 44 -10 36 -3 0 616 -4 0z"/>
<path fill="#4369fe" d="M1125 848l-1125 0 0 -639 52 2 64 6 224 30 176 29 213 44 64 8 40 -1 40 -8 44 -13 136 -49 40 -9 36 -3 0 603 -4 0z"/>
<path fill="#406cfe" d="M1125 848l-1125 0 0 -623 52 2 64 6 232 31 172 28 209 42 64 7 40 -1 44 -8 44 -14 136 -49 40 -9 32 -3 0 591 -4 0z"/>
<path fill="#3d70ff" d="M1125 848l-1125 0 0 -608 48 2 64 6 256 34 160 26 205 40 64 7 40 -2 40 -8 48 -15 136 -49 36 -10 32 -3 0 580 -4 0z"/>
<path fill="#3974fe" d="M1125 848l-1125 0 0 -593 44 2 60 6 288 37 152 25 197 39 60 6 40 -3 40 -9 48 -15 136 -51 36 -10 28 -3 0 569 -4 0z"/>
<path fill="#3678fd" d="M1125 848l-1125 0 0 -579 36 2 52 5 340 45 140 22 181 36 56 7 36 -3 40 -10 52 -18 136 -52 36 -11 24 -3 0 559 -4 0z"/>
<path fill="#327cfc" d="M1125 848l-1125 0 0 -565 56 5 412 53 128 22 173 35 40 5 28 -2 40 -11 56 -21 144 -57 32 -11 20 -3 0 550 -4 0z"/>
<path fill="#3080fb" d="M1125 848l-1125 0 0 -552 512 66 120 21 157 36 28 4 20 -3 40 -14 208 -86 44 -15 0 543 -4 0z"/>
<path fill="#2e83f9" d="M1125 848l-1125 0 0 -539 172 24 284 34 108 16 136 28 121 33 308 -129 0 533 -4 0z"/>
<path fill="#2e87f7" d="M1125 848l-1125 0 0 -525 392 47 120 16 128 22 157 37 24 4 12 -2 28 -11 208 -85 36 -12 24 -4 0 513 -4 0z"/>
<path fill="#2d8af4" d="M1125 848l-1125 0 0 -511 60 4 440 54 124 20 161 35 32 5 20 -3 28 -9 204 -81 32 -9 28 -4 0 499 -4 0z"/>
<path fill="#2d8df2" d="M1125 848l-1125 0 0 -499 76 6 408 48 136 22 161 33 36 4 24 -3 32 -10 192 -75 36 -9 28 -4 0 487 -4 0z"/>
<path fill="#2b91ef" d="M1125 848l-1125 0 0 -486 88 6 380 43 136 21 169 33 40 4 28 -3 32 -9 148 -57 44 -15 36 -9 28 -3 0 475 -4 0z"/>
<path fill="#2994ed" d="M1125 848l-1125 0 0 -474 92 6 364 40 140 21 169 32 44 4 28 -2 28 -6 40 -14 152 -58 40 -10 32 -3 0 464 -4 0z"/>
<path fill="#2797eb" d="M1125 848l-1125 0 0 -463 96 6 348 38 140 20 177 32 44 4 32 -2 32 -7 40 -13 148 -56 40 -10 32 -4 0 455 -4 0z"/>
<path fill="#269ae8" d="M1125 848l-1125 0 0 -451 44 1 56 5 336 36 144 20 177 31 48 4 32 -2 32 -7 44 -15 144 -54 40 -10 32 -3 0 445 -4 0z"/>
<path fill="#249de7" d="M1125 848l-1125 0 0 -440 100 6 332 35 144 20 177 30 52 4 32 -2 36 -8 44 -15 144 -53 36 -10 32 -3 0 436 -4 0z"/>
<path fill="#23a0e5" d="M1125 848l-1125 0 0 -429 96 6 336 35 144 19 177 29 52 4 32 -2 36 -8 44 -15 144 -53 36 -10 32 -4 0 428 -4 0z"/>
<path fill="#21a3e3" d="M1125 848l-1125 0 0 -418 92 6 344 35 144 18 173 29 52 4 32 -2 36 -9 48 -16 144 -53 36 -10 28 -4 0 420 -4 0z"/>
<path fill="#1fa6e2" d="M1125 848l-1125 0 0 -407 88 5 356 36 140 18 173 28 48 4 32 -2 36 -9 48 -16 148 -56 36 -10 24 -3 0 412 -4 0z"/>
<path fill="#1da9e0" d="M1125 848l-1125 0 0 -397 80 6 376 37 136 17 177 29 40 3 28 -3 36 -9 202 -75 34 -10 20 -3 0 405 -4 0z"/>
<path fill="#1aabdd" d="M1125 848l-1125 0 0 -387 332 30 156 17 132 17 161 27 32 3 24 -3 32 -9 212 -80 32 -11 16 -3 0 399 -4 0z"/>
<path fill="#17aeda" d="M1125 848l-1125 0 0 -377 492 47 148 20 165 29 16 1 48 -15 260 -98 0 393 -4 0z"/>
<path fill="#13b0d7" d="M1125 848l-1125 0 0 -368 376 36 148 15 168 24 129 25 308 -117 0 385 -4 0z"/>
<path fill="#0eb3d4" d="M1125 848l-1125 0 0 -358 372 33 124 13 140 18 185 30 39 -12 217 -82 32 -11 20 -3 0 372 -4 0z"/>
<path fill="#07b5d0" d="M1125 848l-1125 0 0 -348 48 2 280 25 164 16 128 16 165 27 32 3 16 -2 28 -9 216 -81 28 -8 24 -3 0 362 -4 0z"/>
<path fill="#03b7cc" d="M1125 848l-1125 0 0 -339 76 4 400 36 144 17 165 26 32 2 20 -2 32 -10 204 -76 32 -9 24 -3 0 354 -4 0z"/>
<path fill="#01b8c8" d="M1125 848l-1125 0 0 -331 80 5 384 33 148 18 165 24 36 3 24 -2 32 -10 204 -75 32 -8 24 -2 0 345 -4 0z"/>
<path fill="#02bac4" d="M1125 848l-1125 0 0 -322 84 5 372 31 148 17 169 25 40 2 28 -3 32 -9 200 -73 32 -8 24 -3 0 338 -4 0z"/>
<path fill="#07bcc0" d="M1125 848l-1125 0 0 -313 84 4 368 31 148 16 169 24 40 2 28 -2 28 -7 200 -73 36 -10 28 -3 0 331 -4 0z"/>
<path fill="#0ebdbb" d="M1125 848l-1125 0 0 -305 88 5 360 29 148 16 169 23 44 3 28 -3 28 -7 200 -72 36 -10 28 -3 0 324 -4 0z"/>
<path fill="#16bfb7" d="M1125 848l-1125 0 0 -297 84 5 364 29 148 15 169 23 44 3 28 -3 32 -8 200 -72 32 -9 28 -3 0 317 -4 0z"/>
<path fill="#1ec0b2" d="M1125 848l-1125 0 0 -288 84 4 364 28 148 16 169 22 44 3 28 -3 32 -8 200 -72 36 -10 24 -3 0 311 -4 0z"/>
<path fill="#24c2ae" d="M1125 848l-1125 0 0 -280 80 4 372 28 148 16 169 22 40 2 28 -3 32 -8 204 -74 32 -9 24 -3 0 305 -4 0z"/>
<path fill="#29c3a9" d="M1125 848l-1125 0 0 -272 80 4 384 29 144 15 165 21 36 2 24 -2 32 -8 212 -77 32 -9 20 -3 0 300 -4 0z"/>
<path fill="#2ec4a5" d="M1125 848l-1125 0 0 -264 316 21 160 13 140 14 165 21 32 2 24 -3 32 -9 212 -77 29 -10 19 -3 0 295 -4 0z"/>
<path fill="#31c6a0" d="M1125 848l-1125 0 0 -257 480 35 128 12 185 24 24 2 16 -2 32 -10 220 -81 44 -13 0 290 -4 0z"/>
<path fill="#35c79a" d="M1125 848l-1125 0 0 -249 376 26 148 12 176 20 121 18 308 -113 0 286 -4 0z"/>
<path fill="#39c895" d="M1125 848l-1125 0 0 -242 376 26 148 12 148 15 149 22 264 -98 44 -14 0 279 -4 0z"/>
<path fill="#3eca8f" d="M1125 848l-1125 0 0 -234 372 24 144 11 124 12 181 23 36 -11 228 -84 28 -9 16 -3 0 271 -4 0z"/>
<path fill="#44cb89" d="M1125 848l-1125 0 0 -227 484 31 144 13 165 21 28 1 39 -11 221 -80 28 -9 20 -3 0 264 -4 0z"/>
<path fill="#4ccb83" d="M1125 848l-1125 0 0 -220 312 18 168 11 132 12 173 21 32 2 16 -3 28 -8 220 -80 28 -8 20 -2 0 257 -4 0z"/>
<path fill="#54cc7d" d="M1125 848l-1125 0 0 -213 80 3 392 25 152 13 161 18 32 2 20 -3 27 -9 217 -77 28 -8 20 -2 0 251 -4 0z"/>
<path fill="#5ccc76" d="M1125 848l-1125 0 0 -207 80 4 384 23 156 13 161 18 32 1 24 -3 28 -8 216 -77 28 -8 20 -2 0 246 -4 0z"/>
<path fill="#64cd6f" d="M1125 848l-1125 0 0 -200 80 3 372 22 160 13 165 17 36 2 24 -3 28 -8 216 -77 28 -7 20 -3 0 241 -4 0z"/>
<path fill="#6dcd68" d="M1125 848l-1125 0 0 -193 84 3 360 20 164 13 169 17 36 2 20 -3 24 -6 220 -78 28 -8 24 -3 0 236 -4 0z"/>
<path fill="#76cc61" d="M1125 848l-1125 0 0 -187 84 3 360 20 164 13 169 16 32 2 24 -3 24 -6 220 -78 32 -9 20 -2 0 231 -4 0z"/>
<path fill="#7fcc5a" d="M1125 848l-1125 0 0 -180 84 3 352 19 172 12 169 16 36 1 20 -2 28 -7 216 -77 32 -9 20 -2 0 226 -4 0z"/>
<path fill="#88cb53" d="M1125 848l-1125 0 0 -173 436 21 172 12 173 16 32 1 20 -3 28 -7 220 -78 28 -8 20 -3 0 222 -4 0z"/>
<path fill="#91ca4c" d="M1125 848l-1125 0 0 -167 432 20 184 13 165 15 32 1 20 -3 28 -7 220 -78 28 -9 20 -3 0 218 -4 0z"/>
<path fill="#9ac945" d="M1125 848l-1125 0 0 -161 432 20 184 13 173 15 28 1 16 -3 28 -8 224 -79 44 -12 0 214 -4 0z"/>
<path fill="#a3c83f" d="M1125 848l-1125 0 0 -154 252 10 240 13 329 25 44 -14 220 -77 44 -14 0 211 -4 0z"/>
<path fill="#acc738" d="M1125 848l-1125 0 0 -148 496 23 172 12 153 14 308 -109 0 208 -4 0z"/>
<path fill="#b4c533" d="M1125 848l-1125 0 0 -142 496 22 176 11 149 13 308 -107 0 203 -4 0z"/>
<path fill="#bdc42f" d="M1125 848l-1125 0 0 -137 492 21 329 23 24 -7 244 -85 40 -11 0 196 -4 0z"/>
<path fill="#c4c22a" d="M1125 848l-1125 0 0 -131 432 16 180 11 209 14 34 -10 234 -81 24 -7 16 -3 0 191 -4 0z"/>
<path fill="#ccc028" d="M1125 848l-1125 0 0 -126 432 16 385 23 16 -2 20 -7 236 -81 24 -7 16 -2 0 186 -4 0z"/>
<path fill="#d3bf27" d="M1125 848l-1125 0 0 -121 428 15 188 10 169 12 32 0 16 -2 24 -7 232 -80 24 -6 16 -2 0 181 -4 0z"/>
<path fill="#dabd28" d="M1125 848l-1125 0 0 -115 432 14 381 21 20 -3 24 -6 232 -80 24 -6 16 -2 0 177 -4 0z"/>
<path fill="#e1bc2b" d="M1125 848l-1125 0 0 -110 428 14 184 9 169 10 32 1 20 -3 24 -7 232 -79 24 -6 16 -2 0 173 -4 0z"/>
<path fill="#e7bb2e" d="M1125 848l-1125 0 0 -105 424 13 184 9 173 10 32 0 20 -3 24 -6 232 -79 24 -6 16 -2 0 169 -4 0z"/>
<path fill="#edba33" d="M1125 848l-1125 0 0 -100 424 13 184 8 173 10 32 0 20 -3 20 -5 228 -78 28 -8 20 -3 0 166 -4 0z"/>
<path fill="#f2ba38" d="M1125 848l-1125 0 0 -94 424 11 357 18 32 0 20 -3 20 -6 232 -78 28 -8 16 -2 0 162 -4 0z"/>
<path fill="#f8ba3d" d="M1125 848l-1125 0 0 -89 428 11 385 17 16 -3 24 -6 232 -78 28 -9 16 -2 0 159 -4 0z"/>
<path fill="#fcbc3d" d="M1125 848l-1125 0 0 -84 436 11 377 16 16 -3 24 -6 236 -80 40 -10 0 156 -4 0z"/>
<path fill="#febf3b" d="M1125 848l-1125 0 0 -79 440 11 377 14 36 -8 236 -80 40 -11 0 153 -4 0z"/>
<path fill="#fec339" d="M1125 848l-1125 0 0 -74 444 11 377 14 308 -101 0 150 -4 0z"/>
<path fill="#fec636" d="M1125 848l-1125 0 0 -69 504 12 317 12 308 -103 0 148 -4 0z"/>
<path fill="#feca33" d="M1125 848l-1125 0 0 -64 508 11 313 12 248 -78 60 -16 0 135 -4 0z"/>
<path fill="#fdce31" d="M1125 848l-1125 0 0 -59 504 10 317 10 248 -70 36 -9 24 -3 0 121 -4 0z"/>
<path fill="#fbd22f" d="M1125 848l-1125 0 0 -54 496 9 321 9 28 -4 220 -58 36 -7 28 -3 0 108 -4 0z"/>
<path fill="#fad62d" d="M1125 848l-1125 0 0 -49 448 7 369 10 32 -6 212 -50 40 -6 28 -3 0 97 -4 0z"/>
<path fill="#f8da2b" d="M1125 848l-1125 0 0 -44 440 6 377 9 36 -6 204 -42 40 -7 32 -2 0 86 -4 0z"/>
<path fill="#f6de29" d="M1125 848l-1125 0 0 -39 444 6 369 7 40 -5 204 -37 40 -6 32 -1 0 75 -4 0z"/>
<path fill="#f5e227" d="M1125 848l-1125 0 0 -34 436 5 377 6 40 -4 204 -33 72 -5 0 65 -4 0z"/>
<path fill="#f5e626" d="M1125 848l-1125 0 0 -29 813 9 40 -3 200 -27 76 -6 0 56 -4 0z"/>
<path fill="#f5ea24" d="M1125 848l-1125 0 0 -24 813 8 44 -3 196 -23 76 -4 0 46 -4 0z"/>
<path fill="#f5ee21" d="M1125 848l-1125 0 0 -19 813 6 44 -2 196 -18 76 -3 0 36 -4 0z"/>
<path fill="#f6f21e" d="M1125 848l-1125 0 0 -14 809 5 244 -16 76 -2 0 27 -4 0z"/>
<path fill="#f7f51b" d="M1125 848l-1125 0 0 -9 809 3 320 -12 0 18 -4 0z"/>
<path fill="#f8f917" d="M1125 848l-1125 0 0 -4 809 1 320 -6 0 9 -4 0z"/>
</g>
<clipPath id="clf"><rect x="1031.8" y="646.3" width="564.4" height="424.2"/></clipPath>
<g clip-path="url(#clf)"><path d="M1041.7 680.3 1188 703.8M1207.7 707.2 1252.9 715.7 1284.3 722.4 1316.5 729.9 1351.3 739.1M1370.5 744.7 1410.6 757.5 1442.5 769.2 1503.6 739.3M1521.6 730.5 1596.2 693.8M1041.7 800.2 1063.4 803.8 1095.1 808.4 1187.4 819.6M1207.3 821.9 1253 827.5 1284.7 831.9 1316.3 836.9 1352.7 843.9M1372.2 848.1 1411 857.8 1442.6 867.4 1509.8 838.6M1528.2 830.7 1596.2 801.5M1041.7 885.5 1095.5 891.2 1187.1 899.5M1207 901.3 1284.6 909.3 1316.4 913.2 1353 918.4M1372.7 921.6 1411.1 928.5 1442.4 935.1 1513.3 907.7M1531.9 900.4 1596.2 875.3M1041.8 948.1 1094.7 952.1 1187.6 958.3M1207.6 959.6 1284.4 965.6 1316.3 968.6 1354.1 972.7M1374 975.2 1410.7 980.3 1442.3 985.4 1513.6 959M1532.4 952 1596.2 928.2M1041.8 997.6 1187.8 1003.8M1207.8 1004.7 1284.7 1008.8 1353.6 1013.4M1373.6 1015 1442.4 1021.3 1515 995.8M1533.9 989.1 1596.2 967.1M1041.8 1036.5 1187 1039.6M1207.1 1040.1 1284.2 1042.1 1353.2 1044.4M1373.3 1045.2 1442.3 1048.5 1516.4 1023.7M1535.4 1017.4 1596.2 997" fill="none" stroke="#000" stroke-width="1.1" stroke-linejoin="round"/></g><g font-family="Liberation Sans, Arial, sans-serif" font-size="9.5" text-anchor="middle" fill="#000" fill-opacity="0.82"><text transform="translate(1031.8,678.7) rotate(9.2)" y="3.4">-60</text><text transform="translate(1197.8,705.5) rotate(10.1)" y="3.4">-60</text><text transform="translate(1360.9,741.9) rotate(16.3)" y="3.4">-60</text><text transform="translate(1512.6,734.9) rotate(-26.1)" y="3.4">-60</text><text transform="translate(1031.8,798.5) rotate(9.5)" y="3.4">-50</text><text transform="translate(1197.4,820.7) rotate(6.7)" y="3.4">-50</text><text transform="translate(1362.4,846) rotate(12.3)" y="3.4">-50</text><text transform="translate(1519,834.6) rotate(-23.2)" y="3.4">-50</text><text transform="translate(1031.8,884.4) rotate(6.3)" y="3.4">-40</text><text transform="translate(1197,900.4) rotate(5.3)" y="3.4">-40</text><text transform="translate(1362.9,920) rotate(9.1)" y="3.4">-40</text><text transform="translate(1522.6,904) rotate(-21.3)" y="3.4">-40</text><text transform="translate(1031.8,947.3) rotate(4.5)" y="3.4">-30</text><text transform="translate(1197.6,959) rotate(4)" y="3.4">-30</text><text transform="translate(1364.1,974) rotate(7)" y="3.4">-30</text><text transform="translate(1523,955.5) rotate(-20.4)" y="3.4">-30</text><text transform="translate(1031.8,997.2) rotate(2.5)" y="3.4">-20</text><text transform="translate(1197.8,1004.3) rotate(2.7)" y="3.4">-20</text><text transform="translate(1363.6,1014.2) rotate(4.5)" y="3.4">-20</text><text transform="translate(1524.5,992.4) rotate(-19.5)" y="3.4">-20</text><text transform="translate(1031.8,1036.3) rotate(1.3)" y="3.4">-10</text><text transform="translate(1197,1039.9) rotate(1.3)" y="3.4">-10</text><text transform="translate(1363.3,1044.8) rotate(2.3)" y="3.4">-10</text><text transform="translate(1525.9,1020.6) rotate(-18.5)" y="3.4">-10</text></g>
<path d="M1137.6 1070.5v-5.5 M1137.6 646.3v5.5 M1314 1070.5v-5.5 M1314 646.3v5.5 M1490.4 1070.5v-5.5 M1490.4 646.3v5.5 M1031.8 999.8h5.5 M1596.2 999.8h-5.5 M1031.8 929.1h5.5 M1596.2 929.1h-5.5 M1031.8 858.4h5.5 M1596.2 858.4h-5.5 M1031.8 787.7h5.5 M1596.2 787.7h-5.5 M1031.8 717h5.5 M1596.2 717h-5.5" stroke="#262626" stroke-width="1.1" fill="none"/>
<rect x="1031.8" y="646.3" width="564.4" height="424.2" fill="none" stroke="#262626" stroke-width="2.4"/>
<g font-family="Liberation Serif, Times New Roman, serif" font-size="29.3" fill="#262626"><text x="1136.6" y="1103.7" text-anchor="middle">0.0115</text><text x="1313" y="1103.7" text-anchor="middle">0.012</text><text x="1489.4" y="1103.7" text-anchor="middle">0.0125</text><text x="1022.3" y="1080.7" text-anchor="end">0</text><text x="1022.3" y="1010" text-anchor="end">5</text><text x="1022.3" y="939.3" text-anchor="end">10</text><text x="1022.3" y="868.6" text-anchor="end">15</text><text x="1022.3" y="797.9" text-anchor="end">20</text><text x="1022.3" y="727.2" text-anchor="end">25</text><text x="1022.3" y="656.5" text-anchor="end">30</text></g>
<rect x="1604.4" y="646.3" width="18.8" height="424.2" fill="url(#pg)" stroke="#262626" stroke-width="1.8"/>
<path d="M1604.4 704.9h3 M1623.2 704.9h-3 M1604.4 768h3 M1623.2 768h-3 M1604.4 831h3 M1623.2 831h-3 M1604.4 894h3 M1623.2 894h-3 M1604.4 957h3 M1623.2 957h-3 M1604.4 1020.1h3 M1623.2 1020.1h-3" stroke="#262626" stroke-width="1" fill="none"/>
<g font-family="Liberation Serif, Times New Roman, serif" font-size="29.3" fill="#262626"><text x="1630.7" y="715.1">-10</text><text x="1630.7" y="778.2">-20</text><text x="1630.7" y="841.2">-30</text><text x="1630.7" y="904.2">-40</text><text x="1630.7" y="967.2">-50</text><text x="1630.7" y="1030.3">-60</text></g>
<g transform="translate(1031.8,1165.8) scale(0.5)">
<rect width="1129" height="848" fill="#3e28ac"/>
<path fill="#402ab4" d="M841 844l-209 -3 -284 -8 -120 -6 -172 -13 -56 -2 0 -812 1129 0 0 810 -40 2 -184 22 -52 9 -12 1z"/>
<path fill="#412dbb" d="M841 840l-217 -6 -284 -16 -108 -12 -172 -26 -60 -6 0 -774 1129 0 0 765 -28 5 -60 18 -72 19 -72 14 -44 18 -12 1z"/>
<path fill="#422fc2" d="M845 836l-32 0 -185 -9 -288 -26 -112 -18 -160 -36 -68 -12 0 -735 1129 0 0 735 -4 1 -84 35 -72 24 -72 18 -44 22 -8 1z"/>
<path fill="#4332c9" d="M849 832l-40 1 -157 -12 -220 -27 -136 -24 -216 -51 -44 -7 -36 -3 0 -709 1129 0 0 734 -8 1 -80 32 -64 21 -84 23 -44 21z"/>
<path fill="#4434d0" d="M849 829l-16 2 -24 0 -111 -11 -90 -12 -132 -22 -64 -12 -68 -16 -236 -65 -60 -10 -48 -4 0 -679 1129 0 0 732 -16 4 -72 27 -64 22 -84 24 -44 20z"/>
<path fill="#4537d6" d="M833 828l-40 -1 -117 -16 -72 -12 -113 -23 -59 -15 -62 -17 -178 -60 -64 -19 -68 -14 -60 -4 0 -647 1129 0 0 730 -16 3 -76 29 -68 22 -76 23 -44 18 -16 3z"/>
<path fill="#463adc" d="M841 824l-16 2 -20 -1 -91 -13 -90 -17 -113 -27 -56 -16 -60 -20 -187 -74 -64 -22 -40 -11 -36 -8 -36 -4 -32 -1 0 -612 1129 0 0 728 -19 4 -129 45 -88 27 -36 16 -16 4z"/>
<path fill="#463ee1" d="M845 821l-16 2 -20 0 -76 -13 -93 -20 -116 -31 -56 -18 -54 -21 -194 -90 -68 -28 -40 -13 -40 -9 -36 -5 -36 -2 0 -573 1129 0 0 725 -24 6 -128 45 -84 26 -48 19z"/>
<path fill="#4741e5" d="M833 820l-16 1 -20 -2 -97 -20 -76 -21 -109 -34 -51 -20 -52 -24 -180 -99 -76 -36 -40 -15 -40 -11 -40 -7 -36 -2 0 -530 1129 0 0 723 -28 7 -208 69 -44 18 -16 3z"/>
<path fill="#4745e9" d="M841 816l-16 3 -16 -1 -88 -20 -78 -22 -127 -44 -44 -20 -52 -28 -184 -118 -76 -43 -44 -19 -40 -13 -40 -8 -36 -3 0 -479 3 -1 1126 0 0 721 -12 2 -24 7 -196 65 -56 21z"/>
<path fill="#4848ec" d="M829 816l-16 0 -24 -5 -97 -26 -135 -49 -48 -20 -44 -24 -49 -32 -180 -137 -44 -30 -36 -22 -40 -21 -40 -16 -40 -10 -36 -4 0 -390 16 -3 12 -5 16 -10 12 -12 1073 0 0 718 -16 3 -23 7 -193 65 -48 18 -20 5z"/>
<path fill="#484cef" d="M837 812l-16 3 -18 -3 -45 -12 -51 -16 -55 -20 -100 -41 -47 -23 -43 -28 -52 -40 -182 -165 -44 -37 -40 -31 -44 -29 -36 -19 -32 -10 -32 -4 0 -249 16 -2 16 -6 28 -17 26 -27 23 -36 1020 0 0 716 -20 3 -52 17 -220 76z"/>
<path fill="#4850f2" d="M825 812l-16 -2 -39 -10 -90 -32 -140 -62 -25 -14 -24 -16 -52 -44 -57 -56 -107 -120 -102 -120 -34 -44 -23 -36 -13 -32 -4 -28 1 -24 7 -28 39 -96 16 -48 967 0 0 713 -24 5 -56 17 -204 72 -20 5z"/>
<path fill="#4853f5" d="M833 808l-12 3 -20 -5 -86 -30 -51 -22 -132 -64 -30 -22 -39 -36 -37 -40 -39 -48 -73 -100 -46 -72 -38 -68 -23 -56 -11 -48 -2 -48 4 -52 17 -100 914 0 0 710 -24 5 -60 19 -80 27 -132 47z"/>
<path fill="#4757f7" d="M825 809l-48 -14 -68 -27 -50 -24 -59 -34 -64 -30 -21 -16 -27 -28 -34 -40 -27 -36 -37 -60 -57 -100 -29 -64 -22 -64 -13 -56 -7 -60 0 -60 6 -96 861 0 0 707 -80 22 -76 26 -148 54z"/>
<path fill="#475af9" d="M829 805l-8 2 -21 -7 -79 -32 -57 -29 -60 -38 -48 -21 -15 -8 -14 -12 -14 -16 -35 -44 -21 -32 -29 -52 -31 -68 -22 -44 -13 -36 -13 -48 -15 -72 -9 -68 -3 -56 -2 -124 809 0 0 703 -84 24 -74 25 -142 53z"/>
<path fill="#465efb" d="M833 801l-12 3 -44 -16 -48 -22 -63 -34 -62 -42 -54 -26 -14 -12 -12 -15 -48 -69 -28 -56 -29 -76 -18 -36 -13 -44 -15 -92 -9 -76 -4 -60 -4 -128 773 0 0 701 -84 23 -72 24 -140 53z"/>
<path fill="#4561fc" d="M833 797l-12 1 -20 -5 -34 -13 -41 -20 -49 -28 -61 -44 -47 -28 -17 -13 -17 -19 -24 -32 -22 -36 -19 -36 -19 -44 -35 -92 -14 -52 -13 -72 -9 -80 -4 -64 -5 -120 758 0 0 698 -100 29 -64 21 -132 49z"/>
<path fill="#4465fd" d="M833 793l-8 1 -12 -1 -40 -15 -52 -26 -50 -32 -93 -68 -18 -16 -26 -32 -31 -48 -23 -44 -19 -48 -29 -80 -15 -56 -11 -68 -9 -76 -6 -72 -4 -112 742 0 0 696 -24 6 -72 21 -200 70z"/>
<path fill="#4369fe" d="M837 788l-12 2 -12 -1 -36 -13 -54 -28 -47 -32 -80 -64 -26 -24 -29 -36 -27 -44 -23 -48 -24 -60 -21 -64 -14 -56 -11 -64 -9 -76 -5 -72 -5 -108 727 0 0 694 -24 5 -68 20 -200 69z"/>
<path fill="#406cfe" d="M841 784l-12 2 -12 0 -32 -10 -47 -24 -52 -36 -75 -64 -29 -28 -28 -36 -27 -44 -23 -48 -21 -56 -21 -64 -14 -60 -11 -64 -9 -72 -5 -72 -6 -108 712 0 0 691 -24 5 -68 20 -196 68z"/>
<path fill="#3d70ff" d="M845 780l-24 3 -12 -1 -17 -6 -46 -24 -46 -32 -50 -44 -53 -52 -28 -36 -27 -44 -23 -48 -21 -56 -20 -64 -14 -60 -11 -64 -9 -72 -12 -180 697 0 0 689 -24 4 -68 20 -192 67z"/>
<path fill="#3974fe" d="M829 780l-12 0 -12 -3 -36 -16 -44 -29 -39 -32 -50 -48 -36 -40 -28 -40 -24 -44 -21 -48 -19 -56 -17 -60 -13 -56 -10 -64 -8 -68 -12 -176 681 0 0 686 -24 4 -60 18 -188 65 -28 7z"/>
<path fill="#3678fd" d="M837 776l-12 1 -12 -1 -32 -12 -43 -28 -39 -32 -44 -44 -41 -48 -28 -40 -24 -44 -21 -48 -17 -52 -17 -60 -13 -60 -11 -64 -8 -68 -12 -176 666 0 0 683 -24 4 -64 19 -204 70z"/>
<path fill="#327cfc" d="M841 772l-12 2 -12 0 -24 -8 -43 -26 -39 -32 -39 -40 -43 -52 -30 -44 -23 -44 -21 -48 -17 -52 -16 -60 -13 -60 -10 -64 -8 -68 -13 -176 651 0 0 680 -24 4 -64 19 -200 69z"/>
<path fill="#3080fb" d="M825 772l-12 -1 -12 -5 -33 -18 -36 -28 -33 -32 -38 -44 -32 -44 -26 -44 -22 -44 -16 -44 -16 -52 -14 -56 -12 -60 -17 -128 -13 -172 636 0 0 677 -24 4 -52 16 -200 68 -28 7z"/>
<path fill="#2e83f9" d="M833 768l-12 2 -8 -2 -26 -12 -39 -28 -34 -32 -34 -40 -34 -48 -29 -48 -21 -44 -17 -44 -15 -52 -14 -56 -11 -60 -17 -128 -13 -176 620 0 0 673 -24 5 -60 18 -212 72z"/>
<path fill="#2e87f7" d="M837 765l-16 2 -12 -3 -16 -8 -34 -24 -38 -36 -29 -36 -31 -44 -32 -56 -21 -44 -16 -44 -14 -48 -13 -56 -12 -64 -16 -128 -13 -176 605 0 0 670 -24 5 -64 20 -204 70z"/>
<path fill="#2d8af4" d="M829 764l-8 1 -12 -4 -23 -13 -35 -28 -33 -36 -27 -36 -25 -40 -30 -56 -17 -40 -15 -44 -13 -48 -13 -56 -11 -64 -15 -120 -13 -180 590 0 0 666 -88 26 -212 72z"/>
<path fill="#2d8df2" d="M833 760l-12 3 -30 -15 -29 -24 -31 -32 -24 -32 -20 -32 -38 -72 -16 -36 -16 -48 -12 -48 -21 -108 -17 -132 -13 -184 575 0 0 661 -148 48 -148 51z"/>
<path fill="#2b91ef" d="M833 756l-12 3 -16 -7 -13 -8 -28 -24 -29 -32 -26 -36 -21 -36 -36 -72 -14 -36 -16 -52 -12 -52 -20 -116 -16 -144 -10 -144 565 0 0 658 -88 27 -208 71z"/>
<path fill="#2994ed" d="M829 752l-16 -2 -25 -14 -26 -24 -26 -32 -24 -36 -23 -40 -30 -64 -16 -40 -13 -44 -12 -52 -21 -116 -15 -140 -10 -148 557 0 0 655 -64 19 -204 69 -32 9z"/>
<path fill="#2797eb" d="M845 744l-20 3 -20 -6 -24 -17 -26 -28 -26 -36 -26 -44 -30 -60 -19 -48 -14 -44 -12 -48 -22 -124 -16 -132 -10 -160 549 0 0 652 -20 4 -44 14 -220 74z"/>
<path fill="#269ae8" d="M845 741l-20 2 -20 -6 -23 -17 -21 -24 -25 -36 -28 -48 -29 -60 -19 -48 -13 -44 -12 -48 -22 -120 -15 -132 -11 -160 542 0 0 649 -20 4 -32 9 -232 79z"/>
<path fill="#249de7" d="M849 736l-24 3 -16 -5 -21 -14 -21 -24 -25 -36 -27 -48 -28 -60 -19 -48 -14 -44 -11 -48 -23 -124 -15 -128 -10 -160 534 0 0 646 -20 3 -28 8 -232 79z"/>
<path fill="#23a0e5" d="M849 732l-24 3 -16 -5 -19 -14 -18 -20 -26 -40 -26 -48 -28 -60 -18 -48 -12 -40 -13 -52 -22 -124 -14 -128 -11 -156 527 0 0 642 -20 3 -28 8 -232 79z"/>
<path fill="#21a3e3" d="M829 732l-16 -3 -16 -12 -16 -17 -19 -28 -27 -48 -27 -56 -18 -44 -15 -44 -23 -96 -20 -120 -13 -116 -9 -148 519 0 0 639 -16 2 -24 6 -224 77 -20 6 -16 2z"/>
<path fill="#1fa6e2" d="M837 728l-16 0 -12 -5 -17 -15 -17 -24 -27 -48 -29 -60 -20 -48 -15 -44 -25 -100 -19 -120 -13 -116 -9 -148 511 0 0 635 -20 3 -24 6 -220 76 -28 8z"/>
<path fill="#1da9e0" d="M841 724l-16 2 -12 -4 -16 -14 -14 -20 -24 -44 -33 -68 -20 -48 -15 -44 -24 -100 -20 -124 -13 -116 -9 -144 504 0 0 631 -20 2 -24 7 -244 84z"/>
<path fill="#1aabdd" d="M841 721l-16 2 -10 -3 -13 -12 -14 -20 -25 -48 -35 -76 -18 -44 -12 -36 -23 -100 -21 -124 -13 -116 -8 -144 496 0 0 626 -20 3 -24 7 -244 85z"/>
<path fill="#17aeda" d="M829 720l-8 0 -12 -8 -12 -16 -11 -20 -63 -140 -21 -64 -23 -104 -20 -124 -11 -112 -8 -132 489 0 0 622 -16 2 -24 7 -232 82 -28 7z"/>
<path fill="#13b0d7" d="M837 716l-12 3 -8 -3 -10 -12 -12 -20 -67 -152 -17 -52 -25 -112 -20 -128 -12 -116 -6 -124 481 0 0 617 -16 3 -24 7 -252 89z"/>
<path fill="#0eb3d4" d="M825 717l-5 -1 -10 -12 -15 -28 -65 -156 -17 -60 -24 -120 -17 -108 -11 -120 -6 -112 474 0 0 611 -32 9 -272 97z"/>
<path fill="#07b5d0" d="M829 712l-4 2 -4 -1 -12 -18 -8 -15 -66 -164 -12 -40 -24 -116 -20 -128 -11 -124 -5 -108 466 0 0 605 -300 107z"/>
<path fill="#03b7cc" d="M845 700l-12 2 -12 -4 -8 -8 -8 -13 -66 -161 -11 -40 -24 -116 -20 -128 -11 -120 -5 -112 461 0 0 601 -20 6 -264 93z"/>
<path fill="#01b8c8" d="M849 692l-12 1 -12 -3 -12 -10 -8 -11 -12 -25 -47 -120 -13 -40 -25 -124 -19 -128 -11 -116 -5 -116 456 0 0 597 -26 7 -218 78 -36 10z"/>
<path fill="#02bac4" d="M857 685l-16 1 -12 -2 -12 -7 -12 -15 -9 -18 -45 -116 -13 -40 -23 -108 -18 -120 -13 -120 -7 -140 452 0 0 594 -14 2 -22 7 -200 71 -36 11z"/>
<path fill="#07bcc0" d="M853 680l-16 0 -12 -3 -12 -9 -9 -12 -11 -24 -39 -104 -13 -44 -23 -108 -18 -120 -12 -124 -6 -132 447 0 0 590 -16 2 -20 6 -200 71 -40 11z"/>
<path fill="#0ebdbb" d="M865 673l-20 2 -16 -2 -12 -6 -10 -11 -17 -40 -44 -124 -23 -112 -18 -116 -12 -128 -6 -136 442 0 0 585 -20 3 -24 7 -180 65 -40 13z"/>
<path fill="#16bfb7" d="M861 669l-16 2 -16 -2 -12 -7 -10 -10 -20 -52 -29 -80 -9 -32 -23 -112 -16 -112 -13 -132 -6 -132 438 0 0 581 -20 3 -24 6 -184 66 -40 13z"/>
<path fill="#1ec0b2" d="M861 664l-16 2 -16 -1 -12 -6 -8 -10 -21 -53 -26 -76 -9 -32 -23 -112 -16 -112 -12 -132 -6 -132 433 0 0 576 -20 3 -28 8 -180 65 -40 12z"/>
<path fill="#24c2ae" d="M857 660l-16 2 -12 -1 -12 -5 -7 -8 -11 -28 -29 -84 -15 -52 -22 -108 -14 -108 -13 -136 -6 -132 429 0 0 571 -20 3 -28 7 -184 67 -40 12z"/>
<path fill="#29c3a9" d="M857 656l-16 3 -12 -1 -8 -2 -8 -8 -23 -60 -22 -68 -9 -36 -22 -108 -13 -100 -13 -144 -6 -132 424 0 0 566 -20 2 -28 8 -184 67 -40 13z"/>
<path fill="#2ec4a5" d="M853 653l-16 2 -12 0 -4 -1 -6 -6 -14 -36 -26 -80 -14 -52 -20 -104 -13 -96 -13 -148 -5 -132 419 0 0 560 -20 3 -28 8 -188 69 -40 13z"/>
<path fill="#31c6a0" d="M837 652l-12 1 -8 -5 -10 -24 -37 -120 -23 -116 -13 -96 -10 -96 -5 -84 -5 -112 415 0 0 554 -20 3 -24 7 -205 76 -43 12z"/>
<path fill="#35c79a" d="M841 648l-12 2 -8 0 -7 -14 -39 -128 -25 -120 -13 -100 -9 -96 -5 -80 -4 -112 410 0 0 548 -16 2 -28 9 -204 76 -40 13z"/>
<path fill="#39c895" d="M829 648l-9 0 -38 -124 -9 -36 -20 -104 -12 -96 -8 -96 -5 -68 -4 -124 405 0 0 540 -40 12 -260 96z"/>
<path fill="#3eca8f" d="M829 644l-4 2 -4 -6 -36 -116 -8 -32 -21 -112 -10 -80 -8 -96 -7 -108 -3 -96 401 0 0 531 -300 113z"/>
<path fill="#44cb89" d="M853 624l-12 0 -8 -2 -8 -6 -8 -11 -18 -41 -20 -76 -20 -108 -11 -92 -12 -160 -5 -128 398 0 0 527 -30 9 -190 72 -32 10 -24 6z"/>
<path fill="#4ccb83" d="M869 612l-16 1 -12 -1 -12 -7 -8 -8 -12 -18 -7 -15 -17 -64 -23 -120 -11 -92 -12 -160 -5 -128 395 0 0 523 -16 2 -20 7 -164 62 -60 18z"/>
<path fill="#54cc7d" d="M869 604l-16 1 -12 -3 -12 -6 -12 -12 -8 -12 -7 -16 -15 -56 -22 -120 -11 -88 -13 -168 -4 -124 392 0 0 518 -16 2 -24 7 -160 60 -36 12 -24 5z"/>
<path fill="#5ccc76" d="M873 596l-16 1 -16 -3 -12 -6 -12 -11 -13 -21 -13 -52 -23 -124 -11 -80 -13 -176 -4 -124 389 0 0 512 -20 3 -24 7 -156 59 -32 10 -24 5z"/>
<path fill="#64cd6f" d="M881 588l-16 2 -16 -1 -16 -5 -12 -8 -8 -9 -7 -11 -10 -40 -24 -132 -11 -76 -14 -184 -4 -124 386 0 0 506 -20 3 -28 7 -148 57 -52 15z"/>
<path fill="#6dcd68" d="M865 584l-16 -1 -16 -4 -12 -7 -8 -8 -7 -16 -12 -56 -21 -120 -10 -72 -13 -180 -4 -120 383 0 0 500 -20 2 -28 8 -160 61 -32 9 -24 4z"/>
<path fill="#76cc61" d="M877 577l-28 1 -20 -5 -8 -5 -8 -8 -6 -16 -16 -80 -24 -152 -14 -192 -5 -120 381 0 0 494 -24 3 -28 7 -148 58 -28 9 -24 6z"/>
<path fill="#7fcc5a" d="M869 572l-24 0 -20 -5 -10 -7 -5 -16 -17 -84 -24 -152 -13 -188 -5 -120 378 0 0 487 -24 3 -28 7 -156 61 -28 9 -24 5z"/>
<path fill="#88cb53" d="M849 568l-24 -4 -4 -2 -6 -6 -23 -116 -16 -100 -5 -44 -12 -180 -5 -116 375 0 0 480 -28 3 -32 10 -168 66 -28 7 -24 2z"/>
<path fill="#91ca4c" d="M873 560l-24 3 -20 0 -8 -3 -6 -8 -20 -112 -20 -132 -13 -192 -5 -116 372 0 0 472 -24 3 -32 9 -152 62 -48 14z"/>
<path fill="#9ac945" d="M865 556l-40 4 -4 -2 -4 -6 -2 -24 -13 -64 -25 -160 -12 -188 -5 -116 369 0 0 464 -24 3 -28 8 -164 68 -24 8 -24 5z"/>
<path fill="#a3c83f" d="M837 556l-12 2 -4 -1 -3 -5 -1 -28 -13 -60 -22 -144 -14 -204 -5 -116 366 0 0 454 -24 5 -36 12 -172 72 -28 7 -32 6z"/>
<path fill="#acc738" d="M825 556l-4 -2 -1 -2 -3 -32 -10 -56 -24 -160 -13 -192 -4 -112 363 0 0 444 -20 4 -44 16 -168 73 -72 19z"/>
<path fill="#b4c533" d="M825 552l-3 -4 -12 -80 -25 -164 -12 -188 -5 -116 361 0 0 430 -68 27 -168 75 -68 20z"/>
<path fill="#bdc42f" d="M825 548l-15 -84 -22 -160 -13 -192 -5 -112 359 0 0 422 -76 28 -160 70 -68 28z"/>
<path fill="#c4c22a" d="M829 541l-4 2 -6 -31 -29 -208 -13 -192 -5 -112 357 0 0 414 -58 18 -61 24 -85 37 -96 48z"/>
<path fill="#ccc028" d="M825 537l-33 -237 -13 -188 -5 -112 355 0 0 406 -32 8 -36 11 -100 40 -80 38 -40 23 -16 11z"/>
<path fill="#d3bf27" d="M825 530l-5 -22 -26 -208 -13 -188 -5 -112 353 0 0 398 -36 7 -36 10 -104 40 -40 19 -32 17 -36 23 -20 16z"/>
<path fill="#dabd28" d="M825 520l-4 -19 -24 -201 -13 -188 -6 -112 351 0 0 391 -36 4 -36 9 -112 42 -32 15 -32 18 -24 16 -32 25z"/>
<path fill="#e1bc2b" d="M825 510l-4 -20 -22 -194 -13 -184 -6 -112 349 0 0 383 -36 2 -36 8 -116 42 -32 15 -32 18 -24 17 -28 25z"/>
<path fill="#e7bb2e" d="M825 501l-24 -209 -13 -180 -6 -112 347 0 0 375 -40 1 -32 6 -128 45 -32 15 -32 20 -24 20 -16 19z"/>
<path fill="#edba33" d="M825 484l-22 -196 -13 -176 -6 -112 345 0 0 367 -36 -2 -36 5 -128 43 -32 14 -28 17 -26 20 -18 20z"/>
<path fill="#f2ba38" d="M825 465l-4 -24 -16 -157 -13 -172 -6 -112 343 0 0 359 -36 -6 -32 3 -28 8 -48 19 -59 17 -28 12 -25 14 -28 20 -20 19z"/>
<path fill="#f8ba3d" d="M825 446l-4 -22 -14 -148 -13 -168 -6 -108 341 0 0 351 -20 -7 -20 -3 -24 1 -24 6 -56 24 -56 13 -32 12 -36 20 -36 29z"/>
<path fill="#fcbc3d" d="M829 424l-4 3 -5 -31 -23 -272 -7 -124 339 0 0 343 -12 -10 -20 -6 -24 -1 -24 4 -28 11 -40 23 -48 6 -40 12 -32 17 -32 25z"/>
<path fill="#febf3b" d="M825 409l-4 -25 -12 -132 -11 -144 -6 -108 337 0 0 320 -16 -7 -20 -4 -24 1 -24 5 -20 7 -16 9 -12 9 -11 12 -9 5 -24 -3 -16 0 -24 4 -28 10 -32 17 -28 24z"/>
<path fill="#fec339" d="M825 386l-4 -29 -17 -201 -10 -156 335 0 0 291 -24 -2 -20 1 -24 3 -20 5 -28 11 -24 15 -10 12 2 12 -4 4 -7 -4 -4 -8 -9 -3 -20 0 -24 4 -28 8 -24 10 -20 13 -16 14z"/>
<path fill="#fec636" d="M825 357l-4 -27 -15 -174 -10 -156 333 0 0 262 -48 6 -40 10 -28 10 -52 25 -60 12 -32 10 -24 10 -20 12zM977 349l0 -2 0 2z"/>
<path fill="#feca33" d="M825 329l-4 -26 -13 -147 -10 -156 331 0 0 233 -60 14 -36 11 -28 12 -56 26 -72 15 -52 18z"/>
<path fill="#fdce31" d="M829 300l-4 1 -4 -23 -15 -166 -7 -112 330 0 0 204 -76 24 -36 13 -32 15 -44 26 -52 5 -60 13z"/>
<path fill="#fbd22f" d="M825 277l-4 -23 -9 -98 -11 -156 328 0 0 176 -104 37 -44 19 -20 11 -12 9 -6 8 -1 8 -5 5 -16 -10 -16 -1 -28 4 -52 11z"/>
<path fill="#fad62d" d="M829 252l-4 1 -5 -25 -11 -132 -6 -96 326 0 0 147 -124 48 -80 35 -96 22z"/>
<path fill="#f8da2b" d="M829 228l-4 1 -4 -24 -16 -205 324 0 0 119 -48 21 -84 31 -76 31 -32 11 -60 15z"/>
<path fill="#f6de29" d="M829 204l-4 1 -4 -23 -14 -182 322 0 0 90 -64 30 -80 27 -68 30 -88 27z"/>
<path fill="#f5e227" d="M829 181l-4 1 -4 -25 -12 -157 320 0 0 62 -42 22 -42 19 -40 13 -28 5 -28 16 -28 12 -92 32z"/>
<path fill="#f5e626" d="M829 157l-4 1 -4 -25 -10 -133 318 0 0 34 -44 25 -60 27 -56 19 -80 31 -60 21z"/>
<path fill="#f5ea24" d="M829 133l-4 1 -4 -25 -8 -109 316 0 0 5 -28 19 -36 20 -33 16 -40 16 -163 57z"/>
<path fill="#f5ee21" d="M829 109l-4 1 -4 -26 -6 -84 281 0 -47 28 -48 23 -44 16 -60 18 -68 24z"/>
<path fill="#f6f21e" d="M829 84l-4 2 -4 -27 -4 -59 239 0 -39 22 -40 17 -40 13 -44 10 -64 22z"/>
<path fill="#f7f51b" d="M825 61l-4 -28 -2 -33 198 0 -32 16 -28 11 -80 18 -52 16z"/>
<path fill="#f8f917" d="M833 33l-8 3 -4 -36 156 0 -32 12 -76 11 -36 10z"/>
</g>
<clipPath id="clg"><rect x="1031.8" y="1165.8" width="564.4" height="423.9"/></clipPath>
<g clip-path="url(#clg)"><path d="M1032 1536 1085.8 1547.4 1140.6 1559.6M1154.4 1562 1186 1566.8 1215.9 1570.1 1263.8 1573.9 1305.8 1576.2M1319.7 1577.8 1329.6 1578.9 1348.6 1580.2 1444.6 1584.5 1457.6 1583.9 1471.8 1576.5M1484.8 1571.5 1514.9 1564 1553.8 1551 1595.5 1533.9M1206.5 1165 1207.3 1215M1207.8 1229 1209.4 1252.9 1212.5 1284.8 1215.5 1307.6 1219.8 1333.2 1223.1 1349.9 1226.8 1363.4 1229 1369 1234.2 1377.5M1240.1 1390.1 1245.5 1406.3 1248.4 1413.7 1254.8 1428.4 1261 1440.9 1265.9 1449.6 1271.8 1458.9 1291 1485.8 1297.9 1494.3 1303.9 1499.6 1311.9 1503.8 1327.7 1510.1M1340 1516.7 1362.2 1532 1374.3 1539 1386.7 1545.5 1401.2 1552.4 1415.8 1558.8 1428.9 1563.8 1443.1 1568.6 1478.7 1555.4M1491.8 1550.4 1515.2 1541.6 1554.1 1528.7 1595.5 1516.8M1312 1165 1313.2 1194 1315.5 1229 1317.3 1251.9 1320 1277.8M1322.4 1297.7 1325.7 1321.5 1329.6 1345.2 1333.5 1365.8 1337.9 1385.4 1342.5 1402.8 1347.3 1418.1 1351.5 1429.4 1357.3 1442.1M1366.2 1460 1378.5 1483 1385.5 1494 1392.4 1503.8 1399.2 1512.4 1407.2 1521.4 1415.1 1529 1422.8 1535.5 1428.4 1539.6 1433.5 1542.8 1442.7 1546.8 1443.6 1546.9 1466.4 1539M1485.3 1532.5 1515.5 1521.9 1553.5 1509.2 1595.5 1495.9M1363.8 1165 1365 1199 1367 1233.9M1368.8 1253.9 1373.3 1291.6 1378.1 1324.3 1384.6 1360.7 1392.7 1398.9M1397.8 1418.2 1400.9 1426.7 1409.8 1447.9 1432.3 1504.6 1437.3 1514.4 1443.1 1522.6 1473 1511.6M1491.8 1504.7 1554.1 1482.8 1595.5 1467.7M1395.7 1165 1396.4 1196M1397.2 1216 1400.7 1269.9 1403.8 1306.7 1407.7 1341.5 1409.9 1356.4 1411.6 1365.2M1415.4 1384.8 1419.7 1408.4 1423.1 1423.1 1433.7 1459.6 1443.1 1489.1 1475.8 1477M1494.5 1470 1595.5 1431.7M1415.7 1165 1417.9 1219 1421.5 1273 1423.1 1304.1M1424.8 1324 1443.1 1441.8 1443.5 1442.4 1467.7 1435.9M1486.6 1429.3 1523.4 1413.3 1563.6 1395.2 1596.2 1382.4" fill="none" stroke="#000" stroke-width="1.1" stroke-linejoin="round"/><g font-family="Liberation Sans, Arial, sans-serif" font-size="9.5" text-anchor="middle" fill="#000" fill-opacity="0.82"><text transform="translate(1147.4,1560.9) rotate(9.9)" y="3.4">10</text><text transform="translate(1312.7,1576.8) rotate(6)" y="3.4">10</text><text transform="translate(1478,1573.3) rotate(-21.4)" y="3.4">10</text><text transform="translate(1207.5,1222) rotate(88.3)" y="3.4">60</text><text transform="translate(1237.5,1383.6) rotate(65.6)" y="3.4">60</text><text transform="translate(1334,1513.1) rotate(28.4)" y="3.4">60</text><text transform="translate(1485.3,1552.9) rotate(-20.6)" y="3.4">60</text><text transform="translate(1321.2,1287.7) rotate(83.2)" y="3.4">110</text><text transform="translate(1361.8,1451.1) rotate(63.7)" y="3.4">110</text><text transform="translate(1475.8,1535.8) rotate(-19.2)" y="3.4">110</text><text transform="translate(1367.8,1243.9) rotate(85)" y="3.4">160</text><text transform="translate(1395,1408.6) rotate(75.5)" y="3.4">160</text><text transform="translate(1482.4,1508.1) rotate(-20.2)" y="3.4">160</text><text transform="translate(1396.8,1206) rotate(88)" y="3.4">210</text><text transform="translate(1413.6,1375) rotate(78.8)" y="3.4">210</text><text transform="translate(1485.1,1473.5) rotate(-20.4)" y="3.4">210</text><text transform="translate(1423.7,1314.1) rotate(85.4)" y="3.4">260</text><text transform="translate(1477.4,1433.3) rotate(-19.1)" y="3.4">260</text></g></g>
<path d="M1137.6 1589.7v-5.5 M1137.6 1165.8v5.5 M1314 1589.7v-5.5 M1314 1165.8v5.5 M1490.4 1589.7v-5.5 M1490.4 1165.8v5.5 M1031.8 1519h5.5 M1596.2 1519h-5.5 M1031.8 1448.4h5.5 M1596.2 1448.4h-5.5 M1031.8 1377.8h5.5 M1596.2 1377.8h-5.5 M1031.8 1307.1h5.5 M1596.2 1307.1h-5.5 M1031.8 1236.5h5.5 M1596.2 1236.5h-5.5" stroke="#262626" stroke-width="1.1" fill="none"/>
<rect x="1031.8" y="1165.8" width="564.4" height="423.9" fill="none" stroke="#262626" stroke-width="2.4"/>
<g font-family="Liberation Serif, Times New Roman, serif" font-size="29.3" fill="#262626"><text x="1136.6" y="1622.9" text-anchor="middle">0.0115</text><text x="1313" y="1622.9" text-anchor="middle">0.012</text><text x="1489.4" y="1622.9" text-anchor="middle">0.0125</text><text x="1022.3" y="1599.9" text-anchor="end">0</text><text x="1022.3" y="1529.2" text-anchor="end">5</text><text x="1022.3" y="1458.6" text-anchor="end">10</text><text x="1022.3" y="1388" text-anchor="end">15</text><text x="1022.3" y="1317.3" text-anchor="end">20</text><text x="1022.3" y="1246.7" text-anchor="end">25</text><text x="1022.3" y="1176" text-anchor="end">30</text></g>
<rect x="1604.4" y="1165.8" width="18.8" height="423.9" fill="url(#pg)" stroke="#262626" stroke-width="1.8"/>
<path d="M1604.4 1531.2h3 M1623.2 1531.2h-3 M1604.4 1472.8h3 M1623.2 1472.8h-3 M1604.4 1414.3h3 M1623.2 1414.3h-3 M1604.4 1355.8h3 M1623.2 1355.8h-3 M1604.4 1297.4h3 M1623.2 1297.4h-3 M1604.4 1238.9h3 M1623.2 1238.9h-3 M1604.4 1180.4h3 M1623.2 1180.4h-3" stroke="#262626" stroke-width="1" fill="none"/>
<g font-family="Liberation Serif, Times New Roman, serif" font-size="29.3" fill="#262626"><text x="1630.7" y="1599.9">0</text><text x="1630.7" y="1541.4">50</text><text x="1630.7" y="1483">100</text><text x="1630.7" y="1424.5">150</text><text x="1630.7" y="1366">200</text><text x="1630.7" y="1307.6">250</text><text x="1630.7" y="1249.1">300</text><text x="1630.7" y="1190.6">350</text></g>
<g transform="translate(1031.8,1685.6) scale(0.5)">
<rect width="1129" height="848" fill="#3e28ac"/>
<path fill="#402ab4" d="M817 828l-64 -2 -81 -6 -100 -14 -184 -21 -256 -37 -68 -7 -64 -2 0 -739 1129 0 0 730 -16 2 -24 8 -240 80 -32 8z"/>
<path fill="#412dbb" d="M833 809l-12 2 -32 0 -80 -9 -57 -10 -164 -35 -60 -15 -61 -18 -199 -70 -60 -20 -56 -13 -52 -5 0 -616 1129 0 0 711 -16 3 -24 7 -256 88z"/>
<path fill="#422fc2" d="M833 796l-12 3 -32 -2 -85 -15 -52 -14 -103 -32 -79 -28 -64 -28 -70 -36 -97 -56 -115 -71 -44 -24 -47 -21 -17 -5 -16 -2 0 -465 1129 0 0 692 -296 104z"/>
<path fill="#4332c9" d="M833 789l-12 2 -32 -4 -35 -7 -41 -12 -69 -26 -91 -42 -89 -48 -76 -48 -79 -56 -137 -103 -52 -35 -32 -17 -28 -10 -32 -8 -28 -2 0 -373 1129 0 0 684 -20 6 -276 99z"/>
<path fill="#4434d0" d="M825 785l-44 -9 -52 -19 -65 -29 -52 -30 -48 -33 -112 -83 -69 -58 -81 -76 -43 -44 -28 -32 -131 -166 -28 -32 -16 -15 -20 -13 -20 -8 -16 -2 0 -136 1129 0 0 674 -304 111z"/>
<path fill="#4537d6" d="M829 776l-12 1 -22 -5 -52 -20 -53 -28 -48 -32 -60 -48 -100 -88 -62 -60 -60 -64 -48 -56 -39 -52 -42 -64 -39 -68 -30 -60 -19 -48 -12 -44 -4 -40 1002 0 0 667 -300 109z"/>
<path fill="#463adc" d="M833 768l-12 3 -32 -10 -28 -12 -45 -25 -43 -32 -52 -48 -95 -96 -51 -56 -48 -56 -48 -60 -32 -44 -28 -44 -29 -52 -35 -72 -31 -76 -18 -52 -5 -36 928 0 0 660 -296 108z"/>
<path fill="#463ee1" d="M825 764l-8 -1 -24 -9 -40 -21 -37 -25 -37 -32 -31 -32 -42 -48 -89 -108 -58 -76 -69 -100 -24 -44 -24 -48 -31 -72 -26 -68 -14 -48 -4 -32 862 0 0 652 -304 112z"/>
<path fill="#4741e5" d="M829 756l-8 1 -12 -4 -27 -13 -20 -12 -37 -28 -39 -36 -32 -36 -31 -40 -115 -164 -66 -104 -18 -32 -19 -40 -42 -100 -24 -64 -14 -48 -5 -36 809 0 0 646 -300 110z"/>
<path fill="#4745e9" d="M833 748l-8 4 -4 -1 -24 -12 -28 -18 -32 -25 -32 -32 -25 -28 -25 -32 -29 -44 -41 -72 -46 -72 -76 -132 -76 -196 -18 -56 -9 -32 769 0 0 638 -296 110z"/>
<path fill="#4848ec" d="M829 744l-12 -1 -34 -19 -25 -20 -28 -28 -27 -32 -30 -40 -59 -92 -75 -136 -37 -72 -19 -40 -69 -192 -12 -44 -3 -28 730 0 0 633 -300 111z"/>
<path fill="#484cef" d="M825 740l-4 0 -16 -9 -24 -16 -21 -19 -22 -24 -48 -68 -72 -112 -72 -148 -40 -92 -21 -60 -33 -100 -19 -64 -6 -28 702 0 0 626 -304 114z"/>
<path fill="#4850f2" d="M825 732l-14 -4 -26 -18 -20 -19 -24 -27 -51 -76 -62 -104 -63 -140 -39 -100 -24 -72 -33 -108 -10 -40 -4 -24 674 0 0 619 -304 113z"/>
<path fill="#4853f5" d="M833 724l-12 2 -24 -15 -27 -23 -25 -29 -23 -31 -29 -48 -47 -88 -59 -136 -36 -96 -23 -72 -35 -124 -11 -40 -4 -24 651 0 0 613 -296 111z"/>
<path fill="#4757f7" d="M837 716l-12 3 -12 -5 -30 -22 -26 -28 -20 -28 -16 -24 -50 -96 -64 -152 -32 -88 -30 -96 -39 -148 -7 -32 630 0 0 606 -292 110z"/>
<path fill="#475af9" d="M829 712l-4 0 -8 -2 -18 -14 -21 -20 -19 -24 -25 -44 -57 -116 -54 -136 -51 -144 -16 -56 -24 -88 -10 -44 -4 -24 611 0 0 600 -300 112z"/>
<path fill="#465efb" d="M825 708l-4 -2 -29 -26 -25 -32 -16 -32 -64 -140 -36 -96 -69 -192 -23 -80 -26 -108 596 0 0 592 -304 116z"/>
<path fill="#4561fc" d="M833 696l-8 2 -12 -6 -22 -24 -17 -24 -18 -36 -59 -136 -35 -92 -71 -204 -27 -104 -10 -48 -3 -24 578 0 0 586 -296 110z"/>
<path fill="#4465fd" d="M825 692l-8 -4 -24 -28 -22 -36 -38 -88 -54 -136 -79 -236 -22 -92 -12 -72 563 0 0 580 -304 112z"/>
<path fill="#4369fe" d="M837 680l-12 3 -8 -5 -21 -26 -15 -24 -37 -84 -46 -120 -30 -88 -55 -172 -19 -80 -15 -84 550 0 0 573 -292 107z"/>
<path fill="#406cfe" d="M837 673l-12 3 -8 -4 -26 -40 -25 -52 -39 -100 -68 -204 -29 -96 -21 -84 -17 -96 537 0 0 568 -292 105z"/>
<path fill="#3d70ff" d="M829 668l-4 2 -4 -4 -35 -58 -28 -64 -28 -76 -30 -102 -31 -90 -28 -96 -20 -84 -16 -96 524 0 0 561 -300 107z"/>
<path fill="#3974fe" d="M825 656l-16 -22 -18 -30 -37 -84 -15 -44 -31 -104 -34 -100 -27 -92 -16 -68 -11 -64 -2 -48 511 0 0 554 -228 78 -76 24z"/>
<path fill="#3678fd" d="M837 640l-12 2 -4 -4 -18 -26 -30 -60 -23 -60 -31 -104 -43 -128 -30 -108 -11 -52 -6 -44 -1 -32 3 -24 498 0 0 546 -224 75 -68 19z"/>
<path fill="#327cfc" d="M841 628l-16 3 -4 -4 -23 -35 -25 -52 -17 -44 -12 -48 -15 -52 -44 -124 -28 -100 -17 -80 -4 -32 -1 -24 3 -20 4 -12 2 -4 485 0 0 539 -220 71 -68 18z"/>
<path fill="#3080fb" d="M825 620l-11 -12 -16 -28 -31 -68 -8 -24 -6 -36 -11 -36 -43 -116 -19 -60 -22 -84 -12 -64 -3 -48 1 -16 4 -16 9 -12 472 0 0 532 -228 70 -76 18z"/>
<path fill="#2e83f9" d="M833 609l-8 1 -8 -10 -23 -40 -20 -44 -10 -28 -2 -16 -1 -16 -11 -36 -41 -108 -21 -64 -23 -88 -13 -68 -3 -48 2 -16 6 -16 9 -12 463 0 0 525 -224 66 -72 18z"/>
<path fill="#2e87f7" d="M825 600l-7 -8 -17 -31 -25 -53 -8 -28 -1 -12 2 -8 -4 -19 -16 -45 -38 -92 -23 -76 -20 -80 -11 -64 -1 -44 3 -16 5 -12 6 -12 459 0 0 518 -140 38 -88 26 -76 18z"/>
<path fill="#2d8af4" d="M833 588l-8 1 -4 -3 -24 -44 -16 -34 -9 -28 -1 -28 -6 -33 -12 -31 -33 -76 -28 -88 -20 -84 -9 -64 0 -40 4 -16 7 -20 455 0 0 511 -148 38 -80 24 -68 15z"/>
<path fill="#2d8df2" d="M841 576l-16 3 -4 -4 -34 -63 -10 -32 -8 -68 -4 -15 -37 -77 -26 -80 -22 -88 -11 -68 0 -44 2 -16 8 -24 450 0 0 503 -152 37 -28 10 -48 13 -60 13z"/>
<path fill="#2b91ef" d="M829 568l-4 1 -4 -4 -21 -37 -12 -28 -8 -28 -13 -88 -21 -36 -16 -36 -15 -44 -15 -52 -17 -76 -8 -60 0 -40 8 -40 446 0 0 496 -152 36 -80 23 -68 13z"/>
<path fill="#2994ed" d="M845 556l-20 3 -16 -26 -15 -29 -10 -32 -15 -97 -16 -27 -14 -28 -25 -72 -20 -84 -12 -72 -2 -48 7 -44 442 0 0 489 -152 34 -80 23 -52 10z"/>
<path fill="#2797eb" d="M829 548l-4 0 -8 -11 -13 -21 -10 -24 -7 -24 -18 -103 -17 -29 -13 -28 -14 -40 -13 -48 -17 -76 -9 -60 -1 -40 6 -44 438 0 0 482 -152 33 -88 23 -60 10z"/>
<path fill="#269ae8" d="M853 536l-28 2 -11 -14 -12 -24 -12 -36 -21 -108 -23 -44 -19 -56 -20 -80 -13 -76 -3 -52 4 -48 434 0 0 475 -64 12 -88 20 -76 20 -48 9z"/>
<path fill="#249de7" d="M845 528l-20 2 -11 -14 -11 -24 -10 -32 -24 -113 -21 -43 -20 -60 -17 -76 -12 -72 -3 -48 3 -48 430 0 0 468 -60 10 -92 21 -80 20 -52 9z"/>
<path fill="#23a0e5" d="M841 520l-16 2 -10 -14 -11 -24 -11 -36 -24 -111 -18 -37 -20 -64 -16 -72 -11 -68 -3 -44 2 -52 426 0 0 461 -60 9 -92 20 -80 20 -56 10z"/>
<path fill="#21a3e3" d="M837 512l-12 2 -4 -5 -16 -34 -11 -35 -25 -112 -15 -32 -20 -68 -15 -72 -10 -64 -3 -44 2 -48 421 0 0 452 -64 11 -172 39 -56 10z"/>
<path fill="#1fa6e2" d="M833 504l-8 1 -4 -4 -16 -37 -36 -146 -11 -26 -20 -68 -14 -68 -9 -64 -4 -44 1 -48 417 0 0 444 -68 12 -168 38 -60 10z"/>
<path fill="#1da9e0" d="M833 496l-8 1 -4 -5 -16 -36 -36 -147 -26 -85 -13 -68 -10 -64 -4 -44 1 -48 412 0 0 436 -76 14 -160 35 -60 11z"/>
<path fill="#1aabdd" d="M829 488l-4 1 -4 -5 -16 -42 -59 -226 -13 -72 -9 -60 -3 -40 0 -44 408 0 0 428 -84 15 -152 34 -64 11z"/>
<path fill="#17aeda" d="M829 480l-4 1 -4 -6 -16 -43 -53 -212 -23 -136 -3 -44 -1 -40 404 0 0 419 -108 21 -128 28 -64 12z"/>
<path fill="#13b0d7" d="M829 472l-4 1 -4 -6 -16 -46 -30 -117 -6 -38 -12 -46 -23 -140 -4 -44 0 -36 399 0 0 411 -300 61z"/>
<path fill="#0eb3d4" d="M825 464l-7 -12 -11 -32 -32 -124 -35 -208 -5 -48 -1 -40 395 0 0 403 -304 61z"/>
<path fill="#07b5d0" d="M825 456l-5 -8 -11 -33 -32 -123 -33 -216 -5 -44 -1 -32 391 0 0 394 -152 30 -76 17 -76 15z"/>
<path fill="#03b7cc" d="M825 448l-5 -8 -11 -35 -31 -117 -13 -110 -18 -118 -5 -60 387 0 0 386 -152 30 -76 17 -76 15z"/>
<path fill="#01b8c8" d="M845 436l-20 4 -4 -7 -12 -38 -26 -95 -10 -64 -8 -92 -15 -92 -4 -52 383 0 0 378 -152 30 -132 28z"/>
<path fill="#02bac4" d="M841 429l-16 3 -4 -7 -13 -41 -24 -92 -11 -68 -5 -80 -14 -104 -4 -40 379 0 0 370 -152 29 -136 30z"/>
<path fill="#07bcc0" d="M841 420l-16 3 -4 -7 -36 -131 -11 -65 -5 -104 -15 -116 375 0 0 361 -152 30 -136 29z"/>
<path fill="#0ebdbb" d="M841 412l-16 3 -4 -7 -22 -76 -13 -52 -10 -60 -7 -134 -11 -86 371 0 0 353 -152 30 -56 13 -80 16z"/>
<path fill="#16bfb7" d="M841 404l-16 3 -4 -8 -24 -83 -11 -44 -9 -60 -8 -153 -8 -59 368 0 0 345 -288 59z"/>
<path fill="#1ec0b2" d="M837 397l-12 2 -4 -8 -25 -87 -10 -44 -8 -64 -9 -164 -4 -32 364 0 0 337 -292 60z"/>
<path fill="#24c2ae" d="M837 388l-12 3 -4 -8 -24 -83 -10 -44 -9 -72 -11 -184 362 0 0 328 -292 60z"/>
<path fill="#29c3a9" d="M837 380l-12 2 -4 -8 -24 -82 -9 -44 -9 -80 -10 -168 360 0 0 320 -212 45 -80 15z"/>
<path fill="#2ec4a5" d="M837 372l-12 2 -4 -8 -22 -78 -10 -44 -9 -84 -9 -160 358 0 0 312 -208 44 -84 16z"/>
<path fill="#31c6a0" d="M833 364l-8 2 -4 -9 -22 -77 -9 -44 -10 -96 -7 -140 356 0 0 303 -200 44 -96 17z"/>
<path fill="#35c79a" d="M833 356l-8 2 -4 -9 -21 -73 -9 -44 -11 -108 -5 -92 0 -32 354 0 0 295 -192 42 -104 19z"/>
<path fill="#39c895" d="M833 348l-8 1 -4 -8 -20 -69 -9 -44 -7 -56 -6 -84 -4 -68 2 -20 352 0 0 287 -156 35 -140 26z"/>
<path fill="#3eca8f" d="M833 340l-8 1 -4 -9 -19 -64 -9 -44 -7 -64 -7 -96 -2 -48 2 -16 350 0 0 279 -156 36 -84 16 -56 9z"/>
<path fill="#44cb89" d="M829 332l-4 1 -4 -9 -12 -40 -10 -36 -6 -36 -7 -68 -7 -100 -1 -32 3 -12 348 0 0 270 -156 37 -88 17 -56 8z"/>
<path fill="#4ccb83" d="M829 324l-4 1 -4 -9 -11 -36 -9 -36 -7 -36 -7 -68 -7 -96 -1 -32 4 -12 346 0 0 262 -156 37 -92 18 -52 7z"/>
<path fill="#54cc7d" d="M829 316l-4 0 -4 -8 -10 -32 -9 -32 -6 -40 -8 -68 -7 -96 -1 -28 4 -12 345 0 0 254 -156 38 -96 18 -48 6z"/>
<path fill="#5ccc76" d="M833 308l-8 0 -7 -16 -12 -40 -7 -40 -9 -68 -7 -96 -1 -36 3 -12 344 0 0 245 -152 38 -100 19 -44 6z"/>
<path fill="#64cd6f" d="M841 300l-16 0 -4 -7 -11 -33 -7 -32 -9 -64 -8 -92 -3 -52 0 -12 3 -8 343 0 0 237 -152 38 -100 20 -36 5z"/>
<path fill="#6dcd68" d="M849 292l-24 2 -8 -18 -10 -36 -9 -56 -8 -80 -6 -80 3 -24 342 0 0 229 -76 18 -76 21 -128 24z"/>
<path fill="#76cc61" d="M853 284l-28 4 -6 -12 -9 -32 -10 -56 -8 -72 -7 -88 0 -16 2 -12 342 0 0 221 -80 19 -72 20 -124 24z"/>
<path fill="#7fcc5a" d="M833 280l-8 1 -4 -7 -9 -30 -8 -40 -8 -60 -7 -80 -3 -44 2 -20 341 0 0 212 -72 17 -84 24 -140 27z"/>
<path fill="#88cb53" d="M841 273l-16 2 -8 -19 -8 -32 -8 -56 -8 -68 -5 -72 1 -28 340 0 0 204 -72 17 -84 24 -132 28z"/>
<path fill="#91ca4c" d="M829 268l-4 1 -7 -17 -14 -72 -13 -124 -3 -36 1 -20 340 0 0 196 -68 15 -88 25 -144 32z"/>
<path fill="#9ac945" d="M837 260l-12 3 -2 -3 -6 -16 -7 -36 -8 -52 -7 -64 -5 -64 0 -28 339 0 0 188 -56 11 -96 28 -140 33z"/>
<path fill="#a3c83f" d="M825 257l-4 -8 -5 -21 -13 -76 -11 -104 -1 -48 338 0 0 179 -60 13 -92 27 -80 18 -72 20z"/>
<path fill="#acc738" d="M833 248l-8 3 -4 -9 -11 -54 -13 -104 -5 -56 0 -28 337 0 0 171 -64 13 -88 26 -84 21 -60 17z"/>
<path fill="#b4c533" d="M825 244l-4 -9 -5 -23 -11 -68 -10 -92 -3 -52 337 0 0 163 -32 5 -36 8 -84 26 -108 27 -44 15z"/>
<path fill="#bdc42f" d="M825 238l-9 -34 -10 -64 -9 -84 -4 -56 336 0 0 154 -32 5 -36 8 -84 27 -108 28 -44 16z"/>
<path fill="#c4c22a" d="M825 229l-7 -25 -11 -64 -8 -76 -5 -64 335 0 0 146 -28 3 -36 8 -88 29 -104 27 -48 16z"/>
<path fill="#ccc028" d="M825 221l-6 -21 -10 -62 -14 -138 334 0 0 137 -28 2 -36 8 -88 30 -84 22 -68 22z"/>
<path fill="#d3bf27" d="M825 213l-5 -17 -10 -60 -15 -136 334 0 0 125 -32 5 -36 9 -84 30 -76 19 -76 25z"/>
<path fill="#dabd28" d="M825 205l-4 -13 -10 -56 -15 -136 333 0 0 114 -36 7 -32 8 -36 12 -48 20 -72 17 -80 27z"/>
<path fill="#e1bc2b" d="M825 197l-4 -13 -8 -48 -16 -136 332 0 0 102 -68 17 -40 14 -44 20 -68 16 -84 28z"/>
<path fill="#e7bb2e" d="M825 188l-4 -13 -8 -43 -15 -132 331 0 0 91 -44 10 -36 12 -40 15 -32 16 -60 14 -92 30z"/>
<path fill="#edba33" d="M825 180l-4 -13 -6 -35 -17 -132 331 0 0 79 -44 11 -36 12 -40 16 -32 17 -60 14 -92 31z"/>
<path fill="#f2ba38" d="M825 172l-9 -40 -14 -120 -3 -12 330 0 0 67 -76 23 -36 14 -44 22 -60 15 -88 31z"/>
<path fill="#f8ba3d" d="M833 161l-8 3 -4 -14 -18 -138 -3 -12 329 0 0 56 -64 18 -40 16 -48 24 -68 20 -76 27z"/>
<path fill="#fcbc3d" d="M833 153l-8 3 -4 -15 -17 -129 -3 -12 328 0 0 44 -68 20 -32 13 -52 26 -72 23 -72 27z"/>
<path fill="#febf3b" d="M833 144l-8 4 -4 -16 -16 -120 -3 -12 327 0 0 33 -40 9 -32 11 -28 12 -52 28 -76 25 -68 26z"/>
<path fill="#fec339" d="M829 137l-4 2 -4 -16 -17 -123 325 0 0 21 -40 9 -36 12 -24 11 -52 29 -76 27 -72 28z"/>
<path fill="#fec636" d="M829 129l-4 1 -4 -16 -16 -114 324 0 0 9 -44 9 -36 12 -24 11 -48 30 -148 58z"/>
<path fill="#feca33" d="M825 122l-4 -17 -15 -105 304 0 -41 9 -28 9 -20 11 -44 32 -152 61z"/>
<path fill="#fdce31" d="M825 113l-4 -17 -13 -96 243 0 -22 7 -12 7 -27 26 -13 10 -36 13 -116 50z"/>
<path fill="#fbd22f" d="M825 104l-4 -17 -12 -87 184 0 3 4 1 8 -3 8 -9 12 -8 8 -32 11 -120 53z"/>
<path fill="#fad62d" d="M829 93l-4 2 -4 -17 -11 -78 168 0 6 4 2 4 -1 8 -8 13 -28 8 -120 56z"/>
<path fill="#f8da2b" d="M829 85l-4 1 -4 -17 -9 -69 148 0 5 3 12 -2 3 3 0 8 -3 7 -4 1 -8 -2 -8 1 -60 34 -68 32z"/>
<path fill="#f6de29" d="M825 77l-4 -18 -8 -59 135 0 -4 8 -7 8 -23 16 -35 20 -54 25zM977 10l-5 -2 1 -4 4 0 0 6z"/>
<path fill="#f5e227" d="M825 69l-4 -19 -7 -50 121 0 -15 16 -23 16 -72 37z"/>
<path fill="#f5e626" d="M833 56l-8 4 -4 -19 -5 -41 107 0 -14 13 -20 14 -56 29z"/>
<path fill="#f5ea24" d="M829 49l-4 2 -8 -51 94 0 -30 22 -52 27z"/>
<path fill="#f5ee21" d="M829 40l-4 2 -7 -42 80 0 -25 18 -44 22z"/>
<path fill="#f6f21e" d="M825 33l-5 -33 66 0 -17 11 -44 22z"/>
<path fill="#f7f51b" d="M825 24l-4 -24 52 0 -48 24z"/>
<path fill="#f8f917" d="M829 13l-4 3 -3 -16 35 0 -16 5 -12 8z"/>
</g>
<clipPath id="clh"><rect x="1031.8" y="1685.6" width="564.4" height="423.8"/></clipPath>
<g clip-path="url(#clh)"><path d="M1031.3 2095.5 1140.5 2096.9M1154.5 2097.2 1313.7 2099.9M1327.7 2101 1350.6 2103.8 1362.5 2104.8 1442.7 2106.8 1470.3 2097.9M1483.6 2093.5 1596.7 2056M1031.3 1927.3 1053.6 1938.7 1077.4 1951.6 1091.3 1959.6 1123 1978.7 1158.9 1998.5M1176.7 2007.8 1214.2 2026.8 1231.6 2034.6 1248.2 2041.4 1263.3 2047 1279.5 2052.2 1298.7 2057.7 1314.3 2061.6M1333.7 2066.6 1359.7 2073.9 1387 2080.1 1403.8 2082.9 1430.7 2086 1443.6 2086.8 1467.3 2078.5M1486.2 2071.9 1596.7 2033M1034 1685 1043 1706.1 1054.3 1728.5 1059.9 1738 1073.9 1759.8 1088.4 1785M1099.2 1801.8 1138.6 1856.1 1150.8 1872 1159.2 1881.9 1168.7 1892.2 1189.9 1913.4M1204.5 1927.1 1226.3 1947.8 1254.3 1971.9 1276.3 1989.2 1315.8 2018.3M1332.3 2029.7 1353.4 2043.1 1371.9 2053.1 1395.6 2063.7 1412.4 2070.3 1420.9 2073.2 1432.6 2076 1443.4 2077.9 1467.9 2069M1486.7 2062.1 1596.7 2022.1M1143.7 1685 1156 1716.7M1163.3 1735.3 1172.6 1758.5 1181.6 1779.7 1189.4 1797 1196.5 1811.4 1205 1827.2 1213.7 1841.9 1220.9 1852.7 1231.4 1867.3M1243.3 1883.4 1262.8 1908.7 1283.8 1934.2 1298.9 1951.6 1335.1 1991.7M1348.7 2006.4 1367.7 2025.6 1384.5 2039.8 1393.4 2046.3 1401.7 2051.8 1409.5 2056.2 1418.5 2060.7 1432.4 2066.3 1441.9 2069.5 1443.8 2069.8 1468.2 2060.7M1487 2053.8 1596.7 2013.1M1208.5 1685 1215.8 1707.8 1223.7 1730.5 1243.8 1780.7 1257.4 1818.3M1265.8 1836.4 1302.1 1897.5 1324.8 1932.8 1340.6 1960.6M1351.4 1977.5 1360.1 1989.7 1368 2000.1 1375.7 2009.3 1384.5 2018.8 1393.7 2028 1403.4 2036.7 1413.4 2044.9 1421.6 2050.7 1433.8 2057.6 1442 2061.4 1443.8 2061.8 1468.2 2052.7M1487 2045.8 1596.7 2005.1M1248.4 1685 1257 1714.8 1266 1744.5 1275.5 1774 1284 1798.7M1291 1817.4 1308.7 1858.8 1336.1 1917.9 1344.3 1933.9 1352.2 1946.7M1363.1 1963.5 1380.6 1990.4 1399.3 2017.5 1405 2024.5 1412.4 2032.7 1418.1 2038.3 1423.5 2042.8 1432.5 2049.1 1443.1 2054.8 1468.4 2045.5M1487.1 2038.5 1596.7 1997.1M1277.3 1685 1302.4 1777.7M1308 1796.9 1318 1828.4 1327.7 1855.7 1339.7 1885.4 1359.7 1932.3M1368.3 1950.4 1382.4 1976.8 1392 1993.3 1398.9 2004.3 1404.7 2012.4 1411.7 2020.9 1417.8 2027.5 1424.4 2033.7 1433.1 2040.4 1443.2 2046.9 1469.4 2037.2M1488.1 2030.1 1596.7 1989.1M1299.2 1685 1308.2 1724 1318.5 1762.6M1324.4 1781.7 1360.2 1881.5 1374 1918M1381.7 1936.5 1412.3 2002.8 1419.5 2014.8 1423.7 2020.3 1428.4 2025.5 1435.6 2032.5 1443.3 2038.9 1470.4 2028.8M1489.1 2021.8 1596.7 1981.2M1318 1685 1322.9 1714.6 1329.6 1745.9M1334.4 1765.4 1340.8 1786.4 1367.4 1867.2 1374.4 1887.1 1381.8 1905.7M1389.3 1924.3 1401.6 1956 1412.3 1981.9 1417.6 1993.8 1422.2 2002.6 1426.4 2009.4 1431.7 2016.7 1437.5 2023.6 1442.9 2029.5 1443.7 2029.9 1472.8 2019.1M1491.6 2012.2 1596.7 1973.2M1333.9 1685 1337.4 1707.7 1341.9 1732.3M1346.1 1751.9 1352.3 1776.1 1361.2 1806.9 1367.4 1826.9 1382 1869.5 1389 1895.6M1394.7 1914.8 1406.3 1946.7 1413.8 1965.3 1420.2 1979.9 1430.6 2000.5 1443.3 2020.9 1474.3 2010M1493.1 2003.3 1596.7 1966.2" fill="none" stroke="#000" stroke-width="1.1" stroke-linejoin="round"/><g font-family="Liberation Sans, Arial, sans-serif" font-size="9.5" text-anchor="middle" fill="#000" fill-opacity="0.82"><text transform="translate(1147.5,2097) rotate(0.8)" y="3.4">10</text><text transform="translate(1320.7,2100.3) rotate(4.6)" y="3.4">10</text><text transform="translate(1476.9,2095.7) rotate(-18.4)" y="3.4">10</text><text transform="translate(1167.8,2003.2) rotate(27.6)" y="3.4">110</text><text transform="translate(1324,2064) rotate(14.3)" y="3.4">110</text><text transform="translate(1476.7,2075.2) rotate(-19.4)" y="3.4">110</text><text transform="translate(1093.7,1793.5) rotate(57.3)" y="3.4">210</text><text transform="translate(1197.3,1920.1) rotate(43.2)" y="3.4">210</text><text transform="translate(1324,2024.1) rotate(34.2)" y="3.4">210</text><text transform="translate(1477.3,2065.6) rotate(-20)" y="3.4">210</text><text transform="translate(1159.7,1726) rotate(68.5)" y="3.4">310</text><text transform="translate(1237.3,1875.4) rotate(53.6)" y="3.4">310</text><text transform="translate(1341.9,1999.1) rotate(46.8)" y="3.4">310</text><text transform="translate(1477.6,2057.3) rotate(-20.3)" y="3.4">310</text><text transform="translate(1261.3,1827.5) rotate(65.2)" y="3.4">410</text><text transform="translate(1345.9,1969.2) rotate(57.1)" y="3.4">410</text><text transform="translate(1477.6,2049.3) rotate(-20.3)" y="3.4">410</text><text transform="translate(1287.4,1808.1) rotate(69.4)" y="3.4">510</text><text transform="translate(1357.7,1955) rotate(57.1)" y="3.4">510</text><text transform="translate(1477.7,2042) rotate(-20.7)" y="3.4">510</text><text transform="translate(1305.1,1787.3) rotate(73.7)" y="3.4">610</text><text transform="translate(1363.9,1941.4) rotate(64.4)" y="3.4">610</text><text transform="translate(1478.8,2033.6) rotate(-20.7)" y="3.4">610</text><text transform="translate(1321.3,1772.2) rotate(72.8)" y="3.4">710</text><text transform="translate(1377.8,1927.3) rotate(67.3)" y="3.4">710</text><text transform="translate(1479.7,2025.3) rotate(-20.7)" y="3.4">710</text><text transform="translate(1331.9,1755.7) rotate(76.3)" y="3.4">810</text><text transform="translate(1385.6,1914.9) rotate(68.3)" y="3.4">810</text><text transform="translate(1482.2,2015.7) rotate(-20.3)" y="3.4">810</text><text transform="translate(1344,1742.1) rotate(78)" y="3.4">910</text><text transform="translate(1391.7,1905.2) rotate(73.3)" y="3.4">910</text><text transform="translate(1483.7,2006.6) rotate(-19.7)" y="3.4">910</text></g></g>
<path d="M1137.6 2109.4v-5.5 M1137.6 1685.6v5.5 M1314 2109.4v-5.5 M1314 1685.6v5.5 M1490.4 2109.4v-5.5 M1490.4 1685.6v5.5 M1031.8 2038.8h5.5 M1596.2 2038.8h-5.5 M1031.8 1968.1h5.5 M1596.2 1968.1h-5.5 M1031.8 1897.5h5.5 M1596.2 1897.5h-5.5 M1031.8 1826.9h5.5 M1596.2 1826.9h-5.5 M1031.8 1756.2h5.5 M1596.2 1756.2h-5.5" stroke="#262626" stroke-width="1.1" fill="none"/>
<rect x="1031.8" y="1685.6" width="564.4" height="423.8" fill="none" stroke="#262626" stroke-width="2.4"/>
<g font-family="Liberation Serif, Times New Roman, serif" font-size="29.3" fill="#262626"><text x="1136.6" y="2142.6" text-anchor="middle">0.0115</text><text x="1313" y="2142.6" text-anchor="middle">0.012</text><text x="1489.4" y="2142.6" text-anchor="middle">0.0125</text><text x="1022.3" y="2119.6" text-anchor="end">0</text><text x="1022.3" y="2049" text-anchor="end">5</text><text x="1022.3" y="1978.3" text-anchor="end">10</text><text x="1022.3" y="1907.7" text-anchor="end">15</text><text x="1022.3" y="1837.1" text-anchor="end">20</text><text x="1022.3" y="1766.4" text-anchor="end">25</text><text x="1022.3" y="1695.8" text-anchor="end">30</text></g>
<rect x="1604.4" y="1685.6" width="18.8" height="423.8" fill="url(#pg)" stroke="#262626" stroke-width="1.8"/>
<path d="M1604.4 2007.3h3 M1623.2 2007.3h-3 M1604.4 1905.2h3 M1623.2 1905.2h-3 M1604.4 1803h3 M1623.2 1803h-3 M1604.4 1700.9h3 M1623.2 1700.9h-3" stroke="#262626" stroke-width="1" fill="none"/>
<g font-family="Liberation Serif, Times New Roman, serif" font-size="29.3" fill="#262626"><text x="1630.7" y="2119.6">0</text><text x="1630.7" y="2017.5">1000</text><text x="1630.7" y="1915.4">2000</text><text x="1630.7" y="1813.2">3000</text><text x="1630.7" y="1711.1">4000</text></g>
<g font-family="Liberation Serif, Times New Roman, serif" fill="#000"><text x="921.5" y="93.6" text-anchor="middle" font-size="41.3">Overall % error in <tspan font-style="italic">C</tspan> or size-partitioned phytoplankton carbon estimation</text><g transform="translate(88.9,1226.5) rotate(-90)"><text x="0" y="0" font-size="41">Error % in</text><text x="191.6" y="0" font-size="41" font-style="italic">a</text><text x="214.8" y="-15.3" font-size="34.5">m</text></g><text x="313.9" y="2216.8" font-size="41" font-style="italic">a</text><text x="337" y="2209.3" font-size="30" >*</text><text x="337.7" y="2225.8" font-size="28" textLength="37" lengthAdjust="spacingAndGlyphs">ph</text><text x="380.5" y="2216.8" font-size="41" textLength="96.5" lengthAdjust="spacingAndGlyphs">(676)</text><text x="491.3" y="2216.8" font-size="41" >(m</text><text x="538.5" y="2205.3" font-size="27" >2</text><text x="568.6" y="2216.8" font-size="41" >mg</text><text x="625.8" y="2205.3" font-size="27" >-1</text><text x="652" y="2216.8" font-size="41" >)</text><text x="1167.4" y="2216.8" font-size="41" font-style="italic">a</text><text x="1190.5" y="2209.3" font-size="30" >*</text><text x="1191.2" y="2225.8" font-size="28" textLength="37" lengthAdjust="spacingAndGlyphs">LH</text><text x="1234" y="2216.8" font-size="41" textLength="96.5" lengthAdjust="spacingAndGlyphs">(676)</text><text x="1344.8" y="2216.8" font-size="41" >(m</text><text x="1392" y="2205.3" font-size="27" >2</text><text x="1422.1" y="2216.8" font-size="41" >mg</text><text x="1479.3" y="2205.3" font-size="27" >-1</text><text x="1505.5" y="2216.8" font-size="41" >)</text><text x="267.5" y="200.7" font-size="42.5" font-style="italic">C</text><text x="1051.5" y="199.8" font-size="42.5" font-style="italic">C</text><text x="273.5" y="701.4" font-size="40" font-style="italic" textLength="21.5" lengthAdjust="spacingAndGlyphs">C</text><text x="296.8" y="707.3" font-size="27" textLength="15.5" lengthAdjust="spacingAndGlyphs">p</text><text x="272.5" y="1232.8" font-size="40" font-style="italic" textLength="21.5" lengthAdjust="spacingAndGlyphs">C</text><text x="294.8" y="1240.6" font-size="27" textLength="16" lengthAdjust="spacingAndGlyphs">n</text><text x="259.5" y="1745.8" font-size="40" font-style="italic" textLength="21.5" lengthAdjust="spacingAndGlyphs">C</text><text x="281.5" y="1753.8" font-size="27" textLength="28" lengthAdjust="spacingAndGlyphs">m</text><text x="1057.5" y="699.8" font-size="40" font-style="italic" textLength="21.5" lengthAdjust="spacingAndGlyphs">C</text><text x="1080.8" y="707.6" font-size="27" textLength="15.5" lengthAdjust="spacingAndGlyphs">p</text><text x="1057.5" y="1228.8" font-size="40" font-style="italic" textLength="21.5" lengthAdjust="spacingAndGlyphs">C</text><text x="1080.8" y="1234.5" font-size="27" textLength="16" lengthAdjust="spacingAndGlyphs">n</text><text x="1046.5" y="1743.8" font-size="40" font-style="italic" textLength="21.5" lengthAdjust="spacingAndGlyphs">C</text><text x="1069.9" y="1752.6" font-size="27" textLength="26" lengthAdjust="spacingAndGlyphs">m</text><text x="739" y="550.6" font-size="35.5" text-anchor="middle" letter-spacing="1.3">(a)</text><text x="741.3" y="1046.9" font-size="35.5" text-anchor="middle" letter-spacing="1.3">(b)</text><text x="738.4" y="1556.9" font-size="35.5" text-anchor="middle" letter-spacing="1.3">(c)</text><text x="737.4" y="2076.9" font-size="35.5" text-anchor="middle" letter-spacing="1.3">(d)</text><text x="1563.7" y="557.9" font-size="35.5" text-anchor="middle" letter-spacing="1.3">(e)</text><text x="1561.8" y="1046.9" font-size="35.5" text-anchor="middle" letter-spacing="1.3">(f)</text><text x="1563.2" y="1563.9" font-size="35.5" text-anchor="middle" letter-spacing="1.3">(g)</text><text x="1560.8" y="2085.9" font-size="35.5" text-anchor="middle" letter-spacing="1.3">(h)</text></g></svg></body></html>
